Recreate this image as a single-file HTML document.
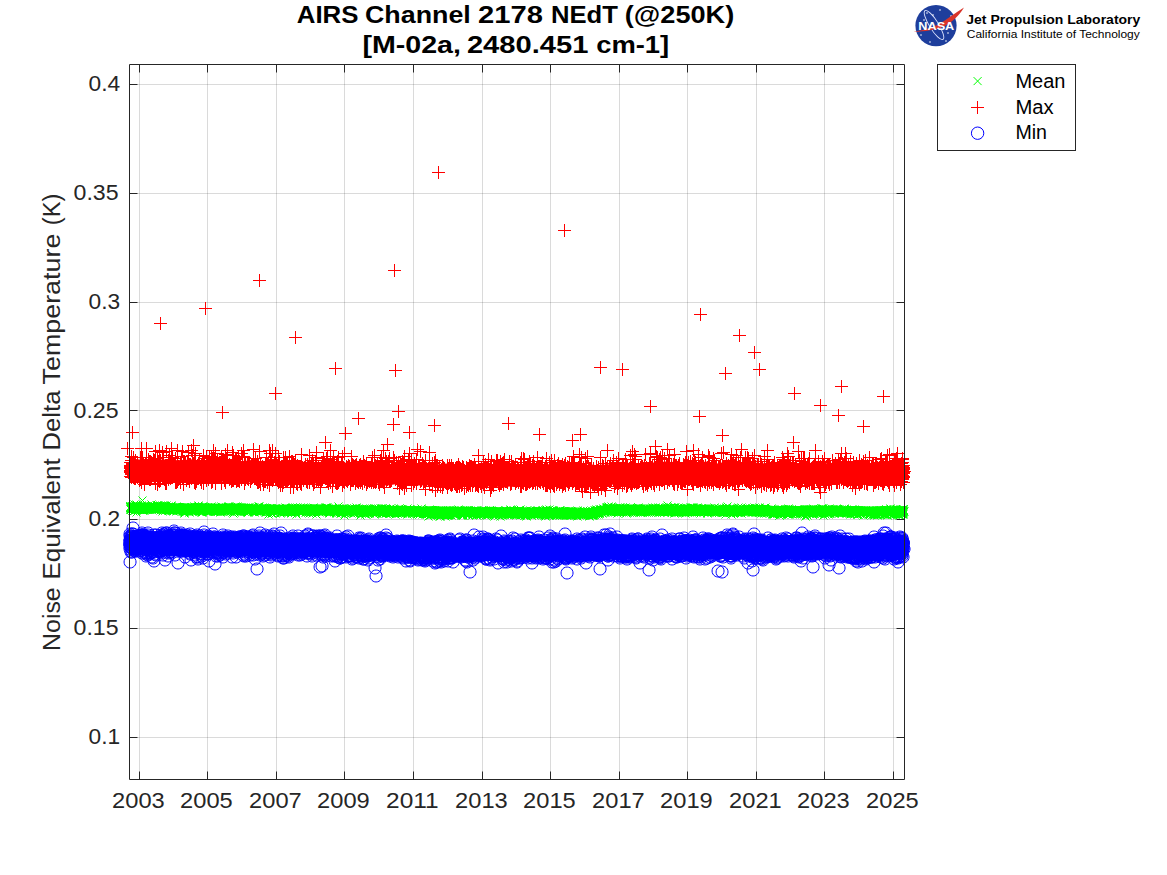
<!DOCTYPE html><html><head><meta charset="utf-8"><style>html,body{margin:0;padding:0;background:#fff;width:1167px;height:875px;overflow:hidden}svg{display:block}text{font-family:"Liberation Sans",sans-serif}</style></head><body><svg width="1167" height="875" viewBox="0 0 1167 875"><rect width="1167" height="875" fill="#fff"/><path d="M139.5 64.5V779.5M207.5 64.5V779.5M276.5 64.5V779.5M344.5 64.5V779.5M413.5 64.5V779.5M482.5 64.5V779.5M550.5 64.5V779.5M619.5 64.5V779.5M687.5 64.5V779.5M756.5 64.5V779.5M824.5 64.5V779.5M893.5 64.5V779.5" stroke="#262626" stroke-opacity=".17" stroke-width="1" fill="none"/><path d="M129.5 737.5H904.5M129.5 628.5H904.5M129.5 519.5H904.5M129.5 410.5H904.5M129.5 302.5H904.5M129.5 193.5H904.5M129.5 84.5H904.5" stroke="#262626" stroke-opacity=".17" stroke-width="1" fill="none"/><path d="M129.5 459.8 134.4 458.8 139.2 459.4 144.1 460 149 459.9 153.8 459.1 158.7 460 163.6 459.3 168.4 460.4 173.3 460.4 178.2 460 183 460.4 187.9 459.4 192.8 459.3 197.7 460.4 202.5 460.2 207.4 461.2 212.3 460.5 217.1 459.8 222 461.5 226.9 460.1 231.7 460.1 236.6 461.2 241.5 460.9 246.3 460.7 251.2 459.9 256.1 460 260.9 461.7 265.8 460.7 270.7 461.2 275.5 460.4 280.4 461.1 285.3 461.3 290.1 462.4 295 460.8 299.9 461.6 304.7 462.1 309.6 461.8 314.5 462.7 319.3 462.1 324.2 461.8 329.1 461.8 334 461.3 338.8 463.2 343.7 462.4 348.6 463.1 353.4 462.3 358.3 462 363.2 461.8 368 462.2 372.9 463.4 377.8 463.8 382.6 464 387.5 463.4 392.4 464.2 397.2 464.1 402.1 464 407 464.1 411.8 462.8 416.7 464 421.6 463.2 426.4 464.9 431.3 464.7 436.2 464.5 441 464.1 445.9 463.6 450.8 464 455.7 465.3 460.5 465.4 465.4 465.5 470.3 465.2 475.1 464.4 480 464.6 484.9 464.1 489.7 464.7 494.6 465.1 499.5 466 504.3 465.9 509.2 465.1 514.1 464.4 518.9 465 523.8 465.8 528.7 465.4 533.5 464.3 538.4 464.1 543.3 466 548.1 464.3 553 464.1 557.9 464.5 562.7 465.3 567.6 464 572.5 465.2 577.3 464.8 582.2 464.7 587.1 464.7 592 464.6 596.8 465.3 601.7 464.5 606.6 465 611.4 463.6 616.3 463.9 621.2 464.6 626 463.3 630.9 462.5 635.8 463.1 640.6 463.6 645.5 462.1 650.4 463.5 655.2 462 660.1 462.2 665 461.5 669.8 462.1 674.7 461.7 679.6 463.3 684.4 463.1 689.3 462.5 694.2 461.7 699 463 703.9 461.8 708.8 461.6 713.7 463 718.5 463.4 723.4 461.9 728.3 461.9 733.1 462.7 738 463 742.9 462.1 747.7 463.4 752.6 462.5 757.5 463 762.3 463.2 767.2 463.4 772.1 462.7 776.9 463.1 781.8 461.7 786.7 461.6 791.5 463.4 796.4 463.4 801.3 463 806.1 461.9 811 463 815.9 461.7 820.7 462 825.6 463.3 830.5 463 835.3 462.4 840.2 462.4 845.1 463.1 850 462.1 854.8 461.9 859.7 462.9 864.6 462.2 869.4 462.9 874.3 463 879.2 461.8 884 462.4 888.9 462.3 893.8 462.6 898.6 461.6 903.5 462.9 903.5 484.4 898.6 484.3 893.8 483.6 888.9 484.1 884 483.5 879.2 484.8 874.3 484.7 869.4 483.6 864.6 485 859.7 484.6 854.8 483 850 484.4 845.1 484.8 840.2 483.7 835.3 483.9 830.5 484.6 825.6 484.2 820.7 483.5 815.9 484.1 811 483.9 806.1 483.2 801.3 484.2 796.4 484.2 791.5 484.3 786.7 484.8 781.8 484.8 776.9 483.7 772.1 484.9 767.2 484.2 762.3 484.3 757.5 483.9 752.6 483.3 747.7 483.1 742.9 484.3 738 484.1 733.1 484 728.3 484.3 723.4 483.5 718.5 485 713.7 483.9 708.8 484.9 703.9 483.6 699 484.2 694.2 483.5 689.3 483.4 684.4 483.1 679.6 484.9 674.7 484.3 669.8 484.7 665 483.5 660.1 484.9 655.2 484.6 650.4 483.3 645.5 484.1 640.6 483.5 635.8 483.9 630.9 485.3 626 485 621.2 486.1 616.3 485.3 611.4 484.6 606.6 485 601.7 486 596.8 486.8 592 487.1 587.1 487.5 582.2 486.5 577.3 485.5 572.5 486.5 567.6 486.9 562.7 487.4 557.9 485.9 553 486.7 548.1 486.4 543.3 486.3 538.4 485.9 533.5 486.4 528.7 486.6 523.8 486.7 518.9 487 514.1 487.1 509.2 486.6 504.3 487.4 499.5 486.2 494.6 487.5 489.7 486.3 484.9 486.8 480 487.2 475.1 486.5 470.3 486.2 465.4 487 460.5 486.2 455.7 485.8 450.8 485.3 445.9 485 441 485.7 436.2 485.5 431.3 486.5 426.4 485 421.6 485.5 416.7 485.6 411.8 485.2 407 484.4 402.1 485.3 397.2 484 392.4 484.7 387.5 485.4 382.6 485.5 377.8 483.7 372.9 483.5 368 484 363.2 483.6 358.3 484.4 353.4 484.5 348.6 484.4 343.7 484.4 338.8 483.6 334 483.5 329.1 483.7 324.2 483.5 319.3 482.9 314.5 483.7 309.6 482.9 304.7 482.3 299.9 483.9 295 482.1 290.1 482 285.3 482.6 280.4 482 275.5 483.1 270.7 481.7 265.8 482.7 260.9 481.8 256.1 481.8 251.2 482.3 246.3 482.7 241.5 483.2 236.6 483.1 231.7 482 226.9 481.4 222 481.8 217.1 482.8 212.3 482.6 207.4 481.1 202.5 482.2 197.7 481 192.8 482 187.9 482.2 183 482.5 178.2 482.1 173.3 481 168.4 481.9 163.6 480.6 158.7 481.5 153.8 482.3 149 481.7 144.1 481.7 139.2 481.9 134.4 481.2 129.5 480.7 Z" fill="#f00"/><path d="M124 471.5h13m-6.5-6.5v13M124 468.5h13m-6.5-6.5v13M124 465.5h13m-6.5-6.5v13M124 467.5h13m-6.5-6.5v13M124 476.5h13m-6.5-6.5v13M124 466.5h13m-6.5-6.5v13M124 471.5h13m-6.5-6.5v13M124 472.5h13m-6.5-6.5v13M124 462.5h13m-6.5-6.5v13M124 470.5h13m-6.5-6.5v13M124 476.5h13m-6.5-6.5v13M125 460.5h13m-6.5-6.5v13M125 468.5h13m-6.5-6.5v13M125 469.5h13m-6.5-6.5v13M125 466.5h13m-6.5-6.5v13M125 472.5h13m-6.5-6.5v13M125 469.5h13m-6.5-6.5v13M125 462.5h13m-6.5-6.5v13M125 474.5h13m-6.5-6.5v13M125 473.5h13m-6.5-6.5v13M125 474.5h13m-6.5-6.5v13M125 477.5h13m-6.5-6.5v13M126 472.5h13m-6.5-6.5v13M126 470.5h13m-6.5-6.5v13M126 463.5h13m-6.5-6.5v13M126 473.5h13m-6.5-6.5v13M126 467.5h13m-6.5-6.5v13M126 468.5h13m-6.5-6.5v13M126 464.5h13m-6.5-6.5v13M126 465.5h13m-6.5-6.5v13M126 467.5h13m-6.5-6.5v13M126 476.5h13m-6.5-6.5v13M127 460.5h13m-6.5-6.5v13M127 463.5h13m-6.5-6.5v13M127 471.5h13m-6.5-6.5v13M127 477.5h13m-6.5-6.5v13M127 473.5h13m-6.5-6.5v13M127 460.5h13m-6.5-6.5v13M127 457.5h13m-6.5-6.5v13M127 472.5h13m-6.5-6.5v13M127 466.5h13m-6.5-6.5v13M127 464.5h13m-6.5-6.5v13M127 475.5h13m-6.5-6.5v13M128 475.5h13m-6.5-6.5v13M128 471.5h13m-6.5-6.5v13M128 471.5h13m-6.5-6.5v13M128 472.5h13m-6.5-6.5v13M128 478.5h13m-6.5-6.5v13M128 473.5h13m-6.5-6.5v13M128 472.5h13m-6.5-6.5v13M128 473.5h13m-6.5-6.5v13M128 462.5h13m-6.5-6.5v13M128 476.5h13m-6.5-6.5v13M129 475.5h13m-6.5-6.5v13M129 473.5h13m-6.5-6.5v13M129 460.5h13m-6.5-6.5v13M129 467.5h13m-6.5-6.5v13M129 474.5h13m-6.5-6.5v13M129 461.5h13m-6.5-6.5v13M129 469.5h13m-6.5-6.5v13M129 475.5h13m-6.5-6.5v13M129 463.5h13m-6.5-6.5v13M129 478.5h13m-6.5-6.5v13M129 473.5h13m-6.5-6.5v13M130 469.5h13m-6.5-6.5v13M130 472.5h13m-6.5-6.5v13M130 473.5h13m-6.5-6.5v13M130 471.5h13m-6.5-6.5v13M130 476.5h13m-6.5-6.5v13M130 467.5h13m-6.5-6.5v13M130 468.5h13m-6.5-6.5v13M130 475.5h13m-6.5-6.5v13M130 470.5h13m-6.5-6.5v13M130 466.5h13m-6.5-6.5v13M130 475.5h13m-6.5-6.5v13M131 477.5h13m-6.5-6.5v13M131 463.5h13m-6.5-6.5v13M131 477.5h13m-6.5-6.5v13M131 465.5h13m-6.5-6.5v13M131 476.5h13m-6.5-6.5v13M131 464.5h13m-6.5-6.5v13M132 476.5h13m-6.5-6.5v13M133 480.5h13m-6.5-6.5v13M133 475.5h13m-6.5-6.5v13M134 479.5h13m-6.5-6.5v13M134 457.5h13m-6.5-6.5v13M134 465.5h13m-6.5-6.5v13M135 482.5h13m-6.5-6.5v13M135 457.5h13m-6.5-6.5v13M135 475.5h13m-6.5-6.5v13M135 464.5h13m-6.5-6.5v13M136 475.5h13m-6.5-6.5v13M136 478.5h13m-6.5-6.5v13M136 462.5h13m-6.5-6.5v13M136 476.5h13m-6.5-6.5v13M136 457.5h13m-6.5-6.5v13M136 476.5h13m-6.5-6.5v13M137 463.5h13m-6.5-6.5v13M137 463.5h13m-6.5-6.5v13M137 476.5h13m-6.5-6.5v13M137 478.5h13m-6.5-6.5v13M138 476.5h13m-6.5-6.5v13M138 484.5h13m-6.5-6.5v13M138 465.5h13m-6.5-6.5v13M139 463.5h13m-6.5-6.5v13M139 463.5h13m-6.5-6.5v13M139 466.5h13m-6.5-6.5v13M139 465.5h13m-6.5-6.5v13M139 463.5h13m-6.5-6.5v13M139 477.5h13m-6.5-6.5v13M139 478.5h13m-6.5-6.5v13M139 466.5h13m-6.5-6.5v13M140 465.5h13m-6.5-6.5v13M140 478.5h13m-6.5-6.5v13M140 466.5h13m-6.5-6.5v13M140 478.5h13m-6.5-6.5v13M140 475.5h13m-6.5-6.5v13M140 461.5h13m-6.5-6.5v13M140 477.5h13m-6.5-6.5v13M141 478.5h13m-6.5-6.5v13M141 465.5h13m-6.5-6.5v13M141 476.5h13m-6.5-6.5v13M141 478.5h13m-6.5-6.5v13M141 478.5h13m-6.5-6.5v13M141 476.5h13m-6.5-6.5v13M142 478.5h13m-6.5-6.5v13M142 459.5h13m-6.5-6.5v13M142 461.5h13m-6.5-6.5v13M143 477.5h13m-6.5-6.5v13M143 476.5h13m-6.5-6.5v13M143 478.5h13m-6.5-6.5v13M143 479.5h13m-6.5-6.5v13M143 461.5h13m-6.5-6.5v13M144 465.5h13m-6.5-6.5v13M144 461.5h13m-6.5-6.5v13M144 476.5h13m-6.5-6.5v13M144 465.5h13m-6.5-6.5v13M144 479.5h13m-6.5-6.5v13M145 476.5h13m-6.5-6.5v13M145 464.5h13m-6.5-6.5v13M145 476.5h13m-6.5-6.5v13M145 462.5h13m-6.5-6.5v13M145 476.5h13m-6.5-6.5v13M146 465.5h13m-6.5-6.5v13M146 463.5h13m-6.5-6.5v13M146 475.5h13m-6.5-6.5v13M146 466.5h13m-6.5-6.5v13M146 463.5h13m-6.5-6.5v13M147 465.5h13m-6.5-6.5v13M147 459.5h13m-6.5-6.5v13M147 461.5h13m-6.5-6.5v13M147 460.5h13m-6.5-6.5v13M147 466.5h13m-6.5-6.5v13M148 477.5h13m-6.5-6.5v13M148 460.5h13m-6.5-6.5v13M149 477.5h13m-6.5-6.5v13M149 480.5h13m-6.5-6.5v13M149 462.5h13m-6.5-6.5v13M149 483.5h13m-6.5-6.5v13M149 466.5h13m-6.5-6.5v13M149 480.5h13m-6.5-6.5v13M150 466.5h13m-6.5-6.5v13M150 466.5h13m-6.5-6.5v13M151 466.5h13m-6.5-6.5v13M151 467.5h13m-6.5-6.5v13M151 484.5h13m-6.5-6.5v13M151 476.5h13m-6.5-6.5v13M151 458.5h13m-6.5-6.5v13M152 479.5h13m-6.5-6.5v13M152 461.5h13m-6.5-6.5v13M152 476.5h13m-6.5-6.5v13M152 477.5h13m-6.5-6.5v13M152 480.5h13m-6.5-6.5v13M152 464.5h13m-6.5-6.5v13M153 466.5h13m-6.5-6.5v13M153 481.5h13m-6.5-6.5v13M153 476.5h13m-6.5-6.5v13M153 465.5h13m-6.5-6.5v13M153 464.5h13m-6.5-6.5v13M153 479.5h13m-6.5-6.5v13M154 476.5h13m-6.5-6.5v13M154 480.5h13m-6.5-6.5v13M154 466.5h13m-6.5-6.5v13M154 460.5h13m-6.5-6.5v13M155 467.5h13m-6.5-6.5v13M156 464.5h13m-6.5-6.5v13M156 476.5h13m-6.5-6.5v13M157 466.5h13m-6.5-6.5v13M157 461.5h13m-6.5-6.5v13M157 466.5h13m-6.5-6.5v13M157 465.5h13m-6.5-6.5v13M157 457.5h13m-6.5-6.5v13M157 465.5h13m-6.5-6.5v13M157 478.5h13m-6.5-6.5v13M157 464.5h13m-6.5-6.5v13M158 478.5h13m-6.5-6.5v13M158 479.5h13m-6.5-6.5v13M158 475.5h13m-6.5-6.5v13M159 476.5h13m-6.5-6.5v13M159 465.5h13m-6.5-6.5v13M159 476.5h13m-6.5-6.5v13M159 483.5h13m-6.5-6.5v13M159 477.5h13m-6.5-6.5v13M160 483.5h13m-6.5-6.5v13M160 475.5h13m-6.5-6.5v13M160 465.5h13m-6.5-6.5v13M161 476.5h13m-6.5-6.5v13M161 465.5h13m-6.5-6.5v13M162 463.5h13m-6.5-6.5v13M162 460.5h13m-6.5-6.5v13M162 463.5h13m-6.5-6.5v13M162 479.5h13m-6.5-6.5v13M163 476.5h13m-6.5-6.5v13M163 466.5h13m-6.5-6.5v13M163 461.5h13m-6.5-6.5v13M163 475.5h13m-6.5-6.5v13M163 461.5h13m-6.5-6.5v13M164 462.5h13m-6.5-6.5v13M164 461.5h13m-6.5-6.5v13M164 465.5h13m-6.5-6.5v13M164 463.5h13m-6.5-6.5v13M164 478.5h13m-6.5-6.5v13M164 476.5h13m-6.5-6.5v13M165 464.5h13m-6.5-6.5v13M165 465.5h13m-6.5-6.5v13M165 465.5h13m-6.5-6.5v13M165 462.5h13m-6.5-6.5v13M165 464.5h13m-6.5-6.5v13M166 457.5h13m-6.5-6.5v13M166 465.5h13m-6.5-6.5v13M167 463.5h13m-6.5-6.5v13M167 463.5h13m-6.5-6.5v13M167 466.5h13m-6.5-6.5v13M168 464.5h13m-6.5-6.5v13M168 465.5h13m-6.5-6.5v13M169 482.5h13m-6.5-6.5v13M169 476.5h13m-6.5-6.5v13M169 476.5h13m-6.5-6.5v13M169 458.5h13m-6.5-6.5v13M170 482.5h13m-6.5-6.5v13M170 477.5h13m-6.5-6.5v13M170 475.5h13m-6.5-6.5v13M171 465.5h13m-6.5-6.5v13M171 476.5h13m-6.5-6.5v13M171 465.5h13m-6.5-6.5v13M171 481.5h13m-6.5-6.5v13M171 476.5h13m-6.5-6.5v13M171 466.5h13m-6.5-6.5v13M172 479.5h13m-6.5-6.5v13M172 479.5h13m-6.5-6.5v13M172 477.5h13m-6.5-6.5v13M173 477.5h13m-6.5-6.5v13M173 478.5h13m-6.5-6.5v13M174 476.5h13m-6.5-6.5v13M174 482.5h13m-6.5-6.5v13M174 462.5h13m-6.5-6.5v13M174 479.5h13m-6.5-6.5v13M174 477.5h13m-6.5-6.5v13M174 464.5h13m-6.5-6.5v13M175 463.5h13m-6.5-6.5v13M175 462.5h13m-6.5-6.5v13M175 476.5h13m-6.5-6.5v13M175 465.5h13m-6.5-6.5v13M175 463.5h13m-6.5-6.5v13M176 466.5h13m-6.5-6.5v13M176 478.5h13m-6.5-6.5v13M177 466.5h13m-6.5-6.5v13M177 481.5h13m-6.5-6.5v13M177 484.5h13m-6.5-6.5v13M177 461.5h13m-6.5-6.5v13M178 461.5h13m-6.5-6.5v13M178 466.5h13m-6.5-6.5v13M179 465.5h13m-6.5-6.5v13M179 465.5h13m-6.5-6.5v13M179 463.5h13m-6.5-6.5v13M180 466.5h13m-6.5-6.5v13M180 480.5h13m-6.5-6.5v13M181 478.5h13m-6.5-6.5v13M181 462.5h13m-6.5-6.5v13M181 478.5h13m-6.5-6.5v13M181 462.5h13m-6.5-6.5v13M182 463.5h13m-6.5-6.5v13M182 478.5h13m-6.5-6.5v13M182 465.5h13m-6.5-6.5v13M182 464.5h13m-6.5-6.5v13M183 464.5h13m-6.5-6.5v13M183 479.5h13m-6.5-6.5v13M183 481.5h13m-6.5-6.5v13M183 465.5h13m-6.5-6.5v13M184 465.5h13m-6.5-6.5v13M184 464.5h13m-6.5-6.5v13M184 476.5h13m-6.5-6.5v13M185 477.5h13m-6.5-6.5v13M185 478.5h13m-6.5-6.5v13M186 463.5h13m-6.5-6.5v13M186 465.5h13m-6.5-6.5v13M186 461.5h13m-6.5-6.5v13M187 463.5h13m-6.5-6.5v13M188 479.5h13m-6.5-6.5v13M188 482.5h13m-6.5-6.5v13M188 476.5h13m-6.5-6.5v13M188 464.5h13m-6.5-6.5v13M188 460.5h13m-6.5-6.5v13M189 483.5h13m-6.5-6.5v13M189 475.5h13m-6.5-6.5v13M189 479.5h13m-6.5-6.5v13M189 464.5h13m-6.5-6.5v13M189 453.5h13m-6.5-6.5v13M190 475.5h13m-6.5-6.5v13M190 481.5h13m-6.5-6.5v13M190 466.5h13m-6.5-6.5v13M191 465.5h13m-6.5-6.5v13M191 478.5h13m-6.5-6.5v13M191 466.5h13m-6.5-6.5v13M192 476.5h13m-6.5-6.5v13M192 463.5h13m-6.5-6.5v13M192 478.5h13m-6.5-6.5v13M192 463.5h13m-6.5-6.5v13M192 475.5h13m-6.5-6.5v13M193 460.5h13m-6.5-6.5v13M193 477.5h13m-6.5-6.5v13M194 478.5h13m-6.5-6.5v13M194 479.5h13m-6.5-6.5v13M194 477.5h13m-6.5-6.5v13M195 476.5h13m-6.5-6.5v13M195 482.5h13m-6.5-6.5v13M195 465.5h13m-6.5-6.5v13M196 463.5h13m-6.5-6.5v13M196 463.5h13m-6.5-6.5v13M197 478.5h13m-6.5-6.5v13M197 477.5h13m-6.5-6.5v13M197 464.5h13m-6.5-6.5v13M197 483.5h13m-6.5-6.5v13M197 481.5h13m-6.5-6.5v13M197 461.5h13m-6.5-6.5v13M198 475.5h13m-6.5-6.5v13M198 465.5h13m-6.5-6.5v13M198 476.5h13m-6.5-6.5v13M198 465.5h13m-6.5-6.5v13M198 465.5h13m-6.5-6.5v13M198 461.5h13m-6.5-6.5v13M199 466.5h13m-6.5-6.5v13M199 476.5h13m-6.5-6.5v13M200 479.5h13m-6.5-6.5v13M200 458.5h13m-6.5-6.5v13M200 480.5h13m-6.5-6.5v13M200 464.5h13m-6.5-6.5v13M201 461.5h13m-6.5-6.5v13M201 476.5h13m-6.5-6.5v13M201 461.5h13m-6.5-6.5v13M201 477.5h13m-6.5-6.5v13M202 466.5h13m-6.5-6.5v13M202 479.5h13m-6.5-6.5v13M202 465.5h13m-6.5-6.5v13M203 475.5h13m-6.5-6.5v13M203 477.5h13m-6.5-6.5v13M204 464.5h13m-6.5-6.5v13M204 465.5h13m-6.5-6.5v13M205 477.5h13m-6.5-6.5v13M205 466.5h13m-6.5-6.5v13M205 482.5h13m-6.5-6.5v13M205 476.5h13m-6.5-6.5v13M206 481.5h13m-6.5-6.5v13M206 458.5h13m-6.5-6.5v13M206 481.5h13m-6.5-6.5v13M206 462.5h13m-6.5-6.5v13M206 462.5h13m-6.5-6.5v13M207 476.5h13m-6.5-6.5v13M207 477.5h13m-6.5-6.5v13M207 463.5h13m-6.5-6.5v13M207 462.5h13m-6.5-6.5v13M207 476.5h13m-6.5-6.5v13M207 466.5h13m-6.5-6.5v13M208 459.5h13m-6.5-6.5v13M208 458.5h13m-6.5-6.5v13M209 483.5h13m-6.5-6.5v13M209 466.5h13m-6.5-6.5v13M209 476.5h13m-6.5-6.5v13M210 462.5h13m-6.5-6.5v13M210 476.5h13m-6.5-6.5v13M210 475.5h13m-6.5-6.5v13M210 465.5h13m-6.5-6.5v13M211 460.5h13m-6.5-6.5v13M211 476.5h13m-6.5-6.5v13M211 465.5h13m-6.5-6.5v13M212 464.5h13m-6.5-6.5v13M212 464.5h13m-6.5-6.5v13M212 465.5h13m-6.5-6.5v13M212 477.5h13m-6.5-6.5v13M213 462.5h13m-6.5-6.5v13M214 462.5h13m-6.5-6.5v13M214 465.5h13m-6.5-6.5v13M215 480.5h13m-6.5-6.5v13M215 457.5h13m-6.5-6.5v13M215 461.5h13m-6.5-6.5v13M215 475.5h13m-6.5-6.5v13M215 483.5h13m-6.5-6.5v13M215 458.5h13m-6.5-6.5v13M216 459.5h13m-6.5-6.5v13M217 459.5h13m-6.5-6.5v13M217 466.5h13m-6.5-6.5v13M217 476.5h13m-6.5-6.5v13M218 480.5h13m-6.5-6.5v13M218 466.5h13m-6.5-6.5v13M218 461.5h13m-6.5-6.5v13M218 478.5h13m-6.5-6.5v13M218 475.5h13m-6.5-6.5v13M218 466.5h13m-6.5-6.5v13M219 461.5h13m-6.5-6.5v13M219 465.5h13m-6.5-6.5v13M219 482.5h13m-6.5-6.5v13M219 480.5h13m-6.5-6.5v13M219 477.5h13m-6.5-6.5v13M220 465.5h13m-6.5-6.5v13M220 477.5h13m-6.5-6.5v13M220 461.5h13m-6.5-6.5v13M220 459.5h13m-6.5-6.5v13M220 464.5h13m-6.5-6.5v13M221 460.5h13m-6.5-6.5v13M222 475.5h13m-6.5-6.5v13M222 477.5h13m-6.5-6.5v13M223 466.5h13m-6.5-6.5v13M223 478.5h13m-6.5-6.5v13M223 479.5h13m-6.5-6.5v13M223 476.5h13m-6.5-6.5v13M223 476.5h13m-6.5-6.5v13M223 464.5h13m-6.5-6.5v13M224 477.5h13m-6.5-6.5v13M224 466.5h13m-6.5-6.5v13M224 466.5h13m-6.5-6.5v13M224 478.5h13m-6.5-6.5v13M225 481.5h13m-6.5-6.5v13M225 476.5h13m-6.5-6.5v13M225 478.5h13m-6.5-6.5v13M225 477.5h13m-6.5-6.5v13M226 477.5h13m-6.5-6.5v13M226 463.5h13m-6.5-6.5v13M226 480.5h13m-6.5-6.5v13M227 463.5h13m-6.5-6.5v13M227 480.5h13m-6.5-6.5v13M227 465.5h13m-6.5-6.5v13M227 465.5h13m-6.5-6.5v13M228 466.5h13m-6.5-6.5v13M228 478.5h13m-6.5-6.5v13M228 462.5h13m-6.5-6.5v13M228 466.5h13m-6.5-6.5v13M228 465.5h13m-6.5-6.5v13M229 478.5h13m-6.5-6.5v13M229 459.5h13m-6.5-6.5v13M230 466.5h13m-6.5-6.5v13M230 481.5h13m-6.5-6.5v13M230 466.5h13m-6.5-6.5v13M230 465.5h13m-6.5-6.5v13M230 464.5h13m-6.5-6.5v13M230 459.5h13m-6.5-6.5v13M230 461.5h13m-6.5-6.5v13M231 461.5h13m-6.5-6.5v13M231 463.5h13m-6.5-6.5v13M231 477.5h13m-6.5-6.5v13M231 480.5h13m-6.5-6.5v13M231 476.5h13m-6.5-6.5v13M232 480.5h13m-6.5-6.5v13M232 478.5h13m-6.5-6.5v13M232 464.5h13m-6.5-6.5v13M233 463.5h13m-6.5-6.5v13M233 477.5h13m-6.5-6.5v13M233 465.5h13m-6.5-6.5v13M233 478.5h13m-6.5-6.5v13M233 461.5h13m-6.5-6.5v13M233 480.5h13m-6.5-6.5v13M233 481.5h13m-6.5-6.5v13M234 465.5h13m-6.5-6.5v13M234 476.5h13m-6.5-6.5v13M234 463.5h13m-6.5-6.5v13M234 465.5h13m-6.5-6.5v13M234 464.5h13m-6.5-6.5v13M235 476.5h13m-6.5-6.5v13M235 479.5h13m-6.5-6.5v13M236 477.5h13m-6.5-6.5v13M236 465.5h13m-6.5-6.5v13M236 476.5h13m-6.5-6.5v13M236 463.5h13m-6.5-6.5v13M236 467.5h13m-6.5-6.5v13M237 477.5h13m-6.5-6.5v13M238 457.5h13m-6.5-6.5v13M238 477.5h13m-6.5-6.5v13M238 462.5h13m-6.5-6.5v13M238 476.5h13m-6.5-6.5v13M238 466.5h13m-6.5-6.5v13M238 479.5h13m-6.5-6.5v13M238 483.5h13m-6.5-6.5v13M239 466.5h13m-6.5-6.5v13M239 477.5h13m-6.5-6.5v13M239 479.5h13m-6.5-6.5v13M239 463.5h13m-6.5-6.5v13M240 467.5h13m-6.5-6.5v13M240 476.5h13m-6.5-6.5v13M241 464.5h13m-6.5-6.5v13M241 478.5h13m-6.5-6.5v13M241 477.5h13m-6.5-6.5v13M241 463.5h13m-6.5-6.5v13M241 464.5h13m-6.5-6.5v13M242 476.5h13m-6.5-6.5v13M242 479.5h13m-6.5-6.5v13M242 467.5h13m-6.5-6.5v13M242 464.5h13m-6.5-6.5v13M242 476.5h13m-6.5-6.5v13M242 465.5h13m-6.5-6.5v13M243 462.5h13m-6.5-6.5v13M244 479.5h13m-6.5-6.5v13M244 481.5h13m-6.5-6.5v13M244 479.5h13m-6.5-6.5v13M244 480.5h13m-6.5-6.5v13M245 466.5h13m-6.5-6.5v13M245 478.5h13m-6.5-6.5v13M245 464.5h13m-6.5-6.5v13M245 476.5h13m-6.5-6.5v13M246 466.5h13m-6.5-6.5v13M246 467.5h13m-6.5-6.5v13M246 477.5h13m-6.5-6.5v13M246 465.5h13m-6.5-6.5v13M246 476.5h13m-6.5-6.5v13M247 464.5h13m-6.5-6.5v13M247 461.5h13m-6.5-6.5v13M247 464.5h13m-6.5-6.5v13M247 465.5h13m-6.5-6.5v13M248 467.5h13m-6.5-6.5v13M248 478.5h13m-6.5-6.5v13M248 464.5h13m-6.5-6.5v13M248 467.5h13m-6.5-6.5v13M249 466.5h13m-6.5-6.5v13M249 461.5h13m-6.5-6.5v13M249 478.5h13m-6.5-6.5v13M249 467.5h13m-6.5-6.5v13M249 458.5h13m-6.5-6.5v13M250 478.5h13m-6.5-6.5v13M250 476.5h13m-6.5-6.5v13M250 479.5h13m-6.5-6.5v13M250 477.5h13m-6.5-6.5v13M250 477.5h13m-6.5-6.5v13M250 464.5h13m-6.5-6.5v13M250 465.5h13m-6.5-6.5v13M251 466.5h13m-6.5-6.5v13M251 461.5h13m-6.5-6.5v13M251 478.5h13m-6.5-6.5v13M251 479.5h13m-6.5-6.5v13M251 465.5h13m-6.5-6.5v13M251 477.5h13m-6.5-6.5v13M251 482.5h13m-6.5-6.5v13M252 482.5h13m-6.5-6.5v13M252 477.5h13m-6.5-6.5v13M252 477.5h13m-6.5-6.5v13M252 465.5h13m-6.5-6.5v13M253 480.5h13m-6.5-6.5v13M253 477.5h13m-6.5-6.5v13M253 481.5h13m-6.5-6.5v13M253 478.5h13m-6.5-6.5v13M253 478.5h13m-6.5-6.5v13M254 465.5h13m-6.5-6.5v13M254 466.5h13m-6.5-6.5v13M254 484.5h13m-6.5-6.5v13M254 468.5h13m-6.5-6.5v13M254 478.5h13m-6.5-6.5v13M254 464.5h13m-6.5-6.5v13M254 468.5h13m-6.5-6.5v13M255 468.5h13m-6.5-6.5v13M256 480.5h13m-6.5-6.5v13M256 477.5h13m-6.5-6.5v13M256 466.5h13m-6.5-6.5v13M257 481.5h13m-6.5-6.5v13M257 468.5h13m-6.5-6.5v13M257 481.5h13m-6.5-6.5v13M257 479.5h13m-6.5-6.5v13M257 467.5h13m-6.5-6.5v13M257 478.5h13m-6.5-6.5v13M257 479.5h13m-6.5-6.5v13M257 484.5h13m-6.5-6.5v13M258 481.5h13m-6.5-6.5v13M258 480.5h13m-6.5-6.5v13M258 467.5h13m-6.5-6.5v13M259 477.5h13m-6.5-6.5v13M259 481.5h13m-6.5-6.5v13M259 466.5h13m-6.5-6.5v13M259 467.5h13m-6.5-6.5v13M259 467.5h13m-6.5-6.5v13M259 463.5h13m-6.5-6.5v13M259 463.5h13m-6.5-6.5v13M259 480.5h13m-6.5-6.5v13M260 464.5h13m-6.5-6.5v13M260 463.5h13m-6.5-6.5v13M261 467.5h13m-6.5-6.5v13M261 463.5h13m-6.5-6.5v13M261 482.5h13m-6.5-6.5v13M261 466.5h13m-6.5-6.5v13M261 468.5h13m-6.5-6.5v13M262 464.5h13m-6.5-6.5v13M262 468.5h13m-6.5-6.5v13M262 467.5h13m-6.5-6.5v13M262 479.5h13m-6.5-6.5v13M262 468.5h13m-6.5-6.5v13M262 462.5h13m-6.5-6.5v13M263 466.5h13m-6.5-6.5v13M263 485.5h13m-6.5-6.5v13M263 467.5h13m-6.5-6.5v13M263 466.5h13m-6.5-6.5v13M263 467.5h13m-6.5-6.5v13M263 481.5h13m-6.5-6.5v13M264 464.5h13m-6.5-6.5v13M264 478.5h13m-6.5-6.5v13M264 467.5h13m-6.5-6.5v13M265 468.5h13m-6.5-6.5v13M265 459.5h13m-6.5-6.5v13M265 468.5h13m-6.5-6.5v13M265 465.5h13m-6.5-6.5v13M265 479.5h13m-6.5-6.5v13M266 467.5h13m-6.5-6.5v13M266 466.5h13m-6.5-6.5v13M266 480.5h13m-6.5-6.5v13M266 477.5h13m-6.5-6.5v13M266 469.5h13m-6.5-6.5v13M267 479.5h13m-6.5-6.5v13M267 468.5h13m-6.5-6.5v13M267 465.5h13m-6.5-6.5v13M267 478.5h13m-6.5-6.5v13M267 467.5h13m-6.5-6.5v13M267 468.5h13m-6.5-6.5v13M267 466.5h13m-6.5-6.5v13M268 468.5h13m-6.5-6.5v13M268 462.5h13m-6.5-6.5v13M269 465.5h13m-6.5-6.5v13M269 478.5h13m-6.5-6.5v13M269 477.5h13m-6.5-6.5v13M269 465.5h13m-6.5-6.5v13M269 464.5h13m-6.5-6.5v13M270 479.5h13m-6.5-6.5v13M270 467.5h13m-6.5-6.5v13M270 477.5h13m-6.5-6.5v13M270 477.5h13m-6.5-6.5v13M270 463.5h13m-6.5-6.5v13M271 466.5h13m-6.5-6.5v13M271 478.5h13m-6.5-6.5v13M271 480.5h13m-6.5-6.5v13M272 482.5h13m-6.5-6.5v13M272 481.5h13m-6.5-6.5v13M272 481.5h13m-6.5-6.5v13M272 478.5h13m-6.5-6.5v13M273 481.5h13m-6.5-6.5v13M273 463.5h13m-6.5-6.5v13M273 467.5h13m-6.5-6.5v13M273 467.5h13m-6.5-6.5v13M273 461.5h13m-6.5-6.5v13M274 485.5h13m-6.5-6.5v13M274 480.5h13m-6.5-6.5v13M274 480.5h13m-6.5-6.5v13M274 477.5h13m-6.5-6.5v13M275 481.5h13m-6.5-6.5v13M275 468.5h13m-6.5-6.5v13M275 477.5h13m-6.5-6.5v13M275 466.5h13m-6.5-6.5v13M275 478.5h13m-6.5-6.5v13M275 479.5h13m-6.5-6.5v13M275 468.5h13m-6.5-6.5v13M275 478.5h13m-6.5-6.5v13M276 466.5h13m-6.5-6.5v13M276 478.5h13m-6.5-6.5v13M276 481.5h13m-6.5-6.5v13M276 485.5h13m-6.5-6.5v13M276 477.5h13m-6.5-6.5v13M277 464.5h13m-6.5-6.5v13M277 478.5h13m-6.5-6.5v13M277 482.5h13m-6.5-6.5v13M277 463.5h13m-6.5-6.5v13M277 467.5h13m-6.5-6.5v13M278 478.5h13m-6.5-6.5v13M278 464.5h13m-6.5-6.5v13M278 466.5h13m-6.5-6.5v13M278 467.5h13m-6.5-6.5v13M279 463.5h13m-6.5-6.5v13M279 481.5h13m-6.5-6.5v13M279 463.5h13m-6.5-6.5v13M279 478.5h13m-6.5-6.5v13M279 465.5h13m-6.5-6.5v13M279 468.5h13m-6.5-6.5v13M279 462.5h13m-6.5-6.5v13M280 464.5h13m-6.5-6.5v13M280 480.5h13m-6.5-6.5v13M280 467.5h13m-6.5-6.5v13M280 468.5h13m-6.5-6.5v13M281 481.5h13m-6.5-6.5v13M281 467.5h13m-6.5-6.5v13M281 480.5h13m-6.5-6.5v13M281 477.5h13m-6.5-6.5v13M281 463.5h13m-6.5-6.5v13M282 467.5h13m-6.5-6.5v13M282 468.5h13m-6.5-6.5v13M282 466.5h13m-6.5-6.5v13M282 479.5h13m-6.5-6.5v13M282 468.5h13m-6.5-6.5v13M282 477.5h13m-6.5-6.5v13M283 467.5h13m-6.5-6.5v13M283 477.5h13m-6.5-6.5v13M283 478.5h13m-6.5-6.5v13M284 487.5h13m-6.5-6.5v13M284 468.5h13m-6.5-6.5v13M285 467.5h13m-6.5-6.5v13M285 480.5h13m-6.5-6.5v13M285 478.5h13m-6.5-6.5v13M285 461.5h13m-6.5-6.5v13M286 463.5h13m-6.5-6.5v13M286 461.5h13m-6.5-6.5v13M286 468.5h13m-6.5-6.5v13M286 481.5h13m-6.5-6.5v13M286 481.5h13m-6.5-6.5v13M287 479.5h13m-6.5-6.5v13M287 464.5h13m-6.5-6.5v13M287 463.5h13m-6.5-6.5v13M287 468.5h13m-6.5-6.5v13M287 487.5h13m-6.5-6.5v13M288 477.5h13m-6.5-6.5v13M288 481.5h13m-6.5-6.5v13M288 466.5h13m-6.5-6.5v13M288 465.5h13m-6.5-6.5v13M288 464.5h13m-6.5-6.5v13M289 461.5h13m-6.5-6.5v13M289 460.5h13m-6.5-6.5v13M289 465.5h13m-6.5-6.5v13M289 468.5h13m-6.5-6.5v13M290 483.5h13m-6.5-6.5v13M291 484.5h13m-6.5-6.5v13M291 479.5h13m-6.5-6.5v13M291 465.5h13m-6.5-6.5v13M291 482.5h13m-6.5-6.5v13M291 479.5h13m-6.5-6.5v13M292 466.5h13m-6.5-6.5v13M292 468.5h13m-6.5-6.5v13M292 467.5h13m-6.5-6.5v13M292 466.5h13m-6.5-6.5v13M293 478.5h13m-6.5-6.5v13M293 480.5h13m-6.5-6.5v13M293 477.5h13m-6.5-6.5v13M293 477.5h13m-6.5-6.5v13M294 468.5h13m-6.5-6.5v13M294 482.5h13m-6.5-6.5v13M294 483.5h13m-6.5-6.5v13M294 481.5h13m-6.5-6.5v13M294 482.5h13m-6.5-6.5v13M294 468.5h13m-6.5-6.5v13M295 462.5h13m-6.5-6.5v13M295 484.5h13m-6.5-6.5v13M295 484.5h13m-6.5-6.5v13M296 468.5h13m-6.5-6.5v13M296 468.5h13m-6.5-6.5v13M296 467.5h13m-6.5-6.5v13M296 477.5h13m-6.5-6.5v13M297 480.5h13m-6.5-6.5v13M297 468.5h13m-6.5-6.5v13M298 467.5h13m-6.5-6.5v13M298 468.5h13m-6.5-6.5v13M298 467.5h13m-6.5-6.5v13M299 468.5h13m-6.5-6.5v13M299 469.5h13m-6.5-6.5v13M299 478.5h13m-6.5-6.5v13M299 464.5h13m-6.5-6.5v13M299 477.5h13m-6.5-6.5v13M300 481.5h13m-6.5-6.5v13M300 468.5h13m-6.5-6.5v13M300 478.5h13m-6.5-6.5v13M300 479.5h13m-6.5-6.5v13M301 467.5h13m-6.5-6.5v13M301 478.5h13m-6.5-6.5v13M301 478.5h13m-6.5-6.5v13M301 464.5h13m-6.5-6.5v13M301 480.5h13m-6.5-6.5v13M301 467.5h13m-6.5-6.5v13M301 478.5h13m-6.5-6.5v13M301 482.5h13m-6.5-6.5v13M302 478.5h13m-6.5-6.5v13M302 467.5h13m-6.5-6.5v13M303 482.5h13m-6.5-6.5v13M303 480.5h13m-6.5-6.5v13M303 468.5h13m-6.5-6.5v13M304 478.5h13m-6.5-6.5v13M304 467.5h13m-6.5-6.5v13M304 467.5h13m-6.5-6.5v13M305 465.5h13m-6.5-6.5v13M305 468.5h13m-6.5-6.5v13M305 478.5h13m-6.5-6.5v13M305 478.5h13m-6.5-6.5v13M305 463.5h13m-6.5-6.5v13M306 468.5h13m-6.5-6.5v13M306 464.5h13m-6.5-6.5v13M306 480.5h13m-6.5-6.5v13M306 469.5h13m-6.5-6.5v13M306 460.5h13m-6.5-6.5v13M306 479.5h13m-6.5-6.5v13M307 463.5h13m-6.5-6.5v13M307 464.5h13m-6.5-6.5v13M307 479.5h13m-6.5-6.5v13M307 484.5h13m-6.5-6.5v13M307 478.5h13m-6.5-6.5v13M308 468.5h13m-6.5-6.5v13M308 482.5h13m-6.5-6.5v13M308 480.5h13m-6.5-6.5v13M309 464.5h13m-6.5-6.5v13M309 462.5h13m-6.5-6.5v13M310 468.5h13m-6.5-6.5v13M310 480.5h13m-6.5-6.5v13M310 478.5h13m-6.5-6.5v13M310 478.5h13m-6.5-6.5v13M311 479.5h13m-6.5-6.5v13M311 479.5h13m-6.5-6.5v13M311 478.5h13m-6.5-6.5v13M312 479.5h13m-6.5-6.5v13M312 467.5h13m-6.5-6.5v13M312 467.5h13m-6.5-6.5v13M312 481.5h13m-6.5-6.5v13M312 467.5h13m-6.5-6.5v13M313 469.5h13m-6.5-6.5v13M313 479.5h13m-6.5-6.5v13M313 468.5h13m-6.5-6.5v13M313 478.5h13m-6.5-6.5v13M314 468.5h13m-6.5-6.5v13M314 487.5h13m-6.5-6.5v13M314 481.5h13m-6.5-6.5v13M315 466.5h13m-6.5-6.5v13M315 481.5h13m-6.5-6.5v13M316 469.5h13m-6.5-6.5v13M316 479.5h13m-6.5-6.5v13M316 466.5h13m-6.5-6.5v13M316 467.5h13m-6.5-6.5v13M316 468.5h13m-6.5-6.5v13M316 465.5h13m-6.5-6.5v13M316 468.5h13m-6.5-6.5v13M317 466.5h13m-6.5-6.5v13M317 467.5h13m-6.5-6.5v13M317 460.5h13m-6.5-6.5v13M317 469.5h13m-6.5-6.5v13M318 463.5h13m-6.5-6.5v13M318 468.5h13m-6.5-6.5v13M318 469.5h13m-6.5-6.5v13M318 468.5h13m-6.5-6.5v13M319 464.5h13m-6.5-6.5v13M319 468.5h13m-6.5-6.5v13M319 478.5h13m-6.5-6.5v13M320 478.5h13m-6.5-6.5v13M320 465.5h13m-6.5-6.5v13M320 463.5h13m-6.5-6.5v13M320 478.5h13m-6.5-6.5v13M321 468.5h13m-6.5-6.5v13M321 481.5h13m-6.5-6.5v13M321 469.5h13m-6.5-6.5v13M321 456.5h13m-6.5-6.5v13M321 469.5h13m-6.5-6.5v13M321 467.5h13m-6.5-6.5v13M322 469.5h13m-6.5-6.5v13M322 469.5h13m-6.5-6.5v13M322 478.5h13m-6.5-6.5v13M322 466.5h13m-6.5-6.5v13M322 483.5h13m-6.5-6.5v13M322 468.5h13m-6.5-6.5v13M322 468.5h13m-6.5-6.5v13M323 464.5h13m-6.5-6.5v13M323 469.5h13m-6.5-6.5v13M323 479.5h13m-6.5-6.5v13M323 467.5h13m-6.5-6.5v13M323 464.5h13m-6.5-6.5v13M324 482.5h13m-6.5-6.5v13M324 479.5h13m-6.5-6.5v13M324 468.5h13m-6.5-6.5v13M324 480.5h13m-6.5-6.5v13M324 459.5h13m-6.5-6.5v13M325 467.5h13m-6.5-6.5v13M325 468.5h13m-6.5-6.5v13M325 468.5h13m-6.5-6.5v13M325 464.5h13m-6.5-6.5v13M326 486.5h13m-6.5-6.5v13M326 466.5h13m-6.5-6.5v13M326 478.5h13m-6.5-6.5v13M326 480.5h13m-6.5-6.5v13M326 468.5h13m-6.5-6.5v13M327 467.5h13m-6.5-6.5v13M327 480.5h13m-6.5-6.5v13M327 456.5h13m-6.5-6.5v13M327 468.5h13m-6.5-6.5v13M328 464.5h13m-6.5-6.5v13M328 466.5h13m-6.5-6.5v13M328 467.5h13m-6.5-6.5v13M329 469.5h13m-6.5-6.5v13M329 468.5h13m-6.5-6.5v13M329 482.5h13m-6.5-6.5v13M329 479.5h13m-6.5-6.5v13M329 469.5h13m-6.5-6.5v13M330 468.5h13m-6.5-6.5v13M330 483.5h13m-6.5-6.5v13M330 462.5h13m-6.5-6.5v13M330 467.5h13m-6.5-6.5v13M330 467.5h13m-6.5-6.5v13M331 482.5h13m-6.5-6.5v13M331 469.5h13m-6.5-6.5v13M331 469.5h13m-6.5-6.5v13M331 483.5h13m-6.5-6.5v13M331 463.5h13m-6.5-6.5v13M331 465.5h13m-6.5-6.5v13M331 461.5h13m-6.5-6.5v13M332 478.5h13m-6.5-6.5v13M332 482.5h13m-6.5-6.5v13M332 464.5h13m-6.5-6.5v13M333 468.5h13m-6.5-6.5v13M333 480.5h13m-6.5-6.5v13M333 479.5h13m-6.5-6.5v13M334 479.5h13m-6.5-6.5v13M335 464.5h13m-6.5-6.5v13M335 468.5h13m-6.5-6.5v13M335 479.5h13m-6.5-6.5v13M335 464.5h13m-6.5-6.5v13M336 482.5h13m-6.5-6.5v13M336 485.5h13m-6.5-6.5v13M336 478.5h13m-6.5-6.5v13M337 467.5h13m-6.5-6.5v13M337 481.5h13m-6.5-6.5v13M338 468.5h13m-6.5-6.5v13M338 478.5h13m-6.5-6.5v13M338 482.5h13m-6.5-6.5v13M338 480.5h13m-6.5-6.5v13M338 478.5h13m-6.5-6.5v13M339 479.5h13m-6.5-6.5v13M339 479.5h13m-6.5-6.5v13M339 478.5h13m-6.5-6.5v13M340 480.5h13m-6.5-6.5v13M340 468.5h13m-6.5-6.5v13M340 480.5h13m-6.5-6.5v13M340 466.5h13m-6.5-6.5v13M340 480.5h13m-6.5-6.5v13M341 467.5h13m-6.5-6.5v13M341 481.5h13m-6.5-6.5v13M341 480.5h13m-6.5-6.5v13M342 465.5h13m-6.5-6.5v13M342 478.5h13m-6.5-6.5v13M343 468.5h13m-6.5-6.5v13M343 466.5h13m-6.5-6.5v13M343 466.5h13m-6.5-6.5v13M344 468.5h13m-6.5-6.5v13M344 480.5h13m-6.5-6.5v13M344 479.5h13m-6.5-6.5v13M344 484.5h13m-6.5-6.5v13M345 469.5h13m-6.5-6.5v13M345 464.5h13m-6.5-6.5v13M345 478.5h13m-6.5-6.5v13M345 480.5h13m-6.5-6.5v13M346 464.5h13m-6.5-6.5v13M346 480.5h13m-6.5-6.5v13M346 468.5h13m-6.5-6.5v13M347 465.5h13m-6.5-6.5v13M347 479.5h13m-6.5-6.5v13M347 480.5h13m-6.5-6.5v13M348 466.5h13m-6.5-6.5v13M348 468.5h13m-6.5-6.5v13M349 483.5h13m-6.5-6.5v13M349 478.5h13m-6.5-6.5v13M349 469.5h13m-6.5-6.5v13M349 481.5h13m-6.5-6.5v13M349 465.5h13m-6.5-6.5v13M350 480.5h13m-6.5-6.5v13M350 469.5h13m-6.5-6.5v13M350 464.5h13m-6.5-6.5v13M351 481.5h13m-6.5-6.5v13M351 478.5h13m-6.5-6.5v13M352 482.5h13m-6.5-6.5v13M352 480.5h13m-6.5-6.5v13M352 480.5h13m-6.5-6.5v13M353 480.5h13m-6.5-6.5v13M353 465.5h13m-6.5-6.5v13M353 465.5h13m-6.5-6.5v13M354 482.5h13m-6.5-6.5v13M354 480.5h13m-6.5-6.5v13M354 480.5h13m-6.5-6.5v13M354 464.5h13m-6.5-6.5v13M354 481.5h13m-6.5-6.5v13M355 466.5h13m-6.5-6.5v13M355 469.5h13m-6.5-6.5v13M355 478.5h13m-6.5-6.5v13M355 467.5h13m-6.5-6.5v13M355 480.5h13m-6.5-6.5v13M356 467.5h13m-6.5-6.5v13M356 466.5h13m-6.5-6.5v13M356 483.5h13m-6.5-6.5v13M356 467.5h13m-6.5-6.5v13M356 468.5h13m-6.5-6.5v13M357 461.5h13m-6.5-6.5v13M357 478.5h13m-6.5-6.5v13M358 479.5h13m-6.5-6.5v13M358 465.5h13m-6.5-6.5v13M358 468.5h13m-6.5-6.5v13M358 481.5h13m-6.5-6.5v13M358 468.5h13m-6.5-6.5v13M359 469.5h13m-6.5-6.5v13M359 466.5h13m-6.5-6.5v13M359 479.5h13m-6.5-6.5v13M359 469.5h13m-6.5-6.5v13M360 479.5h13m-6.5-6.5v13M360 484.5h13m-6.5-6.5v13M360 482.5h13m-6.5-6.5v13M360 464.5h13m-6.5-6.5v13M360 480.5h13m-6.5-6.5v13M361 468.5h13m-6.5-6.5v13M361 480.5h13m-6.5-6.5v13M361 479.5h13m-6.5-6.5v13M361 468.5h13m-6.5-6.5v13M361 482.5h13m-6.5-6.5v13M362 469.5h13m-6.5-6.5v13M362 480.5h13m-6.5-6.5v13M362 469.5h13m-6.5-6.5v13M362 478.5h13m-6.5-6.5v13M362 468.5h13m-6.5-6.5v13M362 469.5h13m-6.5-6.5v13M363 478.5h13m-6.5-6.5v13M363 470.5h13m-6.5-6.5v13M363 481.5h13m-6.5-6.5v13M363 480.5h13m-6.5-6.5v13M364 467.5h13m-6.5-6.5v13M364 480.5h13m-6.5-6.5v13M365 464.5h13m-6.5-6.5v13M365 466.5h13m-6.5-6.5v13M365 482.5h13m-6.5-6.5v13M365 481.5h13m-6.5-6.5v13M365 479.5h13m-6.5-6.5v13M366 480.5h13m-6.5-6.5v13M366 478.5h13m-6.5-6.5v13M366 480.5h13m-6.5-6.5v13M367 469.5h13m-6.5-6.5v13M367 479.5h13m-6.5-6.5v13M367 469.5h13m-6.5-6.5v13M367 469.5h13m-6.5-6.5v13M367 482.5h13m-6.5-6.5v13M367 469.5h13m-6.5-6.5v13M368 481.5h13m-6.5-6.5v13M368 469.5h13m-6.5-6.5v13M368 481.5h13m-6.5-6.5v13M368 465.5h13m-6.5-6.5v13M368 462.5h13m-6.5-6.5v13M369 465.5h13m-6.5-6.5v13M369 482.5h13m-6.5-6.5v13M369 481.5h13m-6.5-6.5v13M370 479.5h13m-6.5-6.5v13M370 468.5h13m-6.5-6.5v13M370 481.5h13m-6.5-6.5v13M370 479.5h13m-6.5-6.5v13M370 479.5h13m-6.5-6.5v13M370 481.5h13m-6.5-6.5v13M371 469.5h13m-6.5-6.5v13M371 465.5h13m-6.5-6.5v13M371 464.5h13m-6.5-6.5v13M372 482.5h13m-6.5-6.5v13M372 469.5h13m-6.5-6.5v13M373 470.5h13m-6.5-6.5v13M373 478.5h13m-6.5-6.5v13M373 469.5h13m-6.5-6.5v13M373 484.5h13m-6.5-6.5v13M374 467.5h13m-6.5-6.5v13M374 480.5h13m-6.5-6.5v13M374 460.5h13m-6.5-6.5v13M375 479.5h13m-6.5-6.5v13M375 480.5h13m-6.5-6.5v13M375 461.5h13m-6.5-6.5v13M376 466.5h13m-6.5-6.5v13M376 480.5h13m-6.5-6.5v13M376 468.5h13m-6.5-6.5v13M376 469.5h13m-6.5-6.5v13M376 469.5h13m-6.5-6.5v13M376 464.5h13m-6.5-6.5v13M377 481.5h13m-6.5-6.5v13M377 482.5h13m-6.5-6.5v13M377 468.5h13m-6.5-6.5v13M377 469.5h13m-6.5-6.5v13M378 467.5h13m-6.5-6.5v13M378 487.5h13m-6.5-6.5v13M378 469.5h13m-6.5-6.5v13M378 484.5h13m-6.5-6.5v13M379 469.5h13m-6.5-6.5v13M380 468.5h13m-6.5-6.5v13M380 480.5h13m-6.5-6.5v13M380 461.5h13m-6.5-6.5v13M380 467.5h13m-6.5-6.5v13M380 468.5h13m-6.5-6.5v13M380 480.5h13m-6.5-6.5v13M381 465.5h13m-6.5-6.5v13M381 479.5h13m-6.5-6.5v13M382 466.5h13m-6.5-6.5v13M382 468.5h13m-6.5-6.5v13M382 461.5h13m-6.5-6.5v13M383 464.5h13m-6.5-6.5v13M383 480.5h13m-6.5-6.5v13M383 479.5h13m-6.5-6.5v13M383 469.5h13m-6.5-6.5v13M384 481.5h13m-6.5-6.5v13M384 470.5h13m-6.5-6.5v13M384 470.5h13m-6.5-6.5v13M384 479.5h13m-6.5-6.5v13M384 481.5h13m-6.5-6.5v13M385 479.5h13m-6.5-6.5v13M385 480.5h13m-6.5-6.5v13M385 468.5h13m-6.5-6.5v13M386 469.5h13m-6.5-6.5v13M386 469.5h13m-6.5-6.5v13M386 467.5h13m-6.5-6.5v13M387 467.5h13m-6.5-6.5v13M387 466.5h13m-6.5-6.5v13M387 470.5h13m-6.5-6.5v13M388 460.5h13m-6.5-6.5v13M388 462.5h13m-6.5-6.5v13M388 467.5h13m-6.5-6.5v13M389 469.5h13m-6.5-6.5v13M389 479.5h13m-6.5-6.5v13M390 462.5h13m-6.5-6.5v13M391 479.5h13m-6.5-6.5v13M391 468.5h13m-6.5-6.5v13M391 469.5h13m-6.5-6.5v13M391 483.5h13m-6.5-6.5v13M391 480.5h13m-6.5-6.5v13M391 479.5h13m-6.5-6.5v13M392 480.5h13m-6.5-6.5v13M392 465.5h13m-6.5-6.5v13M392 479.5h13m-6.5-6.5v13M392 479.5h13m-6.5-6.5v13M392 464.5h13m-6.5-6.5v13M392 479.5h13m-6.5-6.5v13M392 480.5h13m-6.5-6.5v13M393 479.5h13m-6.5-6.5v13M393 466.5h13m-6.5-6.5v13M393 469.5h13m-6.5-6.5v13M393 488.5h13m-6.5-6.5v13M393 480.5h13m-6.5-6.5v13M394 479.5h13m-6.5-6.5v13M394 482.5h13m-6.5-6.5v13M394 464.5h13m-6.5-6.5v13M394 463.5h13m-6.5-6.5v13M395 480.5h13m-6.5-6.5v13M395 469.5h13m-6.5-6.5v13M395 464.5h13m-6.5-6.5v13M395 468.5h13m-6.5-6.5v13M395 483.5h13m-6.5-6.5v13M395 468.5h13m-6.5-6.5v13M395 480.5h13m-6.5-6.5v13M396 484.5h13m-6.5-6.5v13M396 461.5h13m-6.5-6.5v13M396 483.5h13m-6.5-6.5v13M396 482.5h13m-6.5-6.5v13M396 484.5h13m-6.5-6.5v13M396 478.5h13m-6.5-6.5v13M397 480.5h13m-6.5-6.5v13M397 467.5h13m-6.5-6.5v13M397 482.5h13m-6.5-6.5v13M397 463.5h13m-6.5-6.5v13M398 482.5h13m-6.5-6.5v13M398 488.5h13m-6.5-6.5v13M398 469.5h13m-6.5-6.5v13M399 482.5h13m-6.5-6.5v13M399 480.5h13m-6.5-6.5v13M399 478.5h13m-6.5-6.5v13M399 479.5h13m-6.5-6.5v13M400 477.5h13m-6.5-6.5v13M400 485.5h13m-6.5-6.5v13M400 479.5h13m-6.5-6.5v13M400 467.5h13m-6.5-6.5v13M401 478.5h13m-6.5-6.5v13M401 467.5h13m-6.5-6.5v13M401 466.5h13m-6.5-6.5v13M402 467.5h13m-6.5-6.5v13M402 468.5h13m-6.5-6.5v13M402 460.5h13m-6.5-6.5v13M402 478.5h13m-6.5-6.5v13M402 467.5h13m-6.5-6.5v13M402 461.5h13m-6.5-6.5v13M402 479.5h13m-6.5-6.5v13M403 464.5h13m-6.5-6.5v13M403 466.5h13m-6.5-6.5v13M403 479.5h13m-6.5-6.5v13M404 477.5h13m-6.5-6.5v13M404 465.5h13m-6.5-6.5v13M404 469.5h13m-6.5-6.5v13M404 468.5h13m-6.5-6.5v13M405 467.5h13m-6.5-6.5v13M405 485.5h13m-6.5-6.5v13M405 481.5h13m-6.5-6.5v13M405 468.5h13m-6.5-6.5v13M405 459.5h13m-6.5-6.5v13M405 464.5h13m-6.5-6.5v13M405 480.5h13m-6.5-6.5v13M406 468.5h13m-6.5-6.5v13M406 468.5h13m-6.5-6.5v13M406 466.5h13m-6.5-6.5v13M406 468.5h13m-6.5-6.5v13M406 468.5h13m-6.5-6.5v13M407 479.5h13m-6.5-6.5v13M407 483.5h13m-6.5-6.5v13M407 465.5h13m-6.5-6.5v13M407 467.5h13m-6.5-6.5v13M407 478.5h13m-6.5-6.5v13M408 467.5h13m-6.5-6.5v13M408 481.5h13m-6.5-6.5v13M408 466.5h13m-6.5-6.5v13M408 478.5h13m-6.5-6.5v13M408 463.5h13m-6.5-6.5v13M409 466.5h13m-6.5-6.5v13M409 479.5h13m-6.5-6.5v13M410 467.5h13m-6.5-6.5v13M410 459.5h13m-6.5-6.5v13M410 483.5h13m-6.5-6.5v13M410 468.5h13m-6.5-6.5v13M410 464.5h13m-6.5-6.5v13M411 469.5h13m-6.5-6.5v13M411 479.5h13m-6.5-6.5v13M412 467.5h13m-6.5-6.5v13M412 466.5h13m-6.5-6.5v13M413 478.5h13m-6.5-6.5v13M413 466.5h13m-6.5-6.5v13M413 469.5h13m-6.5-6.5v13M413 469.5h13m-6.5-6.5v13M413 467.5h13m-6.5-6.5v13M414 469.5h13m-6.5-6.5v13M414 468.5h13m-6.5-6.5v13M414 481.5h13m-6.5-6.5v13M414 468.5h13m-6.5-6.5v13M414 479.5h13m-6.5-6.5v13M415 469.5h13m-6.5-6.5v13M415 468.5h13m-6.5-6.5v13M415 480.5h13m-6.5-6.5v13M415 469.5h13m-6.5-6.5v13M415 480.5h13m-6.5-6.5v13M415 468.5h13m-6.5-6.5v13M416 469.5h13m-6.5-6.5v13M416 463.5h13m-6.5-6.5v13M416 468.5h13m-6.5-6.5v13M416 464.5h13m-6.5-6.5v13M417 467.5h13m-6.5-6.5v13M417 468.5h13m-6.5-6.5v13M417 465.5h13m-6.5-6.5v13M417 482.5h13m-6.5-6.5v13M418 467.5h13m-6.5-6.5v13M418 481.5h13m-6.5-6.5v13M418 468.5h13m-6.5-6.5v13M418 481.5h13m-6.5-6.5v13M419 468.5h13m-6.5-6.5v13M419 483.5h13m-6.5-6.5v13M419 479.5h13m-6.5-6.5v13M419 489.5h13m-6.5-6.5v13M420 469.5h13m-6.5-6.5v13M420 469.5h13m-6.5-6.5v13M420 480.5h13m-6.5-6.5v13M420 468.5h13m-6.5-6.5v13M421 470.5h13m-6.5-6.5v13M421 469.5h13m-6.5-6.5v13M421 470.5h13m-6.5-6.5v13M422 480.5h13m-6.5-6.5v13M422 470.5h13m-6.5-6.5v13M422 471.5h13m-6.5-6.5v13M423 483.5h13m-6.5-6.5v13M423 482.5h13m-6.5-6.5v13M423 468.5h13m-6.5-6.5v13M423 464.5h13m-6.5-6.5v13M423 465.5h13m-6.5-6.5v13M423 480.5h13m-6.5-6.5v13M424 480.5h13m-6.5-6.5v13M424 469.5h13m-6.5-6.5v13M425 468.5h13m-6.5-6.5v13M426 463.5h13m-6.5-6.5v13M426 469.5h13m-6.5-6.5v13M426 486.5h13m-6.5-6.5v13M426 482.5h13m-6.5-6.5v13M426 484.5h13m-6.5-6.5v13M428 462.5h13m-6.5-6.5v13M428 470.5h13m-6.5-6.5v13M428 480.5h13m-6.5-6.5v13M428 481.5h13m-6.5-6.5v13M428 480.5h13m-6.5-6.5v13M429 470.5h13m-6.5-6.5v13M429 490.5h13m-6.5-6.5v13M429 468.5h13m-6.5-6.5v13M429 481.5h13m-6.5-6.5v13M430 470.5h13m-6.5-6.5v13M430 465.5h13m-6.5-6.5v13M430 470.5h13m-6.5-6.5v13M431 486.5h13m-6.5-6.5v13M431 465.5h13m-6.5-6.5v13M431 468.5h13m-6.5-6.5v13M431 469.5h13m-6.5-6.5v13M431 485.5h13m-6.5-6.5v13M432 480.5h13m-6.5-6.5v13M432 484.5h13m-6.5-6.5v13M432 483.5h13m-6.5-6.5v13M433 467.5h13m-6.5-6.5v13M433 471.5h13m-6.5-6.5v13M433 481.5h13m-6.5-6.5v13M433 481.5h13m-6.5-6.5v13M434 480.5h13m-6.5-6.5v13M434 481.5h13m-6.5-6.5v13M434 486.5h13m-6.5-6.5v13M434 471.5h13m-6.5-6.5v13M434 484.5h13m-6.5-6.5v13M434 471.5h13m-6.5-6.5v13M435 469.5h13m-6.5-6.5v13M435 481.5h13m-6.5-6.5v13M435 471.5h13m-6.5-6.5v13M436 480.5h13m-6.5-6.5v13M436 485.5h13m-6.5-6.5v13M436 465.5h13m-6.5-6.5v13M436 487.5h13m-6.5-6.5v13M437 467.5h13m-6.5-6.5v13M437 469.5h13m-6.5-6.5v13M437 484.5h13m-6.5-6.5v13M437 480.5h13m-6.5-6.5v13M438 471.5h13m-6.5-6.5v13M438 468.5h13m-6.5-6.5v13M438 471.5h13m-6.5-6.5v13M439 482.5h13m-6.5-6.5v13M439 470.5h13m-6.5-6.5v13M439 470.5h13m-6.5-6.5v13M439 471.5h13m-6.5-6.5v13M439 470.5h13m-6.5-6.5v13M440 480.5h13m-6.5-6.5v13M440 483.5h13m-6.5-6.5v13M441 469.5h13m-6.5-6.5v13M441 487.5h13m-6.5-6.5v13M441 484.5h13m-6.5-6.5v13M441 470.5h13m-6.5-6.5v13M441 465.5h13m-6.5-6.5v13M442 468.5h13m-6.5-6.5v13M442 482.5h13m-6.5-6.5v13M442 480.5h13m-6.5-6.5v13M442 468.5h13m-6.5-6.5v13M442 482.5h13m-6.5-6.5v13M442 483.5h13m-6.5-6.5v13M443 481.5h13m-6.5-6.5v13M443 465.5h13m-6.5-6.5v13M443 482.5h13m-6.5-6.5v13M443 471.5h13m-6.5-6.5v13M443 468.5h13m-6.5-6.5v13M443 471.5h13m-6.5-6.5v13M444 468.5h13m-6.5-6.5v13M444 481.5h13m-6.5-6.5v13M444 484.5h13m-6.5-6.5v13M445 485.5h13m-6.5-6.5v13M445 465.5h13m-6.5-6.5v13M445 468.5h13m-6.5-6.5v13M446 469.5h13m-6.5-6.5v13M446 481.5h13m-6.5-6.5v13M446 468.5h13m-6.5-6.5v13M446 484.5h13m-6.5-6.5v13M446 470.5h13m-6.5-6.5v13M446 468.5h13m-6.5-6.5v13M447 481.5h13m-6.5-6.5v13M447 468.5h13m-6.5-6.5v13M447 481.5h13m-6.5-6.5v13M447 471.5h13m-6.5-6.5v13M447 471.5h13m-6.5-6.5v13M448 470.5h13m-6.5-6.5v13M448 483.5h13m-6.5-6.5v13M448 470.5h13m-6.5-6.5v13M449 471.5h13m-6.5-6.5v13M449 468.5h13m-6.5-6.5v13M449 481.5h13m-6.5-6.5v13M449 481.5h13m-6.5-6.5v13M449 484.5h13m-6.5-6.5v13M450 486.5h13m-6.5-6.5v13M450 467.5h13m-6.5-6.5v13M450 469.5h13m-6.5-6.5v13M450 471.5h13m-6.5-6.5v13M450 481.5h13m-6.5-6.5v13M451 481.5h13m-6.5-6.5v13M451 486.5h13m-6.5-6.5v13M451 467.5h13m-6.5-6.5v13M451 480.5h13m-6.5-6.5v13M451 481.5h13m-6.5-6.5v13M452 471.5h13m-6.5-6.5v13M452 467.5h13m-6.5-6.5v13M452 483.5h13m-6.5-6.5v13M452 481.5h13m-6.5-6.5v13M452 471.5h13m-6.5-6.5v13M452 482.5h13m-6.5-6.5v13M452 464.5h13m-6.5-6.5v13M452 471.5h13m-6.5-6.5v13M453 481.5h13m-6.5-6.5v13M453 468.5h13m-6.5-6.5v13M453 480.5h13m-6.5-6.5v13M453 467.5h13m-6.5-6.5v13M453 486.5h13m-6.5-6.5v13M453 484.5h13m-6.5-6.5v13M454 470.5h13m-6.5-6.5v13M454 468.5h13m-6.5-6.5v13M454 482.5h13m-6.5-6.5v13M454 470.5h13m-6.5-6.5v13M455 485.5h13m-6.5-6.5v13M455 481.5h13m-6.5-6.5v13M455 469.5h13m-6.5-6.5v13M455 481.5h13m-6.5-6.5v13M456 471.5h13m-6.5-6.5v13M456 471.5h13m-6.5-6.5v13M456 483.5h13m-6.5-6.5v13M456 469.5h13m-6.5-6.5v13M456 466.5h13m-6.5-6.5v13M456 484.5h13m-6.5-6.5v13M457 468.5h13m-6.5-6.5v13M457 467.5h13m-6.5-6.5v13M457 471.5h13m-6.5-6.5v13M457 471.5h13m-6.5-6.5v13M457 480.5h13m-6.5-6.5v13M458 480.5h13m-6.5-6.5v13M458 488.5h13m-6.5-6.5v13M459 480.5h13m-6.5-6.5v13M460 486.5h13m-6.5-6.5v13M460 467.5h13m-6.5-6.5v13M460 470.5h13m-6.5-6.5v13M460 469.5h13m-6.5-6.5v13M460 470.5h13m-6.5-6.5v13M460 469.5h13m-6.5-6.5v13M461 472.5h13m-6.5-6.5v13M461 468.5h13m-6.5-6.5v13M461 484.5h13m-6.5-6.5v13M461 472.5h13m-6.5-6.5v13M462 470.5h13m-6.5-6.5v13M462 469.5h13m-6.5-6.5v13M462 485.5h13m-6.5-6.5v13M462 481.5h13m-6.5-6.5v13M462 468.5h13m-6.5-6.5v13M462 468.5h13m-6.5-6.5v13M463 480.5h13m-6.5-6.5v13M463 468.5h13m-6.5-6.5v13M463 465.5h13m-6.5-6.5v13M463 471.5h13m-6.5-6.5v13M463 470.5h13m-6.5-6.5v13M463 471.5h13m-6.5-6.5v13M463 483.5h13m-6.5-6.5v13M464 471.5h13m-6.5-6.5v13M464 485.5h13m-6.5-6.5v13M464 470.5h13m-6.5-6.5v13M464 471.5h13m-6.5-6.5v13M464 466.5h13m-6.5-6.5v13M465 480.5h13m-6.5-6.5v13M465 466.5h13m-6.5-6.5v13M465 470.5h13m-6.5-6.5v13M465 470.5h13m-6.5-6.5v13M466 485.5h13m-6.5-6.5v13M466 467.5h13m-6.5-6.5v13M466 482.5h13m-6.5-6.5v13M466 470.5h13m-6.5-6.5v13M466 484.5h13m-6.5-6.5v13M466 469.5h13m-6.5-6.5v13M467 467.5h13m-6.5-6.5v13M467 470.5h13m-6.5-6.5v13M467 468.5h13m-6.5-6.5v13M467 481.5h13m-6.5-6.5v13M467 481.5h13m-6.5-6.5v13M467 469.5h13m-6.5-6.5v13M467 468.5h13m-6.5-6.5v13M468 470.5h13m-6.5-6.5v13M468 470.5h13m-6.5-6.5v13M468 464.5h13m-6.5-6.5v13M468 471.5h13m-6.5-6.5v13M469 483.5h13m-6.5-6.5v13M469 481.5h13m-6.5-6.5v13M469 467.5h13m-6.5-6.5v13M469 485.5h13m-6.5-6.5v13M470 481.5h13m-6.5-6.5v13M470 484.5h13m-6.5-6.5v13M471 485.5h13m-6.5-6.5v13M471 470.5h13m-6.5-6.5v13M471 484.5h13m-6.5-6.5v13M471 482.5h13m-6.5-6.5v13M471 470.5h13m-6.5-6.5v13M471 470.5h13m-6.5-6.5v13M472 472.5h13m-6.5-6.5v13M472 469.5h13m-6.5-6.5v13M472 486.5h13m-6.5-6.5v13M472 485.5h13m-6.5-6.5v13M473 469.5h13m-6.5-6.5v13M473 471.5h13m-6.5-6.5v13M474 483.5h13m-6.5-6.5v13M474 471.5h13m-6.5-6.5v13M474 483.5h13m-6.5-6.5v13M474 469.5h13m-6.5-6.5v13M475 484.5h13m-6.5-6.5v13M475 486.5h13m-6.5-6.5v13M475 468.5h13m-6.5-6.5v13M475 486.5h13m-6.5-6.5v13M476 469.5h13m-6.5-6.5v13M476 481.5h13m-6.5-6.5v13M476 482.5h13m-6.5-6.5v13M476 469.5h13m-6.5-6.5v13M477 484.5h13m-6.5-6.5v13M477 471.5h13m-6.5-6.5v13M477 481.5h13m-6.5-6.5v13M477 483.5h13m-6.5-6.5v13M477 461.5h13m-6.5-6.5v13M477 483.5h13m-6.5-6.5v13M478 471.5h13m-6.5-6.5v13M478 467.5h13m-6.5-6.5v13M478 470.5h13m-6.5-6.5v13M478 487.5h13m-6.5-6.5v13M479 464.5h13m-6.5-6.5v13M479 481.5h13m-6.5-6.5v13M479 471.5h13m-6.5-6.5v13M479 467.5h13m-6.5-6.5v13M480 482.5h13m-6.5-6.5v13M480 468.5h13m-6.5-6.5v13M480 481.5h13m-6.5-6.5v13M481 468.5h13m-6.5-6.5v13M481 469.5h13m-6.5-6.5v13M481 469.5h13m-6.5-6.5v13M481 481.5h13m-6.5-6.5v13M482 469.5h13m-6.5-6.5v13M482 471.5h13m-6.5-6.5v13M482 470.5h13m-6.5-6.5v13M483 471.5h13m-6.5-6.5v13M483 469.5h13m-6.5-6.5v13M483 483.5h13m-6.5-6.5v13M483 470.5h13m-6.5-6.5v13M483 482.5h13m-6.5-6.5v13M483 484.5h13m-6.5-6.5v13M484 490.5h13m-6.5-6.5v13M484 480.5h13m-6.5-6.5v13M484 467.5h13m-6.5-6.5v13M484 470.5h13m-6.5-6.5v13M484 469.5h13m-6.5-6.5v13M485 484.5h13m-6.5-6.5v13M485 487.5h13m-6.5-6.5v13M485 483.5h13m-6.5-6.5v13M485 482.5h13m-6.5-6.5v13M486 483.5h13m-6.5-6.5v13M486 484.5h13m-6.5-6.5v13M487 480.5h13m-6.5-6.5v13M487 482.5h13m-6.5-6.5v13M487 481.5h13m-6.5-6.5v13M487 484.5h13m-6.5-6.5v13M487 468.5h13m-6.5-6.5v13M487 485.5h13m-6.5-6.5v13M487 467.5h13m-6.5-6.5v13M487 468.5h13m-6.5-6.5v13M488 468.5h13m-6.5-6.5v13M488 470.5h13m-6.5-6.5v13M489 467.5h13m-6.5-6.5v13M489 481.5h13m-6.5-6.5v13M490 465.5h13m-6.5-6.5v13M490 464.5h13m-6.5-6.5v13M491 466.5h13m-6.5-6.5v13M491 468.5h13m-6.5-6.5v13M491 469.5h13m-6.5-6.5v13M491 469.5h13m-6.5-6.5v13M492 468.5h13m-6.5-6.5v13M492 466.5h13m-6.5-6.5v13M492 466.5h13m-6.5-6.5v13M492 483.5h13m-6.5-6.5v13M492 470.5h13m-6.5-6.5v13M492 470.5h13m-6.5-6.5v13M492 466.5h13m-6.5-6.5v13M493 465.5h13m-6.5-6.5v13M493 480.5h13m-6.5-6.5v13M493 485.5h13m-6.5-6.5v13M493 467.5h13m-6.5-6.5v13M494 482.5h13m-6.5-6.5v13M494 482.5h13m-6.5-6.5v13M494 483.5h13m-6.5-6.5v13M494 461.5h13m-6.5-6.5v13M494 470.5h13m-6.5-6.5v13M494 479.5h13m-6.5-6.5v13M495 483.5h13m-6.5-6.5v13M495 467.5h13m-6.5-6.5v13M495 470.5h13m-6.5-6.5v13M495 482.5h13m-6.5-6.5v13M495 464.5h13m-6.5-6.5v13M495 468.5h13m-6.5-6.5v13M496 481.5h13m-6.5-6.5v13M496 480.5h13m-6.5-6.5v13M496 481.5h13m-6.5-6.5v13M496 470.5h13m-6.5-6.5v13M496 479.5h13m-6.5-6.5v13M496 467.5h13m-6.5-6.5v13M496 463.5h13m-6.5-6.5v13M497 465.5h13m-6.5-6.5v13M497 480.5h13m-6.5-6.5v13M497 469.5h13m-6.5-6.5v13M497 462.5h13m-6.5-6.5v13M497 484.5h13m-6.5-6.5v13M498 459.5h13m-6.5-6.5v13M498 479.5h13m-6.5-6.5v13M498 467.5h13m-6.5-6.5v13M498 466.5h13m-6.5-6.5v13M499 481.5h13m-6.5-6.5v13M499 481.5h13m-6.5-6.5v13M499 468.5h13m-6.5-6.5v13M499 468.5h13m-6.5-6.5v13M499 470.5h13m-6.5-6.5v13M500 481.5h13m-6.5-6.5v13M501 482.5h13m-6.5-6.5v13M501 479.5h13m-6.5-6.5v13M501 469.5h13m-6.5-6.5v13M502 479.5h13m-6.5-6.5v13M502 467.5h13m-6.5-6.5v13M503 468.5h13m-6.5-6.5v13M503 479.5h13m-6.5-6.5v13M504 469.5h13m-6.5-6.5v13M504 484.5h13m-6.5-6.5v13M504 483.5h13m-6.5-6.5v13M504 483.5h13m-6.5-6.5v13M504 469.5h13m-6.5-6.5v13M504 480.5h13m-6.5-6.5v13M504 480.5h13m-6.5-6.5v13M505 481.5h13m-6.5-6.5v13M505 479.5h13m-6.5-6.5v13M505 483.5h13m-6.5-6.5v13M505 479.5h13m-6.5-6.5v13M506 470.5h13m-6.5-6.5v13M506 469.5h13m-6.5-6.5v13M506 466.5h13m-6.5-6.5v13M507 466.5h13m-6.5-6.5v13M508 479.5h13m-6.5-6.5v13M508 480.5h13m-6.5-6.5v13M508 468.5h13m-6.5-6.5v13M509 483.5h13m-6.5-6.5v13M509 465.5h13m-6.5-6.5v13M509 480.5h13m-6.5-6.5v13M510 479.5h13m-6.5-6.5v13M510 470.5h13m-6.5-6.5v13M510 481.5h13m-6.5-6.5v13M511 480.5h13m-6.5-6.5v13M511 469.5h13m-6.5-6.5v13M511 479.5h13m-6.5-6.5v13M511 468.5h13m-6.5-6.5v13M512 480.5h13m-6.5-6.5v13M512 468.5h13m-6.5-6.5v13M512 470.5h13m-6.5-6.5v13M512 479.5h13m-6.5-6.5v13M512 481.5h13m-6.5-6.5v13M512 482.5h13m-6.5-6.5v13M513 480.5h13m-6.5-6.5v13M514 482.5h13m-6.5-6.5v13M514 464.5h13m-6.5-6.5v13M514 468.5h13m-6.5-6.5v13M514 468.5h13m-6.5-6.5v13M514 486.5h13m-6.5-6.5v13M514 479.5h13m-6.5-6.5v13M514 462.5h13m-6.5-6.5v13M515 458.5h13m-6.5-6.5v13M515 479.5h13m-6.5-6.5v13M515 486.5h13m-6.5-6.5v13M516 478.5h13m-6.5-6.5v13M516 470.5h13m-6.5-6.5v13M516 480.5h13m-6.5-6.5v13M516 479.5h13m-6.5-6.5v13M516 479.5h13m-6.5-6.5v13M516 482.5h13m-6.5-6.5v13M516 481.5h13m-6.5-6.5v13M517 479.5h13m-6.5-6.5v13M517 467.5h13m-6.5-6.5v13M517 483.5h13m-6.5-6.5v13M517 482.5h13m-6.5-6.5v13M517 467.5h13m-6.5-6.5v13M518 469.5h13m-6.5-6.5v13M518 465.5h13m-6.5-6.5v13M518 479.5h13m-6.5-6.5v13M518 469.5h13m-6.5-6.5v13M518 466.5h13m-6.5-6.5v13M519 479.5h13m-6.5-6.5v13M519 484.5h13m-6.5-6.5v13M520 484.5h13m-6.5-6.5v13M520 469.5h13m-6.5-6.5v13M520 479.5h13m-6.5-6.5v13M520 467.5h13m-6.5-6.5v13M520 469.5h13m-6.5-6.5v13M521 468.5h13m-6.5-6.5v13M521 464.5h13m-6.5-6.5v13M521 483.5h13m-6.5-6.5v13M521 479.5h13m-6.5-6.5v13M522 479.5h13m-6.5-6.5v13M522 466.5h13m-6.5-6.5v13M522 481.5h13m-6.5-6.5v13M522 470.5h13m-6.5-6.5v13M522 470.5h13m-6.5-6.5v13M522 466.5h13m-6.5-6.5v13M523 479.5h13m-6.5-6.5v13M523 467.5h13m-6.5-6.5v13M523 482.5h13m-6.5-6.5v13M523 479.5h13m-6.5-6.5v13M524 463.5h13m-6.5-6.5v13M524 481.5h13m-6.5-6.5v13M524 469.5h13m-6.5-6.5v13M524 470.5h13m-6.5-6.5v13M524 467.5h13m-6.5-6.5v13M525 470.5h13m-6.5-6.5v13M525 480.5h13m-6.5-6.5v13M525 480.5h13m-6.5-6.5v13M526 469.5h13m-6.5-6.5v13M526 480.5h13m-6.5-6.5v13M526 465.5h13m-6.5-6.5v13M526 483.5h13m-6.5-6.5v13M527 464.5h13m-6.5-6.5v13M527 469.5h13m-6.5-6.5v13M527 468.5h13m-6.5-6.5v13M527 461.5h13m-6.5-6.5v13M527 482.5h13m-6.5-6.5v13M528 468.5h13m-6.5-6.5v13M528 480.5h13m-6.5-6.5v13M528 466.5h13m-6.5-6.5v13M528 480.5h13m-6.5-6.5v13M529 481.5h13m-6.5-6.5v13M529 482.5h13m-6.5-6.5v13M529 483.5h13m-6.5-6.5v13M529 482.5h13m-6.5-6.5v13M530 479.5h13m-6.5-6.5v13M530 479.5h13m-6.5-6.5v13M531 469.5h13m-6.5-6.5v13M531 469.5h13m-6.5-6.5v13M531 483.5h13m-6.5-6.5v13M531 470.5h13m-6.5-6.5v13M531 480.5h13m-6.5-6.5v13M532 469.5h13m-6.5-6.5v13M532 466.5h13m-6.5-6.5v13M532 480.5h13m-6.5-6.5v13M533 481.5h13m-6.5-6.5v13M533 466.5h13m-6.5-6.5v13M533 469.5h13m-6.5-6.5v13M534 479.5h13m-6.5-6.5v13M534 466.5h13m-6.5-6.5v13M534 482.5h13m-6.5-6.5v13M535 469.5h13m-6.5-6.5v13M535 468.5h13m-6.5-6.5v13M535 466.5h13m-6.5-6.5v13M535 467.5h13m-6.5-6.5v13M536 465.5h13m-6.5-6.5v13M536 462.5h13m-6.5-6.5v13M536 470.5h13m-6.5-6.5v13M536 481.5h13m-6.5-6.5v13M536 481.5h13m-6.5-6.5v13M537 483.5h13m-6.5-6.5v13M537 470.5h13m-6.5-6.5v13M537 470.5h13m-6.5-6.5v13M538 468.5h13m-6.5-6.5v13M539 479.5h13m-6.5-6.5v13M539 466.5h13m-6.5-6.5v13M539 485.5h13m-6.5-6.5v13M539 469.5h13m-6.5-6.5v13M540 468.5h13m-6.5-6.5v13M540 485.5h13m-6.5-6.5v13M540 482.5h13m-6.5-6.5v13M541 469.5h13m-6.5-6.5v13M541 485.5h13m-6.5-6.5v13M541 482.5h13m-6.5-6.5v13M542 480.5h13m-6.5-6.5v13M542 482.5h13m-6.5-6.5v13M542 471.5h13m-6.5-6.5v13M543 483.5h13m-6.5-6.5v13M543 483.5h13m-6.5-6.5v13M543 468.5h13m-6.5-6.5v13M543 462.5h13m-6.5-6.5v13M544 467.5h13m-6.5-6.5v13M544 486.5h13m-6.5-6.5v13M544 482.5h13m-6.5-6.5v13M544 480.5h13m-6.5-6.5v13M545 480.5h13m-6.5-6.5v13M545 482.5h13m-6.5-6.5v13M546 467.5h13m-6.5-6.5v13M546 470.5h13m-6.5-6.5v13M546 483.5h13m-6.5-6.5v13M546 466.5h13m-6.5-6.5v13M546 468.5h13m-6.5-6.5v13M547 480.5h13m-6.5-6.5v13M547 467.5h13m-6.5-6.5v13M547 479.5h13m-6.5-6.5v13M547 485.5h13m-6.5-6.5v13M547 469.5h13m-6.5-6.5v13M548 481.5h13m-6.5-6.5v13M548 469.5h13m-6.5-6.5v13M548 486.5h13m-6.5-6.5v13M548 480.5h13m-6.5-6.5v13M548 460.5h13m-6.5-6.5v13M548 466.5h13m-6.5-6.5v13M549 471.5h13m-6.5-6.5v13M549 470.5h13m-6.5-6.5v13M549 471.5h13m-6.5-6.5v13M549 480.5h13m-6.5-6.5v13M549 467.5h13m-6.5-6.5v13M550 482.5h13m-6.5-6.5v13M550 468.5h13m-6.5-6.5v13M550 484.5h13m-6.5-6.5v13M550 469.5h13m-6.5-6.5v13M550 470.5h13m-6.5-6.5v13M551 482.5h13m-6.5-6.5v13M551 465.5h13m-6.5-6.5v13M552 470.5h13m-6.5-6.5v13M552 463.5h13m-6.5-6.5v13M552 481.5h13m-6.5-6.5v13M553 481.5h13m-6.5-6.5v13M553 470.5h13m-6.5-6.5v13M553 484.5h13m-6.5-6.5v13M553 467.5h13m-6.5-6.5v13M553 470.5h13m-6.5-6.5v13M554 469.5h13m-6.5-6.5v13M554 466.5h13m-6.5-6.5v13M554 480.5h13m-6.5-6.5v13M554 482.5h13m-6.5-6.5v13M554 482.5h13m-6.5-6.5v13M555 482.5h13m-6.5-6.5v13M555 481.5h13m-6.5-6.5v13M555 468.5h13m-6.5-6.5v13M555 466.5h13m-6.5-6.5v13M555 470.5h13m-6.5-6.5v13M556 483.5h13m-6.5-6.5v13M556 486.5h13m-6.5-6.5v13M556 464.5h13m-6.5-6.5v13M556 470.5h13m-6.5-6.5v13M556 464.5h13m-6.5-6.5v13M557 482.5h13m-6.5-6.5v13M557 480.5h13m-6.5-6.5v13M557 467.5h13m-6.5-6.5v13M557 482.5h13m-6.5-6.5v13M557 484.5h13m-6.5-6.5v13M557 481.5h13m-6.5-6.5v13M558 480.5h13m-6.5-6.5v13M558 465.5h13m-6.5-6.5v13M558 468.5h13m-6.5-6.5v13M558 483.5h13m-6.5-6.5v13M559 464.5h13m-6.5-6.5v13M559 485.5h13m-6.5-6.5v13M559 468.5h13m-6.5-6.5v13M559 463.5h13m-6.5-6.5v13M559 469.5h13m-6.5-6.5v13M559 468.5h13m-6.5-6.5v13M560 469.5h13m-6.5-6.5v13M560 470.5h13m-6.5-6.5v13M561 467.5h13m-6.5-6.5v13M561 466.5h13m-6.5-6.5v13M561 468.5h13m-6.5-6.5v13M561 481.5h13m-6.5-6.5v13M562 467.5h13m-6.5-6.5v13M562 467.5h13m-6.5-6.5v13M562 484.5h13m-6.5-6.5v13M562 480.5h13m-6.5-6.5v13M563 468.5h13m-6.5-6.5v13M563 464.5h13m-6.5-6.5v13M563 462.5h13m-6.5-6.5v13M563 471.5h13m-6.5-6.5v13M563 482.5h13m-6.5-6.5v13M564 480.5h13m-6.5-6.5v13M565 480.5h13m-6.5-6.5v13M565 463.5h13m-6.5-6.5v13M565 480.5h13m-6.5-6.5v13M565 463.5h13m-6.5-6.5v13M566 463.5h13m-6.5-6.5v13M566 471.5h13m-6.5-6.5v13M566 470.5h13m-6.5-6.5v13M566 481.5h13m-6.5-6.5v13M566 483.5h13m-6.5-6.5v13M567 480.5h13m-6.5-6.5v13M567 468.5h13m-6.5-6.5v13M567 471.5h13m-6.5-6.5v13M567 481.5h13m-6.5-6.5v13M567 468.5h13m-6.5-6.5v13M568 463.5h13m-6.5-6.5v13M568 480.5h13m-6.5-6.5v13M568 468.5h13m-6.5-6.5v13M568 469.5h13m-6.5-6.5v13M568 471.5h13m-6.5-6.5v13M568 469.5h13m-6.5-6.5v13M569 485.5h13m-6.5-6.5v13M569 470.5h13m-6.5-6.5v13M569 482.5h13m-6.5-6.5v13M569 470.5h13m-6.5-6.5v13M569 469.5h13m-6.5-6.5v13M570 468.5h13m-6.5-6.5v13M570 483.5h13m-6.5-6.5v13M570 480.5h13m-6.5-6.5v13M570 481.5h13m-6.5-6.5v13M570 471.5h13m-6.5-6.5v13M570 470.5h13m-6.5-6.5v13M571 468.5h13m-6.5-6.5v13M571 483.5h13m-6.5-6.5v13M571 470.5h13m-6.5-6.5v13M571 483.5h13m-6.5-6.5v13M572 481.5h13m-6.5-6.5v13M572 483.5h13m-6.5-6.5v13M572 467.5h13m-6.5-6.5v13M573 485.5h13m-6.5-6.5v13M573 469.5h13m-6.5-6.5v13M573 464.5h13m-6.5-6.5v13M573 485.5h13m-6.5-6.5v13M573 481.5h13m-6.5-6.5v13M573 465.5h13m-6.5-6.5v13M574 481.5h13m-6.5-6.5v13M574 469.5h13m-6.5-6.5v13M574 464.5h13m-6.5-6.5v13M574 467.5h13m-6.5-6.5v13M575 468.5h13m-6.5-6.5v13M575 481.5h13m-6.5-6.5v13M575 469.5h13m-6.5-6.5v13M575 463.5h13m-6.5-6.5v13M575 466.5h13m-6.5-6.5v13M575 486.5h13m-6.5-6.5v13M575 471.5h13m-6.5-6.5v13M576 491.5h13m-6.5-6.5v13M576 470.5h13m-6.5-6.5v13M576 482.5h13m-6.5-6.5v13M577 481.5h13m-6.5-6.5v13M577 467.5h13m-6.5-6.5v13M577 470.5h13m-6.5-6.5v13M577 480.5h13m-6.5-6.5v13M577 471.5h13m-6.5-6.5v13M578 484.5h13m-6.5-6.5v13M578 481.5h13m-6.5-6.5v13M578 470.5h13m-6.5-6.5v13M578 480.5h13m-6.5-6.5v13M578 484.5h13m-6.5-6.5v13M579 469.5h13m-6.5-6.5v13M579 484.5h13m-6.5-6.5v13M579 469.5h13m-6.5-6.5v13M579 468.5h13m-6.5-6.5v13M579 465.5h13m-6.5-6.5v13M579 482.5h13m-6.5-6.5v13M580 486.5h13m-6.5-6.5v13M580 482.5h13m-6.5-6.5v13M580 470.5h13m-6.5-6.5v13M580 466.5h13m-6.5-6.5v13M580 483.5h13m-6.5-6.5v13M581 483.5h13m-6.5-6.5v13M581 482.5h13m-6.5-6.5v13M581 481.5h13m-6.5-6.5v13M581 483.5h13m-6.5-6.5v13M581 471.5h13m-6.5-6.5v13M582 483.5h13m-6.5-6.5v13M582 480.5h13m-6.5-6.5v13M582 482.5h13m-6.5-6.5v13M582 466.5h13m-6.5-6.5v13M582 471.5h13m-6.5-6.5v13M582 471.5h13m-6.5-6.5v13M583 468.5h13m-6.5-6.5v13M584 480.5h13m-6.5-6.5v13M584 468.5h13m-6.5-6.5v13M584 483.5h13m-6.5-6.5v13M584 492.5h13m-6.5-6.5v13M584 469.5h13m-6.5-6.5v13M584 470.5h13m-6.5-6.5v13M585 468.5h13m-6.5-6.5v13M585 466.5h13m-6.5-6.5v13M585 465.5h13m-6.5-6.5v13M585 482.5h13m-6.5-6.5v13M586 482.5h13m-6.5-6.5v13M586 484.5h13m-6.5-6.5v13M587 481.5h13m-6.5-6.5v13M587 484.5h13m-6.5-6.5v13M587 480.5h13m-6.5-6.5v13M587 470.5h13m-6.5-6.5v13M587 468.5h13m-6.5-6.5v13M587 469.5h13m-6.5-6.5v13M588 485.5h13m-6.5-6.5v13M588 481.5h13m-6.5-6.5v13M588 480.5h13m-6.5-6.5v13M589 481.5h13m-6.5-6.5v13M589 484.5h13m-6.5-6.5v13M589 471.5h13m-6.5-6.5v13M589 471.5h13m-6.5-6.5v13M590 471.5h13m-6.5-6.5v13M590 484.5h13m-6.5-6.5v13M590 482.5h13m-6.5-6.5v13M590 468.5h13m-6.5-6.5v13M590 466.5h13m-6.5-6.5v13M591 486.5h13m-6.5-6.5v13M591 482.5h13m-6.5-6.5v13M591 471.5h13m-6.5-6.5v13M591 470.5h13m-6.5-6.5v13M592 480.5h13m-6.5-6.5v13M592 467.5h13m-6.5-6.5v13M592 489.5h13m-6.5-6.5v13M592 480.5h13m-6.5-6.5v13M593 480.5h13m-6.5-6.5v13M593 471.5h13m-6.5-6.5v13M593 471.5h13m-6.5-6.5v13M593 471.5h13m-6.5-6.5v13M594 482.5h13m-6.5-6.5v13M594 467.5h13m-6.5-6.5v13M594 484.5h13m-6.5-6.5v13M594 471.5h13m-6.5-6.5v13M594 471.5h13m-6.5-6.5v13M594 480.5h13m-6.5-6.5v13M594 470.5h13m-6.5-6.5v13M594 471.5h13m-6.5-6.5v13M594 480.5h13m-6.5-6.5v13M594 471.5h13m-6.5-6.5v13M595 488.5h13m-6.5-6.5v13M595 488.5h13m-6.5-6.5v13M596 469.5h13m-6.5-6.5v13M596 471.5h13m-6.5-6.5v13M596 465.5h13m-6.5-6.5v13M596 483.5h13m-6.5-6.5v13M596 480.5h13m-6.5-6.5v13M597 466.5h13m-6.5-6.5v13M597 481.5h13m-6.5-6.5v13M597 467.5h13m-6.5-6.5v13M597 470.5h13m-6.5-6.5v13M597 484.5h13m-6.5-6.5v13M597 484.5h13m-6.5-6.5v13M598 482.5h13m-6.5-6.5v13M598 485.5h13m-6.5-6.5v13M598 471.5h13m-6.5-6.5v13M598 480.5h13m-6.5-6.5v13M598 482.5h13m-6.5-6.5v13M599 463.5h13m-6.5-6.5v13M599 481.5h13m-6.5-6.5v13M599 480.5h13m-6.5-6.5v13M599 470.5h13m-6.5-6.5v13M599 481.5h13m-6.5-6.5v13M599 490.5h13m-6.5-6.5v13M599 471.5h13m-6.5-6.5v13M599 482.5h13m-6.5-6.5v13M600 469.5h13m-6.5-6.5v13M600 468.5h13m-6.5-6.5v13M600 483.5h13m-6.5-6.5v13M601 467.5h13m-6.5-6.5v13M601 470.5h13m-6.5-6.5v13M601 480.5h13m-6.5-6.5v13M601 469.5h13m-6.5-6.5v13M601 470.5h13m-6.5-6.5v13M602 480.5h13m-6.5-6.5v13M603 470.5h13m-6.5-6.5v13M603 467.5h13m-6.5-6.5v13M603 469.5h13m-6.5-6.5v13M603 481.5h13m-6.5-6.5v13M604 481.5h13m-6.5-6.5v13M604 463.5h13m-6.5-6.5v13M604 481.5h13m-6.5-6.5v13M605 471.5h13m-6.5-6.5v13M605 469.5h13m-6.5-6.5v13M605 480.5h13m-6.5-6.5v13M605 480.5h13m-6.5-6.5v13M606 467.5h13m-6.5-6.5v13M606 470.5h13m-6.5-6.5v13M607 480.5h13m-6.5-6.5v13M607 469.5h13m-6.5-6.5v13M607 460.5h13m-6.5-6.5v13M608 468.5h13m-6.5-6.5v13M608 480.5h13m-6.5-6.5v13M608 486.5h13m-6.5-6.5v13M608 479.5h13m-6.5-6.5v13M609 469.5h13m-6.5-6.5v13M609 483.5h13m-6.5-6.5v13M610 467.5h13m-6.5-6.5v13M610 462.5h13m-6.5-6.5v13M610 468.5h13m-6.5-6.5v13M610 482.5h13m-6.5-6.5v13M611 467.5h13m-6.5-6.5v13M611 470.5h13m-6.5-6.5v13M611 481.5h13m-6.5-6.5v13M611 469.5h13m-6.5-6.5v13M611 480.5h13m-6.5-6.5v13M611 488.5h13m-6.5-6.5v13M612 481.5h13m-6.5-6.5v13M612 479.5h13m-6.5-6.5v13M612 469.5h13m-6.5-6.5v13M612 480.5h13m-6.5-6.5v13M612 483.5h13m-6.5-6.5v13M612 469.5h13m-6.5-6.5v13M613 479.5h13m-6.5-6.5v13M613 468.5h13m-6.5-6.5v13M613 482.5h13m-6.5-6.5v13M613 482.5h13m-6.5-6.5v13M613 470.5h13m-6.5-6.5v13M613 469.5h13m-6.5-6.5v13M614 481.5h13m-6.5-6.5v13M614 480.5h13m-6.5-6.5v13M614 480.5h13m-6.5-6.5v13M614 470.5h13m-6.5-6.5v13M614 470.5h13m-6.5-6.5v13M615 480.5h13m-6.5-6.5v13M615 469.5h13m-6.5-6.5v13M616 466.5h13m-6.5-6.5v13M616 468.5h13m-6.5-6.5v13M616 485.5h13m-6.5-6.5v13M616 469.5h13m-6.5-6.5v13M616 479.5h13m-6.5-6.5v13M616 465.5h13m-6.5-6.5v13M617 466.5h13m-6.5-6.5v13M617 479.5h13m-6.5-6.5v13M617 469.5h13m-6.5-6.5v13M617 480.5h13m-6.5-6.5v13M618 483.5h13m-6.5-6.5v13M618 470.5h13m-6.5-6.5v13M618 468.5h13m-6.5-6.5v13M618 469.5h13m-6.5-6.5v13M618 468.5h13m-6.5-6.5v13M618 480.5h13m-6.5-6.5v13M619 468.5h13m-6.5-6.5v13M619 463.5h13m-6.5-6.5v13M619 466.5h13m-6.5-6.5v13M619 469.5h13m-6.5-6.5v13M620 480.5h13m-6.5-6.5v13M620 464.5h13m-6.5-6.5v13M620 480.5h13m-6.5-6.5v13M620 466.5h13m-6.5-6.5v13M620 469.5h13m-6.5-6.5v13M620 469.5h13m-6.5-6.5v13M620 486.5h13m-6.5-6.5v13M621 485.5h13m-6.5-6.5v13M621 480.5h13m-6.5-6.5v13M621 465.5h13m-6.5-6.5v13M622 469.5h13m-6.5-6.5v13M622 482.5h13m-6.5-6.5v13M622 481.5h13m-6.5-6.5v13M622 469.5h13m-6.5-6.5v13M622 479.5h13m-6.5-6.5v13M623 468.5h13m-6.5-6.5v13M623 480.5h13m-6.5-6.5v13M623 480.5h13m-6.5-6.5v13M623 481.5h13m-6.5-6.5v13M624 483.5h13m-6.5-6.5v13M624 468.5h13m-6.5-6.5v13M624 480.5h13m-6.5-6.5v13M624 469.5h13m-6.5-6.5v13M625 479.5h13m-6.5-6.5v13M625 467.5h13m-6.5-6.5v13M625 482.5h13m-6.5-6.5v13M625 485.5h13m-6.5-6.5v13M625 483.5h13m-6.5-6.5v13M626 483.5h13m-6.5-6.5v13M626 480.5h13m-6.5-6.5v13M626 465.5h13m-6.5-6.5v13M626 482.5h13m-6.5-6.5v13M626 459.5h13m-6.5-6.5v13M627 478.5h13m-6.5-6.5v13M627 481.5h13m-6.5-6.5v13M627 464.5h13m-6.5-6.5v13M627 469.5h13m-6.5-6.5v13M628 482.5h13m-6.5-6.5v13M628 459.5h13m-6.5-6.5v13M628 479.5h13m-6.5-6.5v13M628 478.5h13m-6.5-6.5v13M629 470.5h13m-6.5-6.5v13M629 468.5h13m-6.5-6.5v13M629 468.5h13m-6.5-6.5v13M629 467.5h13m-6.5-6.5v13M629 481.5h13m-6.5-6.5v13M630 483.5h13m-6.5-6.5v13M630 469.5h13m-6.5-6.5v13M630 470.5h13m-6.5-6.5v13M630 478.5h13m-6.5-6.5v13M631 479.5h13m-6.5-6.5v13M631 478.5h13m-6.5-6.5v13M631 469.5h13m-6.5-6.5v13M631 469.5h13m-6.5-6.5v13M631 482.5h13m-6.5-6.5v13M632 467.5h13m-6.5-6.5v13M632 469.5h13m-6.5-6.5v13M632 482.5h13m-6.5-6.5v13M632 465.5h13m-6.5-6.5v13M632 468.5h13m-6.5-6.5v13M633 479.5h13m-6.5-6.5v13M633 481.5h13m-6.5-6.5v13M633 469.5h13m-6.5-6.5v13M633 480.5h13m-6.5-6.5v13M634 469.5h13m-6.5-6.5v13M634 467.5h13m-6.5-6.5v13M635 468.5h13m-6.5-6.5v13M635 467.5h13m-6.5-6.5v13M635 468.5h13m-6.5-6.5v13M635 465.5h13m-6.5-6.5v13M636 466.5h13m-6.5-6.5v13M636 483.5h13m-6.5-6.5v13M637 486.5h13m-6.5-6.5v13M637 468.5h13m-6.5-6.5v13M637 468.5h13m-6.5-6.5v13M637 484.5h13m-6.5-6.5v13M638 465.5h13m-6.5-6.5v13M638 468.5h13m-6.5-6.5v13M639 484.5h13m-6.5-6.5v13M639 482.5h13m-6.5-6.5v13M639 468.5h13m-6.5-6.5v13M639 479.5h13m-6.5-6.5v13M640 482.5h13m-6.5-6.5v13M640 470.5h13m-6.5-6.5v13M640 483.5h13m-6.5-6.5v13M640 480.5h13m-6.5-6.5v13M640 467.5h13m-6.5-6.5v13M641 468.5h13m-6.5-6.5v13M641 468.5h13m-6.5-6.5v13M641 485.5h13m-6.5-6.5v13M641 482.5h13m-6.5-6.5v13M642 469.5h13m-6.5-6.5v13M642 478.5h13m-6.5-6.5v13M642 468.5h13m-6.5-6.5v13M642 482.5h13m-6.5-6.5v13M643 463.5h13m-6.5-6.5v13M643 469.5h13m-6.5-6.5v13M643 480.5h13m-6.5-6.5v13M643 469.5h13m-6.5-6.5v13M644 478.5h13m-6.5-6.5v13M644 465.5h13m-6.5-6.5v13M644 481.5h13m-6.5-6.5v13M644 468.5h13m-6.5-6.5v13M644 481.5h13m-6.5-6.5v13M645 469.5h13m-6.5-6.5v13M645 469.5h13m-6.5-6.5v13M645 478.5h13m-6.5-6.5v13M645 479.5h13m-6.5-6.5v13M645 482.5h13m-6.5-6.5v13M645 483.5h13m-6.5-6.5v13M645 467.5h13m-6.5-6.5v13M646 469.5h13m-6.5-6.5v13M646 479.5h13m-6.5-6.5v13M646 467.5h13m-6.5-6.5v13M646 469.5h13m-6.5-6.5v13M646 465.5h13m-6.5-6.5v13M646 467.5h13m-6.5-6.5v13M647 483.5h13m-6.5-6.5v13M648 479.5h13m-6.5-6.5v13M648 479.5h13m-6.5-6.5v13M648 468.5h13m-6.5-6.5v13M648 464.5h13m-6.5-6.5v13M648 485.5h13m-6.5-6.5v13M649 467.5h13m-6.5-6.5v13M649 469.5h13m-6.5-6.5v13M649 467.5h13m-6.5-6.5v13M650 480.5h13m-6.5-6.5v13M650 466.5h13m-6.5-6.5v13M650 481.5h13m-6.5-6.5v13M650 479.5h13m-6.5-6.5v13M651 478.5h13m-6.5-6.5v13M651 467.5h13m-6.5-6.5v13M652 479.5h13m-6.5-6.5v13M652 465.5h13m-6.5-6.5v13M653 481.5h13m-6.5-6.5v13M653 463.5h13m-6.5-6.5v13M653 479.5h13m-6.5-6.5v13M653 484.5h13m-6.5-6.5v13M653 478.5h13m-6.5-6.5v13M653 468.5h13m-6.5-6.5v13M654 465.5h13m-6.5-6.5v13M654 468.5h13m-6.5-6.5v13M654 477.5h13m-6.5-6.5v13M654 468.5h13m-6.5-6.5v13M655 467.5h13m-6.5-6.5v13M655 479.5h13m-6.5-6.5v13M655 466.5h13m-6.5-6.5v13M655 480.5h13m-6.5-6.5v13M655 468.5h13m-6.5-6.5v13M656 468.5h13m-6.5-6.5v13M656 468.5h13m-6.5-6.5v13M656 465.5h13m-6.5-6.5v13M656 480.5h13m-6.5-6.5v13M656 469.5h13m-6.5-6.5v13M656 467.5h13m-6.5-6.5v13M657 478.5h13m-6.5-6.5v13M657 479.5h13m-6.5-6.5v13M657 469.5h13m-6.5-6.5v13M658 464.5h13m-6.5-6.5v13M658 479.5h13m-6.5-6.5v13M658 478.5h13m-6.5-6.5v13M658 483.5h13m-6.5-6.5v13M658 477.5h13m-6.5-6.5v13M658 480.5h13m-6.5-6.5v13M658 468.5h13m-6.5-6.5v13M659 468.5h13m-6.5-6.5v13M659 477.5h13m-6.5-6.5v13M660 467.5h13m-6.5-6.5v13M660 465.5h13m-6.5-6.5v13M660 466.5h13m-6.5-6.5v13M660 478.5h13m-6.5-6.5v13M660 478.5h13m-6.5-6.5v13M661 465.5h13m-6.5-6.5v13M661 467.5h13m-6.5-6.5v13M661 482.5h13m-6.5-6.5v13M661 469.5h13m-6.5-6.5v13M661 479.5h13m-6.5-6.5v13M662 462.5h13m-6.5-6.5v13M662 479.5h13m-6.5-6.5v13M663 480.5h13m-6.5-6.5v13M663 477.5h13m-6.5-6.5v13M664 468.5h13m-6.5-6.5v13M665 477.5h13m-6.5-6.5v13M665 464.5h13m-6.5-6.5v13M665 467.5h13m-6.5-6.5v13M665 466.5h13m-6.5-6.5v13M666 479.5h13m-6.5-6.5v13M666 480.5h13m-6.5-6.5v13M666 477.5h13m-6.5-6.5v13M667 464.5h13m-6.5-6.5v13M667 483.5h13m-6.5-6.5v13M668 484.5h13m-6.5-6.5v13M668 481.5h13m-6.5-6.5v13M668 480.5h13m-6.5-6.5v13M668 466.5h13m-6.5-6.5v13M668 481.5h13m-6.5-6.5v13M669 477.5h13m-6.5-6.5v13M669 465.5h13m-6.5-6.5v13M669 478.5h13m-6.5-6.5v13M670 468.5h13m-6.5-6.5v13M670 466.5h13m-6.5-6.5v13M670 477.5h13m-6.5-6.5v13M670 468.5h13m-6.5-6.5v13M670 465.5h13m-6.5-6.5v13M671 468.5h13m-6.5-6.5v13M671 467.5h13m-6.5-6.5v13M671 477.5h13m-6.5-6.5v13M671 484.5h13m-6.5-6.5v13M671 481.5h13m-6.5-6.5v13M671 478.5h13m-6.5-6.5v13M672 465.5h13m-6.5-6.5v13M672 481.5h13m-6.5-6.5v13M672 467.5h13m-6.5-6.5v13M673 463.5h13m-6.5-6.5v13M673 466.5h13m-6.5-6.5v13M674 479.5h13m-6.5-6.5v13M674 482.5h13m-6.5-6.5v13M674 468.5h13m-6.5-6.5v13M674 481.5h13m-6.5-6.5v13M675 468.5h13m-6.5-6.5v13M675 482.5h13m-6.5-6.5v13M675 479.5h13m-6.5-6.5v13M676 477.5h13m-6.5-6.5v13M676 468.5h13m-6.5-6.5v13M676 477.5h13m-6.5-6.5v13M676 483.5h13m-6.5-6.5v13M676 479.5h13m-6.5-6.5v13M677 479.5h13m-6.5-6.5v13M677 480.5h13m-6.5-6.5v13M677 466.5h13m-6.5-6.5v13M677 464.5h13m-6.5-6.5v13M677 478.5h13m-6.5-6.5v13M677 478.5h13m-6.5-6.5v13M678 480.5h13m-6.5-6.5v13M678 465.5h13m-6.5-6.5v13M678 468.5h13m-6.5-6.5v13M678 468.5h13m-6.5-6.5v13M678 481.5h13m-6.5-6.5v13M678 469.5h13m-6.5-6.5v13M678 469.5h13m-6.5-6.5v13M679 462.5h13m-6.5-6.5v13M679 468.5h13m-6.5-6.5v13M679 467.5h13m-6.5-6.5v13M679 481.5h13m-6.5-6.5v13M679 468.5h13m-6.5-6.5v13M680 469.5h13m-6.5-6.5v13M680 478.5h13m-6.5-6.5v13M680 469.5h13m-6.5-6.5v13M680 463.5h13m-6.5-6.5v13M681 468.5h13m-6.5-6.5v13M681 489.5h13m-6.5-6.5v13M681 468.5h13m-6.5-6.5v13M681 465.5h13m-6.5-6.5v13M682 478.5h13m-6.5-6.5v13M682 479.5h13m-6.5-6.5v13M682 462.5h13m-6.5-6.5v13M682 479.5h13m-6.5-6.5v13M682 465.5h13m-6.5-6.5v13M682 478.5h13m-6.5-6.5v13M682 467.5h13m-6.5-6.5v13M683 468.5h13m-6.5-6.5v13M683 468.5h13m-6.5-6.5v13M683 479.5h13m-6.5-6.5v13M684 465.5h13m-6.5-6.5v13M684 469.5h13m-6.5-6.5v13M684 461.5h13m-6.5-6.5v13M684 467.5h13m-6.5-6.5v13M685 469.5h13m-6.5-6.5v13M685 468.5h13m-6.5-6.5v13M685 480.5h13m-6.5-6.5v13M685 478.5h13m-6.5-6.5v13M686 467.5h13m-6.5-6.5v13M686 478.5h13m-6.5-6.5v13M686 483.5h13m-6.5-6.5v13M686 463.5h13m-6.5-6.5v13M686 478.5h13m-6.5-6.5v13M686 468.5h13m-6.5-6.5v13M687 484.5h13m-6.5-6.5v13M687 478.5h13m-6.5-6.5v13M687 464.5h13m-6.5-6.5v13M687 480.5h13m-6.5-6.5v13M687 466.5h13m-6.5-6.5v13M687 479.5h13m-6.5-6.5v13M688 479.5h13m-6.5-6.5v13M688 479.5h13m-6.5-6.5v13M688 467.5h13m-6.5-6.5v13M688 460.5h13m-6.5-6.5v13M688 469.5h13m-6.5-6.5v13M689 469.5h13m-6.5-6.5v13M689 469.5h13m-6.5-6.5v13M689 462.5h13m-6.5-6.5v13M690 468.5h13m-6.5-6.5v13M690 466.5h13m-6.5-6.5v13M690 478.5h13m-6.5-6.5v13M690 481.5h13m-6.5-6.5v13M690 467.5h13m-6.5-6.5v13M690 479.5h13m-6.5-6.5v13M691 481.5h13m-6.5-6.5v13M691 468.5h13m-6.5-6.5v13M691 468.5h13m-6.5-6.5v13M691 481.5h13m-6.5-6.5v13M691 479.5h13m-6.5-6.5v13M692 462.5h13m-6.5-6.5v13M692 462.5h13m-6.5-6.5v13M692 478.5h13m-6.5-6.5v13M692 481.5h13m-6.5-6.5v13M692 468.5h13m-6.5-6.5v13M693 467.5h13m-6.5-6.5v13M693 480.5h13m-6.5-6.5v13M693 479.5h13m-6.5-6.5v13M694 465.5h13m-6.5-6.5v13M694 485.5h13m-6.5-6.5v13M694 483.5h13m-6.5-6.5v13M695 465.5h13m-6.5-6.5v13M695 467.5h13m-6.5-6.5v13M695 466.5h13m-6.5-6.5v13M695 479.5h13m-6.5-6.5v13M695 464.5h13m-6.5-6.5v13M695 480.5h13m-6.5-6.5v13M696 464.5h13m-6.5-6.5v13M696 479.5h13m-6.5-6.5v13M696 480.5h13m-6.5-6.5v13M696 481.5h13m-6.5-6.5v13M697 466.5h13m-6.5-6.5v13M697 479.5h13m-6.5-6.5v13M697 479.5h13m-6.5-6.5v13M697 469.5h13m-6.5-6.5v13M697 468.5h13m-6.5-6.5v13M698 481.5h13m-6.5-6.5v13M698 479.5h13m-6.5-6.5v13M699 468.5h13m-6.5-6.5v13M699 465.5h13m-6.5-6.5v13M699 469.5h13m-6.5-6.5v13M699 482.5h13m-6.5-6.5v13M699 465.5h13m-6.5-6.5v13M699 466.5h13m-6.5-6.5v13M700 478.5h13m-6.5-6.5v13M700 468.5h13m-6.5-6.5v13M701 468.5h13m-6.5-6.5v13M701 484.5h13m-6.5-6.5v13M701 468.5h13m-6.5-6.5v13M701 467.5h13m-6.5-6.5v13M702 465.5h13m-6.5-6.5v13M702 479.5h13m-6.5-6.5v13M702 466.5h13m-6.5-6.5v13M702 480.5h13m-6.5-6.5v13M702 478.5h13m-6.5-6.5v13M703 478.5h13m-6.5-6.5v13M703 462.5h13m-6.5-6.5v13M703 469.5h13m-6.5-6.5v13M703 468.5h13m-6.5-6.5v13M703 482.5h13m-6.5-6.5v13M704 468.5h13m-6.5-6.5v13M704 478.5h13m-6.5-6.5v13M704 479.5h13m-6.5-6.5v13M705 479.5h13m-6.5-6.5v13M705 466.5h13m-6.5-6.5v13M705 467.5h13m-6.5-6.5v13M705 480.5h13m-6.5-6.5v13M705 481.5h13m-6.5-6.5v13M705 468.5h13m-6.5-6.5v13M705 482.5h13m-6.5-6.5v13M706 464.5h13m-6.5-6.5v13M706 468.5h13m-6.5-6.5v13M706 480.5h13m-6.5-6.5v13M707 479.5h13m-6.5-6.5v13M707 469.5h13m-6.5-6.5v13M707 478.5h13m-6.5-6.5v13M707 479.5h13m-6.5-6.5v13M707 484.5h13m-6.5-6.5v13M708 468.5h13m-6.5-6.5v13M708 479.5h13m-6.5-6.5v13M708 460.5h13m-6.5-6.5v13M708 478.5h13m-6.5-6.5v13M709 468.5h13m-6.5-6.5v13M709 480.5h13m-6.5-6.5v13M709 468.5h13m-6.5-6.5v13M709 467.5h13m-6.5-6.5v13M710 467.5h13m-6.5-6.5v13M710 465.5h13m-6.5-6.5v13M710 481.5h13m-6.5-6.5v13M710 479.5h13m-6.5-6.5v13M711 479.5h13m-6.5-6.5v13M711 481.5h13m-6.5-6.5v13M712 468.5h13m-6.5-6.5v13M712 469.5h13m-6.5-6.5v13M712 467.5h13m-6.5-6.5v13M712 469.5h13m-6.5-6.5v13M712 481.5h13m-6.5-6.5v13M713 466.5h13m-6.5-6.5v13M713 483.5h13m-6.5-6.5v13M713 479.5h13m-6.5-6.5v13M713 479.5h13m-6.5-6.5v13M714 467.5h13m-6.5-6.5v13M714 469.5h13m-6.5-6.5v13M714 481.5h13m-6.5-6.5v13M714 481.5h13m-6.5-6.5v13M714 468.5h13m-6.5-6.5v13M714 480.5h13m-6.5-6.5v13M714 465.5h13m-6.5-6.5v13M714 469.5h13m-6.5-6.5v13M715 478.5h13m-6.5-6.5v13M715 469.5h13m-6.5-6.5v13M715 469.5h13m-6.5-6.5v13M716 482.5h13m-6.5-6.5v13M716 465.5h13m-6.5-6.5v13M717 481.5h13m-6.5-6.5v13M717 466.5h13m-6.5-6.5v13M717 466.5h13m-6.5-6.5v13M717 467.5h13m-6.5-6.5v13M718 467.5h13m-6.5-6.5v13M718 480.5h13m-6.5-6.5v13M718 479.5h13m-6.5-6.5v13M718 479.5h13m-6.5-6.5v13M719 479.5h13m-6.5-6.5v13M719 483.5h13m-6.5-6.5v13M719 466.5h13m-6.5-6.5v13M720 485.5h13m-6.5-6.5v13M720 463.5h13m-6.5-6.5v13M720 482.5h13m-6.5-6.5v13M722 468.5h13m-6.5-6.5v13M722 479.5h13m-6.5-6.5v13M722 465.5h13m-6.5-6.5v13M722 467.5h13m-6.5-6.5v13M722 482.5h13m-6.5-6.5v13M722 467.5h13m-6.5-6.5v13M722 469.5h13m-6.5-6.5v13M723 480.5h13m-6.5-6.5v13M723 481.5h13m-6.5-6.5v13M723 482.5h13m-6.5-6.5v13M723 468.5h13m-6.5-6.5v13M723 480.5h13m-6.5-6.5v13M724 479.5h13m-6.5-6.5v13M724 469.5h13m-6.5-6.5v13M724 466.5h13m-6.5-6.5v13M724 479.5h13m-6.5-6.5v13M724 460.5h13m-6.5-6.5v13M724 479.5h13m-6.5-6.5v13M724 480.5h13m-6.5-6.5v13M725 466.5h13m-6.5-6.5v13M725 466.5h13m-6.5-6.5v13M726 467.5h13m-6.5-6.5v13M726 463.5h13m-6.5-6.5v13M726 480.5h13m-6.5-6.5v13M726 466.5h13m-6.5-6.5v13M726 483.5h13m-6.5-6.5v13M727 461.5h13m-6.5-6.5v13M727 480.5h13m-6.5-6.5v13M727 479.5h13m-6.5-6.5v13M727 465.5h13m-6.5-6.5v13M728 465.5h13m-6.5-6.5v13M728 480.5h13m-6.5-6.5v13M728 466.5h13m-6.5-6.5v13M728 484.5h13m-6.5-6.5v13M728 466.5h13m-6.5-6.5v13M728 479.5h13m-6.5-6.5v13M729 464.5h13m-6.5-6.5v13M729 479.5h13m-6.5-6.5v13M729 478.5h13m-6.5-6.5v13M729 481.5h13m-6.5-6.5v13M729 477.5h13m-6.5-6.5v13M729 468.5h13m-6.5-6.5v13M729 484.5h13m-6.5-6.5v13M730 465.5h13m-6.5-6.5v13M730 477.5h13m-6.5-6.5v13M730 465.5h13m-6.5-6.5v13M731 467.5h13m-6.5-6.5v13M731 481.5h13m-6.5-6.5v13M732 478.5h13m-6.5-6.5v13M732 468.5h13m-6.5-6.5v13M732 462.5h13m-6.5-6.5v13M732 479.5h13m-6.5-6.5v13M732 478.5h13m-6.5-6.5v13M732 489.5h13m-6.5-6.5v13M732 478.5h13m-6.5-6.5v13M732 482.5h13m-6.5-6.5v13M733 480.5h13m-6.5-6.5v13M733 466.5h13m-6.5-6.5v13M733 480.5h13m-6.5-6.5v13M733 467.5h13m-6.5-6.5v13M733 477.5h13m-6.5-6.5v13M734 465.5h13m-6.5-6.5v13M734 463.5h13m-6.5-6.5v13M734 468.5h13m-6.5-6.5v13M734 466.5h13m-6.5-6.5v13M735 477.5h13m-6.5-6.5v13M736 478.5h13m-6.5-6.5v13M736 467.5h13m-6.5-6.5v13M736 464.5h13m-6.5-6.5v13M736 480.5h13m-6.5-6.5v13M736 478.5h13m-6.5-6.5v13M736 465.5h13m-6.5-6.5v13M736 468.5h13m-6.5-6.5v13M737 464.5h13m-6.5-6.5v13M737 464.5h13m-6.5-6.5v13M737 467.5h13m-6.5-6.5v13M737 465.5h13m-6.5-6.5v13M738 466.5h13m-6.5-6.5v13M738 479.5h13m-6.5-6.5v13M738 467.5h13m-6.5-6.5v13M738 464.5h13m-6.5-6.5v13M739 468.5h13m-6.5-6.5v13M739 467.5h13m-6.5-6.5v13M739 468.5h13m-6.5-6.5v13M739 480.5h13m-6.5-6.5v13M740 468.5h13m-6.5-6.5v13M740 468.5h13m-6.5-6.5v13M740 481.5h13m-6.5-6.5v13M740 464.5h13m-6.5-6.5v13M741 478.5h13m-6.5-6.5v13M741 480.5h13m-6.5-6.5v13M741 467.5h13m-6.5-6.5v13M741 464.5h13m-6.5-6.5v13M741 468.5h13m-6.5-6.5v13M742 481.5h13m-6.5-6.5v13M742 479.5h13m-6.5-6.5v13M742 465.5h13m-6.5-6.5v13M742 478.5h13m-6.5-6.5v13M742 480.5h13m-6.5-6.5v13M742 480.5h13m-6.5-6.5v13M743 481.5h13m-6.5-6.5v13M743 468.5h13m-6.5-6.5v13M743 482.5h13m-6.5-6.5v13M743 465.5h13m-6.5-6.5v13M743 468.5h13m-6.5-6.5v13M744 484.5h13m-6.5-6.5v13M744 464.5h13m-6.5-6.5v13M745 480.5h13m-6.5-6.5v13M745 467.5h13m-6.5-6.5v13M745 483.5h13m-6.5-6.5v13M745 467.5h13m-6.5-6.5v13M746 479.5h13m-6.5-6.5v13M746 478.5h13m-6.5-6.5v13M747 480.5h13m-6.5-6.5v13M747 482.5h13m-6.5-6.5v13M747 463.5h13m-6.5-6.5v13M748 468.5h13m-6.5-6.5v13M748 468.5h13m-6.5-6.5v13M748 463.5h13m-6.5-6.5v13M748 463.5h13m-6.5-6.5v13M748 478.5h13m-6.5-6.5v13M749 487.5h13m-6.5-6.5v13M749 466.5h13m-6.5-6.5v13M749 480.5h13m-6.5-6.5v13M749 481.5h13m-6.5-6.5v13M749 469.5h13m-6.5-6.5v13M749 479.5h13m-6.5-6.5v13M749 468.5h13m-6.5-6.5v13M750 480.5h13m-6.5-6.5v13M750 469.5h13m-6.5-6.5v13M751 483.5h13m-6.5-6.5v13M751 470.5h13m-6.5-6.5v13M751 465.5h13m-6.5-6.5v13M752 464.5h13m-6.5-6.5v13M752 480.5h13m-6.5-6.5v13M752 468.5h13m-6.5-6.5v13M753 482.5h13m-6.5-6.5v13M754 479.5h13m-6.5-6.5v13M754 461.5h13m-6.5-6.5v13M754 469.5h13m-6.5-6.5v13M754 468.5h13m-6.5-6.5v13M755 486.5h13m-6.5-6.5v13M755 482.5h13m-6.5-6.5v13M755 481.5h13m-6.5-6.5v13M755 464.5h13m-6.5-6.5v13M756 469.5h13m-6.5-6.5v13M756 469.5h13m-6.5-6.5v13M756 469.5h13m-6.5-6.5v13M756 467.5h13m-6.5-6.5v13M757 483.5h13m-6.5-6.5v13M757 480.5h13m-6.5-6.5v13M758 484.5h13m-6.5-6.5v13M758 466.5h13m-6.5-6.5v13M759 470.5h13m-6.5-6.5v13M759 470.5h13m-6.5-6.5v13M759 469.5h13m-6.5-6.5v13M760 485.5h13m-6.5-6.5v13M760 482.5h13m-6.5-6.5v13M760 466.5h13m-6.5-6.5v13M760 468.5h13m-6.5-6.5v13M760 468.5h13m-6.5-6.5v13M760 483.5h13m-6.5-6.5v13M761 480.5h13m-6.5-6.5v13M761 479.5h13m-6.5-6.5v13M761 466.5h13m-6.5-6.5v13M761 465.5h13m-6.5-6.5v13M762 467.5h13m-6.5-6.5v13M762 480.5h13m-6.5-6.5v13M762 482.5h13m-6.5-6.5v13M762 466.5h13m-6.5-6.5v13M763 466.5h13m-6.5-6.5v13M763 470.5h13m-6.5-6.5v13M763 480.5h13m-6.5-6.5v13M763 468.5h13m-6.5-6.5v13M763 470.5h13m-6.5-6.5v13M764 485.5h13m-6.5-6.5v13M764 470.5h13m-6.5-6.5v13M764 469.5h13m-6.5-6.5v13M764 469.5h13m-6.5-6.5v13M765 469.5h13m-6.5-6.5v13M765 484.5h13m-6.5-6.5v13M765 480.5h13m-6.5-6.5v13M765 468.5h13m-6.5-6.5v13M765 467.5h13m-6.5-6.5v13M766 466.5h13m-6.5-6.5v13M766 479.5h13m-6.5-6.5v13M766 481.5h13m-6.5-6.5v13M767 470.5h13m-6.5-6.5v13M767 470.5h13m-6.5-6.5v13M767 487.5h13m-6.5-6.5v13M767 467.5h13m-6.5-6.5v13M767 482.5h13m-6.5-6.5v13M767 465.5h13m-6.5-6.5v13M768 468.5h13m-6.5-6.5v13M768 482.5h13m-6.5-6.5v13M768 469.5h13m-6.5-6.5v13M768 466.5h13m-6.5-6.5v13M768 462.5h13m-6.5-6.5v13M768 485.5h13m-6.5-6.5v13M769 469.5h13m-6.5-6.5v13M769 470.5h13m-6.5-6.5v13M769 481.5h13m-6.5-6.5v13M769 470.5h13m-6.5-6.5v13M769 481.5h13m-6.5-6.5v13M770 480.5h13m-6.5-6.5v13M770 482.5h13m-6.5-6.5v13M770 469.5h13m-6.5-6.5v13M770 469.5h13m-6.5-6.5v13M771 480.5h13m-6.5-6.5v13M771 466.5h13m-6.5-6.5v13M771 485.5h13m-6.5-6.5v13M771 482.5h13m-6.5-6.5v13M772 483.5h13m-6.5-6.5v13M773 470.5h13m-6.5-6.5v13M773 468.5h13m-6.5-6.5v13M773 466.5h13m-6.5-6.5v13M773 468.5h13m-6.5-6.5v13M774 479.5h13m-6.5-6.5v13M774 480.5h13m-6.5-6.5v13M774 466.5h13m-6.5-6.5v13M774 479.5h13m-6.5-6.5v13M774 467.5h13m-6.5-6.5v13M775 482.5h13m-6.5-6.5v13M775 478.5h13m-6.5-6.5v13M775 479.5h13m-6.5-6.5v13M775 481.5h13m-6.5-6.5v13M775 480.5h13m-6.5-6.5v13M776 468.5h13m-6.5-6.5v13M776 483.5h13m-6.5-6.5v13M776 480.5h13m-6.5-6.5v13M776 485.5h13m-6.5-6.5v13M776 466.5h13m-6.5-6.5v13M776 469.5h13m-6.5-6.5v13M776 479.5h13m-6.5-6.5v13M777 459.5h13m-6.5-6.5v13M777 461.5h13m-6.5-6.5v13M777 487.5h13m-6.5-6.5v13M777 461.5h13m-6.5-6.5v13M778 469.5h13m-6.5-6.5v13M778 463.5h13m-6.5-6.5v13M778 468.5h13m-6.5-6.5v13M778 483.5h13m-6.5-6.5v13M778 483.5h13m-6.5-6.5v13M778 479.5h13m-6.5-6.5v13M779 469.5h13m-6.5-6.5v13M779 478.5h13m-6.5-6.5v13M779 481.5h13m-6.5-6.5v13M780 469.5h13m-6.5-6.5v13M780 482.5h13m-6.5-6.5v13M780 465.5h13m-6.5-6.5v13M780 485.5h13m-6.5-6.5v13M781 460.5h13m-6.5-6.5v13M781 466.5h13m-6.5-6.5v13M781 469.5h13m-6.5-6.5v13M781 464.5h13m-6.5-6.5v13M781 483.5h13m-6.5-6.5v13M782 480.5h13m-6.5-6.5v13M782 478.5h13m-6.5-6.5v13M782 478.5h13m-6.5-6.5v13M782 469.5h13m-6.5-6.5v13M783 482.5h13m-6.5-6.5v13M783 480.5h13m-6.5-6.5v13M783 466.5h13m-6.5-6.5v13M784 467.5h13m-6.5-6.5v13M784 462.5h13m-6.5-6.5v13M784 466.5h13m-6.5-6.5v13M785 479.5h13m-6.5-6.5v13M785 479.5h13m-6.5-6.5v13M785 469.5h13m-6.5-6.5v13M786 479.5h13m-6.5-6.5v13M786 463.5h13m-6.5-6.5v13M786 480.5h13m-6.5-6.5v13M786 478.5h13m-6.5-6.5v13M786 469.5h13m-6.5-6.5v13M786 478.5h13m-6.5-6.5v13M787 478.5h13m-6.5-6.5v13M787 468.5h13m-6.5-6.5v13M787 466.5h13m-6.5-6.5v13M787 469.5h13m-6.5-6.5v13M787 479.5h13m-6.5-6.5v13M787 463.5h13m-6.5-6.5v13M788 480.5h13m-6.5-6.5v13M788 468.5h13m-6.5-6.5v13M788 468.5h13m-6.5-6.5v13M788 481.5h13m-6.5-6.5v13M788 478.5h13m-6.5-6.5v13M789 478.5h13m-6.5-6.5v13M789 468.5h13m-6.5-6.5v13M789 465.5h13m-6.5-6.5v13M789 479.5h13m-6.5-6.5v13M790 467.5h13m-6.5-6.5v13M790 480.5h13m-6.5-6.5v13M790 479.5h13m-6.5-6.5v13M790 479.5h13m-6.5-6.5v13M791 470.5h13m-6.5-6.5v13M791 469.5h13m-6.5-6.5v13M791 469.5h13m-6.5-6.5v13M791 482.5h13m-6.5-6.5v13M792 469.5h13m-6.5-6.5v13M792 483.5h13m-6.5-6.5v13M792 480.5h13m-6.5-6.5v13M792 469.5h13m-6.5-6.5v13M793 468.5h13m-6.5-6.5v13M793 460.5h13m-6.5-6.5v13M793 479.5h13m-6.5-6.5v13M793 483.5h13m-6.5-6.5v13M793 468.5h13m-6.5-6.5v13M793 466.5h13m-6.5-6.5v13M794 467.5h13m-6.5-6.5v13M794 485.5h13m-6.5-6.5v13M794 486.5h13m-6.5-6.5v13M795 479.5h13m-6.5-6.5v13M795 481.5h13m-6.5-6.5v13M795 468.5h13m-6.5-6.5v13M795 479.5h13m-6.5-6.5v13M795 480.5h13m-6.5-6.5v13M795 479.5h13m-6.5-6.5v13M795 466.5h13m-6.5-6.5v13M796 479.5h13m-6.5-6.5v13M796 466.5h13m-6.5-6.5v13M796 479.5h13m-6.5-6.5v13M797 465.5h13m-6.5-6.5v13M797 461.5h13m-6.5-6.5v13M797 467.5h13m-6.5-6.5v13M797 463.5h13m-6.5-6.5v13M798 480.5h13m-6.5-6.5v13M798 468.5h13m-6.5-6.5v13M799 469.5h13m-6.5-6.5v13M799 467.5h13m-6.5-6.5v13M799 464.5h13m-6.5-6.5v13M799 483.5h13m-6.5-6.5v13M799 467.5h13m-6.5-6.5v13M800 468.5h13m-6.5-6.5v13M800 481.5h13m-6.5-6.5v13M800 467.5h13m-6.5-6.5v13M801 481.5h13m-6.5-6.5v13M801 468.5h13m-6.5-6.5v13M801 480.5h13m-6.5-6.5v13M801 480.5h13m-6.5-6.5v13M801 482.5h13m-6.5-6.5v13M801 466.5h13m-6.5-6.5v13M801 465.5h13m-6.5-6.5v13M802 480.5h13m-6.5-6.5v13M802 463.5h13m-6.5-6.5v13M802 468.5h13m-6.5-6.5v13M803 466.5h13m-6.5-6.5v13M803 470.5h13m-6.5-6.5v13M803 483.5h13m-6.5-6.5v13M803 481.5h13m-6.5-6.5v13M804 479.5h13m-6.5-6.5v13M805 479.5h13m-6.5-6.5v13M805 483.5h13m-6.5-6.5v13M805 468.5h13m-6.5-6.5v13M806 483.5h13m-6.5-6.5v13M806 468.5h13m-6.5-6.5v13M806 469.5h13m-6.5-6.5v13M806 469.5h13m-6.5-6.5v13M806 469.5h13m-6.5-6.5v13M807 469.5h13m-6.5-6.5v13M807 483.5h13m-6.5-6.5v13M807 481.5h13m-6.5-6.5v13M807 466.5h13m-6.5-6.5v13M807 482.5h13m-6.5-6.5v13M808 483.5h13m-6.5-6.5v13M808 465.5h13m-6.5-6.5v13M808 465.5h13m-6.5-6.5v13M808 482.5h13m-6.5-6.5v13M808 480.5h13m-6.5-6.5v13M809 470.5h13m-6.5-6.5v13M809 469.5h13m-6.5-6.5v13M809 464.5h13m-6.5-6.5v13M810 479.5h13m-6.5-6.5v13M810 469.5h13m-6.5-6.5v13M811 469.5h13m-6.5-6.5v13M811 468.5h13m-6.5-6.5v13M811 481.5h13m-6.5-6.5v13M812 481.5h13m-6.5-6.5v13M812 470.5h13m-6.5-6.5v13M812 479.5h13m-6.5-6.5v13M812 468.5h13m-6.5-6.5v13M812 482.5h13m-6.5-6.5v13M812 461.5h13m-6.5-6.5v13M812 468.5h13m-6.5-6.5v13M813 467.5h13m-6.5-6.5v13M813 487.5h13m-6.5-6.5v13M813 469.5h13m-6.5-6.5v13M813 482.5h13m-6.5-6.5v13M814 481.5h13m-6.5-6.5v13M814 469.5h13m-6.5-6.5v13M814 466.5h13m-6.5-6.5v13M814 492.5h13m-6.5-6.5v13M815 469.5h13m-6.5-6.5v13M815 479.5h13m-6.5-6.5v13M815 468.5h13m-6.5-6.5v13M816 478.5h13m-6.5-6.5v13M816 478.5h13m-6.5-6.5v13M816 469.5h13m-6.5-6.5v13M816 461.5h13m-6.5-6.5v13M816 469.5h13m-6.5-6.5v13M817 481.5h13m-6.5-6.5v13M817 465.5h13m-6.5-6.5v13M817 478.5h13m-6.5-6.5v13M818 479.5h13m-6.5-6.5v13M818 462.5h13m-6.5-6.5v13M818 468.5h13m-6.5-6.5v13M818 469.5h13m-6.5-6.5v13M818 468.5h13m-6.5-6.5v13M818 485.5h13m-6.5-6.5v13M819 467.5h13m-6.5-6.5v13M819 481.5h13m-6.5-6.5v13M819 468.5h13m-6.5-6.5v13M819 478.5h13m-6.5-6.5v13M819 484.5h13m-6.5-6.5v13M820 479.5h13m-6.5-6.5v13M820 482.5h13m-6.5-6.5v13M820 478.5h13m-6.5-6.5v13M821 465.5h13m-6.5-6.5v13M821 468.5h13m-6.5-6.5v13M822 478.5h13m-6.5-6.5v13M822 482.5h13m-6.5-6.5v13M822 464.5h13m-6.5-6.5v13M822 469.5h13m-6.5-6.5v13M822 478.5h13m-6.5-6.5v13M823 484.5h13m-6.5-6.5v13M823 467.5h13m-6.5-6.5v13M823 465.5h13m-6.5-6.5v13M823 467.5h13m-6.5-6.5v13M823 479.5h13m-6.5-6.5v13M823 482.5h13m-6.5-6.5v13M824 468.5h13m-6.5-6.5v13M824 467.5h13m-6.5-6.5v13M825 481.5h13m-6.5-6.5v13M825 483.5h13m-6.5-6.5v13M825 469.5h13m-6.5-6.5v13M825 469.5h13m-6.5-6.5v13M825 481.5h13m-6.5-6.5v13M826 460.5h13m-6.5-6.5v13M826 464.5h13m-6.5-6.5v13M827 467.5h13m-6.5-6.5v13M828 477.5h13m-6.5-6.5v13M828 466.5h13m-6.5-6.5v13M828 478.5h13m-6.5-6.5v13M829 468.5h13m-6.5-6.5v13M829 466.5h13m-6.5-6.5v13M829 464.5h13m-6.5-6.5v13M829 463.5h13m-6.5-6.5v13M830 482.5h13m-6.5-6.5v13M830 479.5h13m-6.5-6.5v13M830 479.5h13m-6.5-6.5v13M830 467.5h13m-6.5-6.5v13M830 479.5h13m-6.5-6.5v13M830 477.5h13m-6.5-6.5v13M831 477.5h13m-6.5-6.5v13M831 465.5h13m-6.5-6.5v13M831 466.5h13m-6.5-6.5v13M831 482.5h13m-6.5-6.5v13M831 479.5h13m-6.5-6.5v13M832 478.5h13m-6.5-6.5v13M832 477.5h13m-6.5-6.5v13M832 467.5h13m-6.5-6.5v13M832 468.5h13m-6.5-6.5v13M832 466.5h13m-6.5-6.5v13M833 466.5h13m-6.5-6.5v13M833 464.5h13m-6.5-6.5v13M833 482.5h13m-6.5-6.5v13M833 463.5h13m-6.5-6.5v13M834 459.5h13m-6.5-6.5v13M834 466.5h13m-6.5-6.5v13M834 465.5h13m-6.5-6.5v13M835 478.5h13m-6.5-6.5v13M835 479.5h13m-6.5-6.5v13M835 467.5h13m-6.5-6.5v13M835 478.5h13m-6.5-6.5v13M836 467.5h13m-6.5-6.5v13M836 478.5h13m-6.5-6.5v13M836 463.5h13m-6.5-6.5v13M837 479.5h13m-6.5-6.5v13M837 482.5h13m-6.5-6.5v13M837 468.5h13m-6.5-6.5v13M837 465.5h13m-6.5-6.5v13M838 465.5h13m-6.5-6.5v13M838 479.5h13m-6.5-6.5v13M838 462.5h13m-6.5-6.5v13M838 467.5h13m-6.5-6.5v13M838 462.5h13m-6.5-6.5v13M839 466.5h13m-6.5-6.5v13M839 478.5h13m-6.5-6.5v13M839 478.5h13m-6.5-6.5v13M839 477.5h13m-6.5-6.5v13M839 479.5h13m-6.5-6.5v13M840 467.5h13m-6.5-6.5v13M840 480.5h13m-6.5-6.5v13M840 466.5h13m-6.5-6.5v13M840 468.5h13m-6.5-6.5v13M840 478.5h13m-6.5-6.5v13M841 467.5h13m-6.5-6.5v13M841 477.5h13m-6.5-6.5v13M841 479.5h13m-6.5-6.5v13M841 481.5h13m-6.5-6.5v13M842 468.5h13m-6.5-6.5v13M842 467.5h13m-6.5-6.5v13M842 465.5h13m-6.5-6.5v13M842 477.5h13m-6.5-6.5v13M842 468.5h13m-6.5-6.5v13M842 478.5h13m-6.5-6.5v13M842 480.5h13m-6.5-6.5v13M843 478.5h13m-6.5-6.5v13M843 479.5h13m-6.5-6.5v13M844 466.5h13m-6.5-6.5v13M844 479.5h13m-6.5-6.5v13M844 468.5h13m-6.5-6.5v13M844 481.5h13m-6.5-6.5v13M844 477.5h13m-6.5-6.5v13M844 461.5h13m-6.5-6.5v13M845 478.5h13m-6.5-6.5v13M845 477.5h13m-6.5-6.5v13M845 479.5h13m-6.5-6.5v13M845 467.5h13m-6.5-6.5v13M846 477.5h13m-6.5-6.5v13M846 477.5h13m-6.5-6.5v13M846 485.5h13m-6.5-6.5v13M847 481.5h13m-6.5-6.5v13M847 462.5h13m-6.5-6.5v13M847 466.5h13m-6.5-6.5v13M847 465.5h13m-6.5-6.5v13M848 481.5h13m-6.5-6.5v13M848 467.5h13m-6.5-6.5v13M849 467.5h13m-6.5-6.5v13M849 468.5h13m-6.5-6.5v13M849 477.5h13m-6.5-6.5v13M849 488.5h13m-6.5-6.5v13M849 478.5h13m-6.5-6.5v13M849 478.5h13m-6.5-6.5v13M849 480.5h13m-6.5-6.5v13M850 481.5h13m-6.5-6.5v13M850 467.5h13m-6.5-6.5v13M850 467.5h13m-6.5-6.5v13M850 463.5h13m-6.5-6.5v13M851 477.5h13m-6.5-6.5v13M851 478.5h13m-6.5-6.5v13M851 467.5h13m-6.5-6.5v13M851 466.5h13m-6.5-6.5v13M851 468.5h13m-6.5-6.5v13M852 478.5h13m-6.5-6.5v13M852 467.5h13m-6.5-6.5v13M852 468.5h13m-6.5-6.5v13M852 482.5h13m-6.5-6.5v13M852 468.5h13m-6.5-6.5v13M853 460.5h13m-6.5-6.5v13M853 468.5h13m-6.5-6.5v13M853 484.5h13m-6.5-6.5v13M854 481.5h13m-6.5-6.5v13M854 479.5h13m-6.5-6.5v13M854 468.5h13m-6.5-6.5v13M854 468.5h13m-6.5-6.5v13M854 479.5h13m-6.5-6.5v13M855 464.5h13m-6.5-6.5v13M855 465.5h13m-6.5-6.5v13M855 482.5h13m-6.5-6.5v13M855 477.5h13m-6.5-6.5v13M856 465.5h13m-6.5-6.5v13M856 477.5h13m-6.5-6.5v13M856 479.5h13m-6.5-6.5v13M856 481.5h13m-6.5-6.5v13M857 461.5h13m-6.5-6.5v13M857 466.5h13m-6.5-6.5v13M857 464.5h13m-6.5-6.5v13M857 467.5h13m-6.5-6.5v13M857 467.5h13m-6.5-6.5v13M857 468.5h13m-6.5-6.5v13M858 481.5h13m-6.5-6.5v13M858 468.5h13m-6.5-6.5v13M858 483.5h13m-6.5-6.5v13M858 478.5h13m-6.5-6.5v13M859 467.5h13m-6.5-6.5v13M859 460.5h13m-6.5-6.5v13M859 478.5h13m-6.5-6.5v13M860 477.5h13m-6.5-6.5v13M860 467.5h13m-6.5-6.5v13M860 483.5h13m-6.5-6.5v13M860 479.5h13m-6.5-6.5v13M860 480.5h13m-6.5-6.5v13M860 479.5h13m-6.5-6.5v13M861 465.5h13m-6.5-6.5v13M861 468.5h13m-6.5-6.5v13M861 467.5h13m-6.5-6.5v13M861 484.5h13m-6.5-6.5v13M862 468.5h13m-6.5-6.5v13M862 468.5h13m-6.5-6.5v13M863 468.5h13m-6.5-6.5v13M863 468.5h13m-6.5-6.5v13M863 466.5h13m-6.5-6.5v13M863 465.5h13m-6.5-6.5v13M865 477.5h13m-6.5-6.5v13M865 478.5h13m-6.5-6.5v13M865 466.5h13m-6.5-6.5v13M865 466.5h13m-6.5-6.5v13M865 468.5h13m-6.5-6.5v13M866 463.5h13m-6.5-6.5v13M867 467.5h13m-6.5-6.5v13M867 485.5h13m-6.5-6.5v13M867 481.5h13m-6.5-6.5v13M867 464.5h13m-6.5-6.5v13M868 482.5h13m-6.5-6.5v13M868 482.5h13m-6.5-6.5v13M868 477.5h13m-6.5-6.5v13M868 468.5h13m-6.5-6.5v13M869 480.5h13m-6.5-6.5v13M869 479.5h13m-6.5-6.5v13M869 463.5h13m-6.5-6.5v13M869 468.5h13m-6.5-6.5v13M869 479.5h13m-6.5-6.5v13M869 482.5h13m-6.5-6.5v13M869 479.5h13m-6.5-6.5v13M870 468.5h13m-6.5-6.5v13M870 478.5h13m-6.5-6.5v13M870 463.5h13m-6.5-6.5v13M870 481.5h13m-6.5-6.5v13M871 479.5h13m-6.5-6.5v13M871 467.5h13m-6.5-6.5v13M871 477.5h13m-6.5-6.5v13M871 468.5h13m-6.5-6.5v13M872 477.5h13m-6.5-6.5v13M872 468.5h13m-6.5-6.5v13M872 483.5h13m-6.5-6.5v13M872 469.5h13m-6.5-6.5v13M873 468.5h13m-6.5-6.5v13M874 467.5h13m-6.5-6.5v13M874 480.5h13m-6.5-6.5v13M874 478.5h13m-6.5-6.5v13M875 468.5h13m-6.5-6.5v13M875 478.5h13m-6.5-6.5v13M875 478.5h13m-6.5-6.5v13M875 480.5h13m-6.5-6.5v13M875 479.5h13m-6.5-6.5v13M875 467.5h13m-6.5-6.5v13M876 467.5h13m-6.5-6.5v13M876 468.5h13m-6.5-6.5v13M876 480.5h13m-6.5-6.5v13M876 467.5h13m-6.5-6.5v13M876 466.5h13m-6.5-6.5v13M876 483.5h13m-6.5-6.5v13M877 484.5h13m-6.5-6.5v13M877 468.5h13m-6.5-6.5v13M877 480.5h13m-6.5-6.5v13M877 469.5h13m-6.5-6.5v13M877 464.5h13m-6.5-6.5v13M877 467.5h13m-6.5-6.5v13M877 466.5h13m-6.5-6.5v13M877 478.5h13m-6.5-6.5v13M878 468.5h13m-6.5-6.5v13M878 478.5h13m-6.5-6.5v13M878 480.5h13m-6.5-6.5v13M878 478.5h13m-6.5-6.5v13M878 481.5h13m-6.5-6.5v13M878 478.5h13m-6.5-6.5v13M879 465.5h13m-6.5-6.5v13M879 467.5h13m-6.5-6.5v13M879 461.5h13m-6.5-6.5v13M879 466.5h13m-6.5-6.5v13M879 468.5h13m-6.5-6.5v13M880 469.5h13m-6.5-6.5v13M880 462.5h13m-6.5-6.5v13M880 466.5h13m-6.5-6.5v13M880 478.5h13m-6.5-6.5v13M881 480.5h13m-6.5-6.5v13M881 466.5h13m-6.5-6.5v13M881 480.5h13m-6.5-6.5v13M881 467.5h13m-6.5-6.5v13M881 478.5h13m-6.5-6.5v13M882 467.5h13m-6.5-6.5v13M882 482.5h13m-6.5-6.5v13M882 469.5h13m-6.5-6.5v13M882 478.5h13m-6.5-6.5v13M882 468.5h13m-6.5-6.5v13M882 468.5h13m-6.5-6.5v13M883 485.5h13m-6.5-6.5v13M883 479.5h13m-6.5-6.5v13M883 478.5h13m-6.5-6.5v13M883 481.5h13m-6.5-6.5v13M884 479.5h13m-6.5-6.5v13M884 479.5h13m-6.5-6.5v13M884 477.5h13m-6.5-6.5v13M885 469.5h13m-6.5-6.5v13M885 466.5h13m-6.5-6.5v13M885 478.5h13m-6.5-6.5v13M886 464.5h13m-6.5-6.5v13M886 477.5h13m-6.5-6.5v13M886 478.5h13m-6.5-6.5v13M886 468.5h13m-6.5-6.5v13M886 464.5h13m-6.5-6.5v13M887 479.5h13m-6.5-6.5v13M887 469.5h13m-6.5-6.5v13M887 465.5h13m-6.5-6.5v13M887 477.5h13m-6.5-6.5v13M887 481.5h13m-6.5-6.5v13M887 481.5h13m-6.5-6.5v13M888 461.5h13m-6.5-6.5v13M888 465.5h13m-6.5-6.5v13M888 482.5h13m-6.5-6.5v13M888 485.5h13m-6.5-6.5v13M889 478.5h13m-6.5-6.5v13M889 468.5h13m-6.5-6.5v13M889 479.5h13m-6.5-6.5v13M889 460.5h13m-6.5-6.5v13M890 482.5h13m-6.5-6.5v13M890 468.5h13m-6.5-6.5v13M890 467.5h13m-6.5-6.5v13M891 474.5h13m-6.5-6.5v13M891 466.5h13m-6.5-6.5v13M891 474.5h13m-6.5-6.5v13M891 471.5h13m-6.5-6.5v13M891 476.5h13m-6.5-6.5v13M891 468.5h13m-6.5-6.5v13M891 470.5h13m-6.5-6.5v13M891 470.5h13m-6.5-6.5v13M891 471.5h13m-6.5-6.5v13M891 468.5h13m-6.5-6.5v13M891 472.5h13m-6.5-6.5v13M892 466.5h13m-6.5-6.5v13M892 475.5h13m-6.5-6.5v13M892 476.5h13m-6.5-6.5v13M892 473.5h13m-6.5-6.5v13M892 472.5h13m-6.5-6.5v13M892 469.5h13m-6.5-6.5v13M892 468.5h13m-6.5-6.5v13M892 472.5h13m-6.5-6.5v13M892 468.5h13m-6.5-6.5v13M892 467.5h13m-6.5-6.5v13M892 474.5h13m-6.5-6.5v13M893 473.5h13m-6.5-6.5v13M893 471.5h13m-6.5-6.5v13M893 469.5h13m-6.5-6.5v13M893 473.5h13m-6.5-6.5v13M893 470.5h13m-6.5-6.5v13M893 471.5h13m-6.5-6.5v13M893 474.5h13m-6.5-6.5v13M893 476.5h13m-6.5-6.5v13M893 477.5h13m-6.5-6.5v13M893 470.5h13m-6.5-6.5v13M894 479.5h13m-6.5-6.5v13M894 467.5h13m-6.5-6.5v13M894 472.5h13m-6.5-6.5v13M894 479.5h13m-6.5-6.5v13M894 484.5h13m-6.5-6.5v13M894 473.5h13m-6.5-6.5v13M894 471.5h13m-6.5-6.5v13M894 471.5h13m-6.5-6.5v13M894 467.5h13m-6.5-6.5v13M894 472.5h13m-6.5-6.5v13M894 471.5h13m-6.5-6.5v13M895 469.5h13m-6.5-6.5v13M895 479.5h13m-6.5-6.5v13M895 469.5h13m-6.5-6.5v13M895 481.5h13m-6.5-6.5v13M895 477.5h13m-6.5-6.5v13M895 476.5h13m-6.5-6.5v13M895 470.5h13m-6.5-6.5v13M895 470.5h13m-6.5-6.5v13M895 463.5h13m-6.5-6.5v13M895 474.5h13m-6.5-6.5v13M896 472.5h13m-6.5-6.5v13M896 475.5h13m-6.5-6.5v13M896 470.5h13m-6.5-6.5v13M896 475.5h13m-6.5-6.5v13M896 466.5h13m-6.5-6.5v13M896 462.5h13m-6.5-6.5v13M896 475.5h13m-6.5-6.5v13M896 478.5h13m-6.5-6.5v13M896 458.5h13m-6.5-6.5v13M896 479.5h13m-6.5-6.5v13M896 471.5h13m-6.5-6.5v13M897 472.5h13m-6.5-6.5v13M897 465.5h13m-6.5-6.5v13M897 468.5h13m-6.5-6.5v13M897 476.5h13m-6.5-6.5v13M897 469.5h13m-6.5-6.5v13M897 473.5h13m-6.5-6.5v13M897 472.5h13m-6.5-6.5v13M897 482.5h13m-6.5-6.5v13M897 477.5h13m-6.5-6.5v13M897 467.5h13m-6.5-6.5v13M898 471.5h13m-6.5-6.5v13M126 432.5h13m-6.5-6.5v13M154 323.5h13m-6.5-6.5v13M199 308.5h13m-6.5-6.5v13M216 412.5h13m-6.5-6.5v13M253 280.5h13m-6.5-6.5v13M269 393.5h13m-6.5-6.5v13M289 337.5h13m-6.5-6.5v13M329 368.5h13m-6.5-6.5v13M339 433.5h13m-6.5-6.5v13M352 418.5h13m-6.5-6.5v13M388 270.5h13m-6.5-6.5v13M389 370.5h13m-6.5-6.5v13M392 411.5h13m-6.5-6.5v13M387 424.5h13m-6.5-6.5v13M403 432.5h13m-6.5-6.5v13M428 425.5h13m-6.5-6.5v13M432 172.5h13m-6.5-6.5v13M502 423.5h13m-6.5-6.5v13M533 434.5h13m-6.5-6.5v13M558 230.5h13m-6.5-6.5v13M566 440.5h13m-6.5-6.5v13M574 434.5h13m-6.5-6.5v13M594 367.5h13m-6.5-6.5v13M616 369.5h13m-6.5-6.5v13M644 406.5h13m-6.5-6.5v13M693 416.5h13m-6.5-6.5v13M694 314.5h13m-6.5-6.5v13M716 435.5h13m-6.5-6.5v13M719 373.5h13m-6.5-6.5v13M733 335.5h13m-6.5-6.5v13M748 352.5h13m-6.5-6.5v13M753 369.5h13m-6.5-6.5v13M787 442.5h13m-6.5-6.5v13M788 393.5h13m-6.5-6.5v13M814 405.5h13m-6.5-6.5v13M832 415.5h13m-6.5-6.5v13M835 386.5h13m-6.5-6.5v13M857 426.5h13m-6.5-6.5v13M877 396.5h13m-6.5-6.5v13M319 442.5h13m-6.5-6.5v13M381 444.5h13m-6.5-6.5v13M121 448.5h13m-6.5-6.5v13M135 448.5h13m-6.5-6.5v13M140 448.5h13m-6.5-6.5v13M125 456.5h13m-6.5-6.5v13M160 451.5h13m-6.5-6.5v13M165 448.5h13m-6.5-6.5v13M176 451.5h13m-6.5-6.5v13M185 450.5h13m-6.5-6.5v13M567 456.5h13m-6.5-6.5v13M639 454.5h13m-6.5-6.5v13M874 459.5h13m-6.5-6.5v13M283 456.5h13m-6.5-6.5v13M321 458.5h13m-6.5-6.5v13M761 450.5h13m-6.5-6.5v13M741 457.5h13m-6.5-6.5v13M795 458.5h13m-6.5-6.5v13M411 449.5h13m-6.5-6.5v13M472 455.5h13m-6.5-6.5v13M651 457.5h13m-6.5-6.5v13M209 453.5h13m-6.5-6.5v13M205 457.5h13m-6.5-6.5v13M761 459.5h13m-6.5-6.5v13M649 446.5h13m-6.5-6.5v13M272 457.5h13m-6.5-6.5v13M531 457.5h13m-6.5-6.5v13M182 452.5h13m-6.5-6.5v13M573 454.5h13m-6.5-6.5v13M658 458.5h13m-6.5-6.5v13M375 457.5h13m-6.5-6.5v13M696 457.5h13m-6.5-6.5v13M310 457.5h13m-6.5-6.5v13M491 460.5h13m-6.5-6.5v13M472 461.5h13m-6.5-6.5v13M227 455.5h13m-6.5-6.5v13M703 457.5h13m-6.5-6.5v13M739 457.5h13m-6.5-6.5v13M891 453.5h13m-6.5-6.5v13M601 450.5h13m-6.5-6.5v13M324 450.5h13m-6.5-6.5v13M863 457.5h13m-6.5-6.5v13M368 455.5h13m-6.5-6.5v13M628 454.5h13m-6.5-6.5v13M264 453.5h13m-6.5-6.5v13M890 458.5h13m-6.5-6.5v13M781 453.5h13m-6.5-6.5v13M207 450.5h13m-6.5-6.5v13M725 454.5h13m-6.5-6.5v13M644 454.5h13m-6.5-6.5v13M332 457.5h13m-6.5-6.5v13M594 457.5h13m-6.5-6.5v13M540 458.5h13m-6.5-6.5v13M579 458.5h13m-6.5-6.5v13M336 456.5h13m-6.5-6.5v13M266 450.5h13m-6.5-6.5v13M835 453.5h13m-6.5-6.5v13M221 450.5h13m-6.5-6.5v13M792 451.5h13m-6.5-6.5v13M881 455.5h13m-6.5-6.5v13M175 456.5h13m-6.5-6.5v13M317 458.5h13m-6.5-6.5v13M320 458.5h13m-6.5-6.5v13M490 460.5h13m-6.5-6.5v13M219 454.5h13m-6.5-6.5v13M379 458.5h13m-6.5-6.5v13M203 456.5h13m-6.5-6.5v13M742 458.5h13m-6.5-6.5v13M746 458.5h13m-6.5-6.5v13M776 457.5h13m-6.5-6.5v13M758 456.5h13m-6.5-6.5v13M187 445.5h13m-6.5-6.5v13M295 454.5h13m-6.5-6.5v13M832 459.5h13m-6.5-6.5v13M197 455.5h13m-6.5-6.5v13M624 455.5h13m-6.5-6.5v13M644 453.5h13m-6.5-6.5v13M303 455.5h13m-6.5-6.5v13M798 458.5h13m-6.5-6.5v13M612 458.5h13m-6.5-6.5v13M171 450.5h13m-6.5-6.5v13M809 458.5h13m-6.5-6.5v13M581 456.5h13m-6.5-6.5v13M505 461.5h13m-6.5-6.5v13M338 453.5h13m-6.5-6.5v13M523 461.5h13m-6.5-6.5v13M527 461.5h13m-6.5-6.5v13M797 458.5h13m-6.5-6.5v13M517 458.5h13m-6.5-6.5v13M575 457.5h13m-6.5-6.5v13M518 459.5h13m-6.5-6.5v13M656 455.5h13m-6.5-6.5v13M730 455.5h13m-6.5-6.5v13M650 456.5h13m-6.5-6.5v13M366 457.5h13m-6.5-6.5v13M398 456.5h13m-6.5-6.5v13M896 459.5h13m-6.5-6.5v13M692 454.5h13m-6.5-6.5v13M839 453.5h13m-6.5-6.5v13M247 449.5h13m-6.5-6.5v13M414 451.5h13m-6.5-6.5v13M803 458.5h13m-6.5-6.5v13M235 453.5h13m-6.5-6.5v13M748 455.5h13m-6.5-6.5v13M482 459.5h13m-6.5-6.5v13M687 450.5h13m-6.5-6.5v13M717 452.5h13m-6.5-6.5v13M260 457.5h13m-6.5-6.5v13M279 457.5h13m-6.5-6.5v13M387 457.5h13m-6.5-6.5v13M226 452.5h13m-6.5-6.5v13M629 456.5h13m-6.5-6.5v13M654 457.5h13m-6.5-6.5v13M377 450.5h13m-6.5-6.5v13M707 458.5h13m-6.5-6.5v13M803 458.5h13m-6.5-6.5v13M663 455.5h13m-6.5-6.5v13M237 450.5h13m-6.5-6.5v13M548 460.5h13m-6.5-6.5v13M163 455.5h13m-6.5-6.5v13M883 454.5h13m-6.5-6.5v13M236 456.5h13m-6.5-6.5v13M875 458.5h13m-6.5-6.5v13M702 456.5h13m-6.5-6.5v13M263 450.5h13m-6.5-6.5v13M310 452.5h13m-6.5-6.5v13M186 455.5h13m-6.5-6.5v13M269 453.5h13m-6.5-6.5v13M735 449.5h13m-6.5-6.5v13M345 456.5h13m-6.5-6.5v13M232 457.5h13m-6.5-6.5v13M419 460.5h13m-6.5-6.5v13M734 457.5h13m-6.5-6.5v13M545 460.5h13m-6.5-6.5v13M156 452.5h13m-6.5-6.5v13M200 456.5h13m-6.5-6.5v13M715 453.5h13m-6.5-6.5v13M277 457.5h13m-6.5-6.5v13M782 456.5h13m-6.5-6.5v13M668 454.5h13m-6.5-6.5v13M153 450.5h13m-6.5-6.5v13M485 461.5h13m-6.5-6.5v13M680 451.5h13m-6.5-6.5v13M653 459.5h13m-6.5-6.5v13M619 459.5h13m-6.5-6.5v13M661 449.5h13m-6.5-6.5v13M818 458.5h13m-6.5-6.5v13M403 453.5h13m-6.5-6.5v13M840 458.5h13m-6.5-6.5v13M626 451.5h13m-6.5-6.5v13M503 461.5h13m-6.5-6.5v13M149 451.5h13m-6.5-6.5v13M383 458.5h13m-6.5-6.5v13M429 460.5h13m-6.5-6.5v13M702 455.5h13m-6.5-6.5v13M809 450.5h13m-6.5-6.5v13M221 455.5h13m-6.5-6.5v13M523 461.5h13m-6.5-6.5v13M423 452.5h13m-6.5-6.5v13M253 451.5h13m-6.5-6.5v13" stroke="#f00" stroke-width="1" fill="none"/><path d="M129.5 502.4 136 502.8 142.5 502.9 149 503 155.5 503.2 162 502.5 168.5 502.8 175 503.5 181.5 503 188 503.4 194.5 503 201 503.2 207.6 503.3 214.1 503.4 220.6 503.8 227.1 503.2 233.6 503.6 240.1 503.6 246.6 503.8 253.1 504.3 259.6 504.5 266.1 504.2 272.6 504.4 279.1 504.7 285.6 504.4 292.1 504.5 298.6 504.5 305.1 504.2 311.6 504.5 318.1 504.8 324.6 504.7 331.1 505.1 337.6 504.7 344.1 505.3 350.6 505.4 357.1 504.8 363.7 505.7 370.2 505.6 376.7 505.9 383.2 505.7 389.7 505.9 396.2 505.7 402.7 505.8 409.2 506.1 415.7 506.1 422.2 506.6 428.7 506.3 435.2 505.9 441.7 506.5 448.2 506.4 454.7 506.6 461.2 507.1 467.7 506.6 474.2 507.1 480.7 507.3 487.2 506.9 493.7 506.7 500.2 507.5 506.7 506.9 513.2 507.1 519.8 506.9 526.3 507.4 532.8 507.6 539.3 507.3 545.8 507.4 552.3 507.9 558.8 507.9 565.3 507.3 571.8 507.4 578.3 508.2 584.8 508.3 591.3 508.1 597.8 506.4 604.3 505 610.8 505 617.3 504.5 623.8 504.7 630.3 505.1 636.8 504.9 643.3 505.3 649.8 505.6 656.3 505 662.8 505.3 669.3 504.7 675.9 505.6 682.4 505.3 688.9 504.9 695.4 505.1 701.9 505.1 708.4 505.3 714.9 505.4 721.4 505.6 727.9 505 734.4 505.9 740.9 505.9 747.4 505.1 753.9 505.2 760.4 505.1 766.9 505.1 773.4 506 779.9 506 786.4 505.3 792.9 505.9 799.4 505.9 805.9 505.3 812.4 505.4 818.9 505.6 825.4 506.1 832 505.6 838.5 505.7 845 506.2 851.5 506 858 506.1 864.5 506.2 871 506.4 877.5 506.2 884 506.1 890.5 506.2 897 506.1 903.5 506.5 903.5 516.3 897 516.6 890.5 516.2 884 516.6 877.5 516.6 871 516.8 864.5 516.2 858 516.3 851.5 516.5 845 516.8 838.5 516.6 832 516.3 825.4 516 818.9 516.4 812.4 516.5 805.9 516.8 799.4 516.4 792.9 516 786.4 516.6 779.9 516 773.4 516.4 766.9 515.7 760.4 516.3 753.9 516.5 747.4 515.6 740.9 515.9 734.4 516.2 727.9 515.9 721.4 515.9 714.9 515.5 708.4 516.1 701.9 515.7 695.4 515.9 688.9 516.3 682.4 516.3 675.9 515.6 669.3 515.7 662.8 515.8 656.3 515.6 649.8 515.6 643.3 516 636.8 515.2 630.3 515.4 623.8 515.5 617.3 515.5 610.8 515.6 604.3 515.2 597.8 517.1 591.3 518.6 584.8 518.4 578.3 518 571.8 518.5 565.3 518.8 558.8 517.8 552.3 517.7 545.8 518.4 539.3 517.7 532.8 517.6 526.3 518.3 519.8 518.3 513.2 517.8 506.7 517.7 500.2 518 493.7 517.7 487.2 517.9 480.7 517.1 474.2 517.4 467.7 516.9 461.2 517.1 454.7 517.5 448.2 517.4 441.7 517.4 435.2 516.7 428.7 517 422.2 516.7 415.7 517.1 409.2 516.4 402.7 516.6 396.2 516.9 389.7 516.3 383.2 516 376.7 515.6 370.2 515.9 363.7 515.7 357.1 515.7 350.6 515.6 344.1 516 337.6 515.2 331.1 516 324.6 515.4 318.1 515.5 311.6 515.1 305.1 515 298.6 514.9 292.1 515.3 285.6 515.1 279.1 515 272.6 514.3 266.1 514.8 259.6 515 253.1 514.4 246.6 514 240.1 514.3 233.6 514.5 227.1 513.9 220.6 514.3 214.1 514.5 207.6 513.9 201 514.4 194.5 514.2 188 513.9 181.5 514.2 175 513.4 168.5 513.4 162 513.6 155.5 513 149 513.8 142.5 513.5 136 513.4 129.5 512.8 Z" fill="#0f0"/><path transform="translate(.5 .5)" d="M126 502l8 8m0-8l-8 8M126 504l8 8m0-8l-8 8M126 503l8 8m0-8l-8 8M126 503l8 8m0-8l-8 8M126 503l8 8m0-8l-8 8M126 502l8 8m0-8l-8 8M126 505l8 8m0-8l-8 8M126 502l8 8m0-8l-8 8M126 503l8 8m0-8l-8 8M126 503l8 8m0-8l-8 8M126 505l8 8m0-8l-8 8M127 505l8 8m0-8l-8 8M127 503l8 8m0-8l-8 8M127 505l8 8m0-8l-8 8M127 504l8 8m0-8l-8 8M127 505l8 8m0-8l-8 8M127 503l8 8m0-8l-8 8M127 504l8 8m0-8l-8 8M127 505l8 8m0-8l-8 8M127 503l8 8m0-8l-8 8M127 504l8 8m0-8l-8 8M127 502l8 8m0-8l-8 8M128 503l8 8m0-8l-8 8M128 503l8 8m0-8l-8 8M128 502l8 8m0-8l-8 8M128 502l8 8m0-8l-8 8M128 506l8 8m0-8l-8 8M128 506l8 8m0-8l-8 8M128 504l8 8m0-8l-8 8M128 502l8 8m0-8l-8 8M128 504l8 8m0-8l-8 8M128 503l8 8m0-8l-8 8M129 503l8 8m0-8l-8 8M129 503l8 8m0-8l-8 8M129 505l8 8m0-8l-8 8M129 507l8 8m0-8l-8 8M129 503l8 8m0-8l-8 8M129 504l8 8m0-8l-8 8M129 505l8 8m0-8l-8 8M129 504l8 8m0-8l-8 8M129 503l8 8m0-8l-8 8M129 503l8 8m0-8l-8 8M129 504l8 8m0-8l-8 8M130 503l8 8m0-8l-8 8M130 500l8 8m0-8l-8 8M130 503l8 8m0-8l-8 8M130 503l8 8m0-8l-8 8M130 504l8 8m0-8l-8 8M130 503l8 8m0-8l-8 8M130 503l8 8m0-8l-8 8M130 502l8 8m0-8l-8 8M130 506l8 8m0-8l-8 8M130 504l8 8m0-8l-8 8M131 506l8 8m0-8l-8 8M131 504l8 8m0-8l-8 8M131 503l8 8m0-8l-8 8M131 504l8 8m0-8l-8 8M131 503l8 8m0-8l-8 8M131 504l8 8m0-8l-8 8M131 503l8 8m0-8l-8 8M131 504l8 8m0-8l-8 8M131 501l8 8m0-8l-8 8M131 504l8 8m0-8l-8 8M131 505l8 8m0-8l-8 8M132 500l8 8m0-8l-8 8M132 505l8 8m0-8l-8 8M132 501l8 8m0-8l-8 8M132 504l8 8m0-8l-8 8M132 504l8 8m0-8l-8 8M132 508l8 8m0-8l-8 8M132 504l8 8m0-8l-8 8M132 505l8 8m0-8l-8 8M132 504l8 8m0-8l-8 8M132 503l8 8m0-8l-8 8M132 502l8 8m0-8l-8 8M133 502l8 8m0-8l-8 8M133 502l8 8m0-8l-8 8M133 502l8 8m0-8l-8 8M133 505l8 8m0-8l-8 8M133 502l8 8m0-8l-8 8M133 505l8 8m0-8l-8 8M134 505l8 8m0-8l-8 8M134 503l8 8m0-8l-8 8M134 505l8 8m0-8l-8 8M135 505l8 8m0-8l-8 8M135 505l8 8m0-8l-8 8M135 505l8 8m0-8l-8 8M135 505l8 8m0-8l-8 8M136 502l8 8m0-8l-8 8M136 502l8 8m0-8l-8 8M136 502l8 8m0-8l-8 8M136 505l8 8m0-8l-8 8M137 501l8 8m0-8l-8 8M137 502l8 8m0-8l-8 8M137 505l8 8m0-8l-8 8M137 502l8 8m0-8l-8 8M138 506l8 8m0-8l-8 8M138 506l8 8m0-8l-8 8M138 505l8 8m0-8l-8 8M139 506l8 8m0-8l-8 8M139 502l8 8m0-8l-8 8M140 506l8 8m0-8l-8 8M140 502l8 8m0-8l-8 8M141 505l8 8m0-8l-8 8M141 505l8 8m0-8l-8 8M142 505l8 8m0-8l-8 8M142 502l8 8m0-8l-8 8M143 502l8 8m0-8l-8 8M143 502l8 8m0-8l-8 8M143 505l8 8m0-8l-8 8M144 505l8 8m0-8l-8 8M144 505l8 8m0-8l-8 8M144 504l8 8m0-8l-8 8M145 502l8 8m0-8l-8 8M145 505l8 8m0-8l-8 8M146 502l8 8m0-8l-8 8M146 505l8 8m0-8l-8 8M147 505l8 8m0-8l-8 8M147 504l8 8m0-8l-8 8M147 500l8 8m0-8l-8 8M147 502l8 8m0-8l-8 8M147 502l8 8m0-8l-8 8M147 505l8 8m0-8l-8 8M148 502l8 8m0-8l-8 8M148 502l8 8m0-8l-8 8M149 505l8 8m0-8l-8 8M150 505l8 8m0-8l-8 8M150 502l8 8m0-8l-8 8M151 505l8 8m0-8l-8 8M151 505l8 8m0-8l-8 8M151 502l8 8m0-8l-8 8M152 501l8 8m0-8l-8 8M153 502l8 8m0-8l-8 8M153 501l8 8m0-8l-8 8M153 501l8 8m0-8l-8 8M153 505l8 8m0-8l-8 8M154 502l8 8m0-8l-8 8M154 502l8 8m0-8l-8 8M155 505l8 8m0-8l-8 8M155 502l8 8m0-8l-8 8M155 502l8 8m0-8l-8 8M156 502l8 8m0-8l-8 8M156 506l8 8m0-8l-8 8M156 501l8 8m0-8l-8 8M156 502l8 8m0-8l-8 8M157 502l8 8m0-8l-8 8M157 505l8 8m0-8l-8 8M157 502l8 8m0-8l-8 8M158 505l8 8m0-8l-8 8M158 507l8 8m0-8l-8 8M158 501l8 8m0-8l-8 8M158 502l8 8m0-8l-8 8M160 502l8 8m0-8l-8 8M160 501l8 8m0-8l-8 8M160 505l8 8m0-8l-8 8M160 505l8 8m0-8l-8 8M161 506l8 8m0-8l-8 8M161 506l8 8m0-8l-8 8M162 505l8 8m0-8l-8 8M162 501l8 8m0-8l-8 8M162 505l8 8m0-8l-8 8M162 505l8 8m0-8l-8 8M163 505l8 8m0-8l-8 8M163 503l8 8m0-8l-8 8M164 503l8 8m0-8l-8 8M164 505l8 8m0-8l-8 8M164 506l8 8m0-8l-8 8M165 506l8 8m0-8l-8 8M165 503l8 8m0-8l-8 8M166 503l8 8m0-8l-8 8M166 506l8 8m0-8l-8 8M166 502l8 8m0-8l-8 8M166 505l8 8m0-8l-8 8M167 503l8 8m0-8l-8 8M167 506l8 8m0-8l-8 8M167 502l8 8m0-8l-8 8M167 501l8 8m0-8l-8 8M168 506l8 8m0-8l-8 8M168 506l8 8m0-8l-8 8M168 506l8 8m0-8l-8 8M168 503l8 8m0-8l-8 8M169 506l8 8m0-8l-8 8M169 507l8 8m0-8l-8 8M170 503l8 8m0-8l-8 8M170 505l8 8m0-8l-8 8M170 506l8 8m0-8l-8 8M172 507l8 8m0-8l-8 8M172 503l8 8m0-8l-8 8M172 502l8 8m0-8l-8 8M173 503l8 8m0-8l-8 8M174 503l8 8m0-8l-8 8M174 503l8 8m0-8l-8 8M174 506l8 8m0-8l-8 8M175 506l8 8m0-8l-8 8M176 506l8 8m0-8l-8 8M176 506l8 8m0-8l-8 8M177 504l8 8m0-8l-8 8M178 507l8 8m0-8l-8 8M179 506l8 8m0-8l-8 8M179 504l8 8m0-8l-8 8M179 507l8 8m0-8l-8 8M179 503l8 8m0-8l-8 8M180 507l8 8m0-8l-8 8M180 503l8 8m0-8l-8 8M180 509l8 8m0-8l-8 8M180 503l8 8m0-8l-8 8M180 504l8 8m0-8l-8 8M180 508l8 8m0-8l-8 8M181 504l8 8m0-8l-8 8M181 507l8 8m0-8l-8 8M182 506l8 8m0-8l-8 8M182 507l8 8m0-8l-8 8M183 503l8 8m0-8l-8 8M183 507l8 8m0-8l-8 8M184 504l8 8m0-8l-8 8M184 504l8 8m0-8l-8 8M184 504l8 8m0-8l-8 8M184 506l8 8m0-8l-8 8M185 504l8 8m0-8l-8 8M185 508l8 8m0-8l-8 8M185 507l8 8m0-8l-8 8M186 506l8 8m0-8l-8 8M187 507l8 8m0-8l-8 8M187 504l8 8m0-8l-8 8M187 503l8 8m0-8l-8 8M188 503l8 8m0-8l-8 8M188 504l8 8m0-8l-8 8M188 507l8 8m0-8l-8 8M190 506l8 8m0-8l-8 8M190 506l8 8m0-8l-8 8M190 502l8 8m0-8l-8 8M191 503l8 8m0-8l-8 8M192 506l8 8m0-8l-8 8M192 504l8 8m0-8l-8 8M193 504l8 8m0-8l-8 8M193 506l8 8m0-8l-8 8M194 502l8 8m0-8l-8 8M194 503l8 8m0-8l-8 8M194 501l8 8m0-8l-8 8M194 503l8 8m0-8l-8 8M195 504l8 8m0-8l-8 8M195 507l8 8m0-8l-8 8M195 506l8 8m0-8l-8 8M196 504l8 8m0-8l-8 8M196 507l8 8m0-8l-8 8M197 504l8 8m0-8l-8 8M197 507l8 8m0-8l-8 8M197 508l8 8m0-8l-8 8M198 503l8 8m0-8l-8 8M198 508l8 8m0-8l-8 8M198 502l8 8m0-8l-8 8M200 503l8 8m0-8l-8 8M200 506l8 8m0-8l-8 8M202 507l8 8m0-8l-8 8M203 507l8 8m0-8l-8 8M203 507l8 8m0-8l-8 8M204 507l8 8m0-8l-8 8M205 507l8 8m0-8l-8 8M206 506l8 8m0-8l-8 8M206 503l8 8m0-8l-8 8M206 503l8 8m0-8l-8 8M206 507l8 8m0-8l-8 8M206 507l8 8m0-8l-8 8M206 506l8 8m0-8l-8 8M207 502l8 8m0-8l-8 8M207 504l8 8m0-8l-8 8M208 506l8 8m0-8l-8 8M209 507l8 8m0-8l-8 8M210 506l8 8m0-8l-8 8M210 507l8 8m0-8l-8 8M210 506l8 8m0-8l-8 8M211 507l8 8m0-8l-8 8M211 507l8 8m0-8l-8 8M211 503l8 8m0-8l-8 8M211 503l8 8m0-8l-8 8M211 506l8 8m0-8l-8 8M212 507l8 8m0-8l-8 8M212 507l8 8m0-8l-8 8M213 507l8 8m0-8l-8 8M214 503l8 8m0-8l-8 8M214 507l8 8m0-8l-8 8M215 506l8 8m0-8l-8 8M215 504l8 8m0-8l-8 8M215 504l8 8m0-8l-8 8M216 507l8 8m0-8l-8 8M216 504l8 8m0-8l-8 8M216 508l8 8m0-8l-8 8M216 507l8 8m0-8l-8 8M217 502l8 8m0-8l-8 8M217 507l8 8m0-8l-8 8M217 504l8 8m0-8l-8 8M218 506l8 8m0-8l-8 8M218 507l8 8m0-8l-8 8M218 506l8 8m0-8l-8 8M218 503l8 8m0-8l-8 8M219 506l8 8m0-8l-8 8M219 504l8 8m0-8l-8 8M221 506l8 8m0-8l-8 8M221 507l8 8m0-8l-8 8M222 506l8 8m0-8l-8 8M222 504l8 8m0-8l-8 8M222 504l8 8m0-8l-8 8M222 506l8 8m0-8l-8 8M223 506l8 8m0-8l-8 8M223 504l8 8m0-8l-8 8M224 502l8 8m0-8l-8 8M224 506l8 8m0-8l-8 8M226 507l8 8m0-8l-8 8M226 503l8 8m0-8l-8 8M227 504l8 8m0-8l-8 8M227 507l8 8m0-8l-8 8M228 508l8 8m0-8l-8 8M228 506l8 8m0-8l-8 8M228 506l8 8m0-8l-8 8M229 509l8 8m0-8l-8 8M229 503l8 8m0-8l-8 8M230 508l8 8m0-8l-8 8M230 503l8 8m0-8l-8 8M230 507l8 8m0-8l-8 8M231 507l8 8m0-8l-8 8M231 503l8 8m0-8l-8 8M231 502l8 8m0-8l-8 8M232 503l8 8m0-8l-8 8M232 507l8 8m0-8l-8 8M233 504l8 8m0-8l-8 8M233 502l8 8m0-8l-8 8M233 503l8 8m0-8l-8 8M233 507l8 8m0-8l-8 8M233 507l8 8m0-8l-8 8M233 504l8 8m0-8l-8 8M233 506l8 8m0-8l-8 8M234 503l8 8m0-8l-8 8M235 504l8 8m0-8l-8 8M235 504l8 8m0-8l-8 8M236 508l8 8m0-8l-8 8M237 507l8 8m0-8l-8 8M237 506l8 8m0-8l-8 8M238 504l8 8m0-8l-8 8M238 506l8 8m0-8l-8 8M239 504l8 8m0-8l-8 8M239 503l8 8m0-8l-8 8M240 507l8 8m0-8l-8 8M241 504l8 8m0-8l-8 8M242 507l8 8m0-8l-8 8M242 507l8 8m0-8l-8 8M242 504l8 8m0-8l-8 8M243 503l8 8m0-8l-8 8M243 507l8 8m0-8l-8 8M243 508l8 8m0-8l-8 8M243 504l8 8m0-8l-8 8M244 504l8 8m0-8l-8 8M244 507l8 8m0-8l-8 8M244 503l8 8m0-8l-8 8M244 508l8 8m0-8l-8 8M244 507l8 8m0-8l-8 8M245 503l8 8m0-8l-8 8M246 504l8 8m0-8l-8 8M247 506l8 8m0-8l-8 8M247 504l8 8m0-8l-8 8M247 504l8 8m0-8l-8 8M248 507l8 8m0-8l-8 8M249 507l8 8m0-8l-8 8M249 503l8 8m0-8l-8 8M250 507l8 8m0-8l-8 8M250 508l8 8m0-8l-8 8M251 504l8 8m0-8l-8 8M251 505l8 8m0-8l-8 8M252 507l8 8m0-8l-8 8M252 504l8 8m0-8l-8 8M253 507l8 8m0-8l-8 8M254 502l8 8m0-8l-8 8M254 504l8 8m0-8l-8 8M255 507l8 8m0-8l-8 8M255 507l8 8m0-8l-8 8M255 502l8 8m0-8l-8 8M255 505l8 8m0-8l-8 8M255 507l8 8m0-8l-8 8M255 507l8 8m0-8l-8 8M256 507l8 8m0-8l-8 8M256 507l8 8m0-8l-8 8M256 507l8 8m0-8l-8 8M257 504l8 8m0-8l-8 8M257 507l8 8m0-8l-8 8M258 505l8 8m0-8l-8 8M258 503l8 8m0-8l-8 8M259 504l8 8m0-8l-8 8M259 505l8 8m0-8l-8 8M260 504l8 8m0-8l-8 8M260 503l8 8m0-8l-8 8M261 504l8 8m0-8l-8 8M261 504l8 8m0-8l-8 8M261 508l8 8m0-8l-8 8M261 504l8 8m0-8l-8 8M262 505l8 8m0-8l-8 8M262 508l8 8m0-8l-8 8M262 505l8 8m0-8l-8 8M262 504l8 8m0-8l-8 8M262 504l8 8m0-8l-8 8M263 507l8 8m0-8l-8 8M264 510l8 8m0-8l-8 8M265 504l8 8m0-8l-8 8M265 507l8 8m0-8l-8 8M265 504l8 8m0-8l-8 8M265 504l8 8m0-8l-8 8M265 507l8 8m0-8l-8 8M265 505l8 8m0-8l-8 8M266 507l8 8m0-8l-8 8M266 505l8 8m0-8l-8 8M266 504l8 8m0-8l-8 8M266 505l8 8m0-8l-8 8M266 507l8 8m0-8l-8 8M267 509l8 8m0-8l-8 8M268 507l8 8m0-8l-8 8M268 509l8 8m0-8l-8 8M268 505l8 8m0-8l-8 8M269 507l8 8m0-8l-8 8M270 504l8 8m0-8l-8 8M270 508l8 8m0-8l-8 8M270 508l8 8m0-8l-8 8M271 509l8 8m0-8l-8 8M271 507l8 8m0-8l-8 8M272 505l8 8m0-8l-8 8M273 505l8 8m0-8l-8 8M274 504l8 8m0-8l-8 8M274 507l8 8m0-8l-8 8M274 507l8 8m0-8l-8 8M275 505l8 8m0-8l-8 8M275 504l8 8m0-8l-8 8M275 505l8 8m0-8l-8 8M275 504l8 8m0-8l-8 8M276 508l8 8m0-8l-8 8M276 509l8 8m0-8l-8 8M277 508l8 8m0-8l-8 8M277 505l8 8m0-8l-8 8M279 504l8 8m0-8l-8 8M279 504l8 8m0-8l-8 8M279 508l8 8m0-8l-8 8M279 507l8 8m0-8l-8 8M279 505l8 8m0-8l-8 8M280 508l8 8m0-8l-8 8M281 503l8 8m0-8l-8 8M281 505l8 8m0-8l-8 8M281 505l8 8m0-8l-8 8M282 504l8 8m0-8l-8 8M282 504l8 8m0-8l-8 8M283 507l8 8m0-8l-8 8M283 504l8 8m0-8l-8 8M283 508l8 8m0-8l-8 8M283 508l8 8m0-8l-8 8M285 507l8 8m0-8l-8 8M285 507l8 8m0-8l-8 8M285 507l8 8m0-8l-8 8M285 507l8 8m0-8l-8 8M286 507l8 8m0-8l-8 8M286 507l8 8m0-8l-8 8M286 507l8 8m0-8l-8 8M287 509l8 8m0-8l-8 8M287 504l8 8m0-8l-8 8M287 508l8 8m0-8l-8 8M287 508l8 8m0-8l-8 8M288 505l8 8m0-8l-8 8M288 507l8 8m0-8l-8 8M288 507l8 8m0-8l-8 8M288 504l8 8m0-8l-8 8M288 503l8 8m0-8l-8 8M289 504l8 8m0-8l-8 8M289 507l8 8m0-8l-8 8M289 507l8 8m0-8l-8 8M291 508l8 8m0-8l-8 8M291 508l8 8m0-8l-8 8M291 503l8 8m0-8l-8 8M291 507l8 8m0-8l-8 8M291 507l8 8m0-8l-8 8M292 510l8 8m0-8l-8 8M293 503l8 8m0-8l-8 8M295 504l8 8m0-8l-8 8M296 507l8 8m0-8l-8 8M296 503l8 8m0-8l-8 8M296 508l8 8m0-8l-8 8M297 507l8 8m0-8l-8 8M298 504l8 8m0-8l-8 8M298 507l8 8m0-8l-8 8M298 504l8 8m0-8l-8 8M299 507l8 8m0-8l-8 8M299 505l8 8m0-8l-8 8M299 505l8 8m0-8l-8 8M299 503l8 8m0-8l-8 8M299 505l8 8m0-8l-8 8M299 507l8 8m0-8l-8 8M301 505l8 8m0-8l-8 8M301 508l8 8m0-8l-8 8M302 507l8 8m0-8l-8 8M302 508l8 8m0-8l-8 8M303 507l8 8m0-8l-8 8M303 504l8 8m0-8l-8 8M303 504l8 8m0-8l-8 8M304 508l8 8m0-8l-8 8M304 505l8 8m0-8l-8 8M304 507l8 8m0-8l-8 8M304 505l8 8m0-8l-8 8M305 505l8 8m0-8l-8 8M305 509l8 8m0-8l-8 8M305 505l8 8m0-8l-8 8M306 507l8 8m0-8l-8 8M306 508l8 8m0-8l-8 8M307 507l8 8m0-8l-8 8M307 508l8 8m0-8l-8 8M308 507l8 8m0-8l-8 8M308 504l8 8m0-8l-8 8M308 509l8 8m0-8l-8 8M309 503l8 8m0-8l-8 8M310 507l8 8m0-8l-8 8M310 504l8 8m0-8l-8 8M310 507l8 8m0-8l-8 8M311 504l8 8m0-8l-8 8M312 504l8 8m0-8l-8 8M312 510l8 8m0-8l-8 8M312 505l8 8m0-8l-8 8M313 504l8 8m0-8l-8 8M314 507l8 8m0-8l-8 8M314 504l8 8m0-8l-8 8M315 504l8 8m0-8l-8 8M315 508l8 8m0-8l-8 8M316 507l8 8m0-8l-8 8M316 504l8 8m0-8l-8 8M317 505l8 8m0-8l-8 8M317 504l8 8m0-8l-8 8M317 507l8 8m0-8l-8 8M317 505l8 8m0-8l-8 8M317 504l8 8m0-8l-8 8M318 508l8 8m0-8l-8 8M319 505l8 8m0-8l-8 8M319 505l8 8m0-8l-8 8M321 503l8 8m0-8l-8 8M321 504l8 8m0-8l-8 8M322 503l8 8m0-8l-8 8M323 504l8 8m0-8l-8 8M323 503l8 8m0-8l-8 8M324 507l8 8m0-8l-8 8M325 507l8 8m0-8l-8 8M325 508l8 8m0-8l-8 8M325 508l8 8m0-8l-8 8M325 509l8 8m0-8l-8 8M326 507l8 8m0-8l-8 8M326 507l8 8m0-8l-8 8M326 508l8 8m0-8l-8 8M327 505l8 8m0-8l-8 8M327 504l8 8m0-8l-8 8M327 504l8 8m0-8l-8 8M329 505l8 8m0-8l-8 8M330 507l8 8m0-8l-8 8M330 508l8 8m0-8l-8 8M332 509l8 8m0-8l-8 8M332 504l8 8m0-8l-8 8M333 508l8 8m0-8l-8 8M333 505l8 8m0-8l-8 8M333 507l8 8m0-8l-8 8M334 502l8 8m0-8l-8 8M335 508l8 8m0-8l-8 8M335 504l8 8m0-8l-8 8M336 507l8 8m0-8l-8 8M336 509l8 8m0-8l-8 8M336 507l8 8m0-8l-8 8M337 505l8 8m0-8l-8 8M337 509l8 8m0-8l-8 8M337 505l8 8m0-8l-8 8M338 505l8 8m0-8l-8 8M338 505l8 8m0-8l-8 8M338 507l8 8m0-8l-8 8M338 504l8 8m0-8l-8 8M339 504l8 8m0-8l-8 8M339 507l8 8m0-8l-8 8M339 508l8 8m0-8l-8 8M339 508l8 8m0-8l-8 8M340 505l8 8m0-8l-8 8M340 511l8 8m0-8l-8 8M341 509l8 8m0-8l-8 8M341 507l8 8m0-8l-8 8M342 504l8 8m0-8l-8 8M343 507l8 8m0-8l-8 8M343 508l8 8m0-8l-8 8M343 508l8 8m0-8l-8 8M344 508l8 8m0-8l-8 8M344 505l8 8m0-8l-8 8M345 508l8 8m0-8l-8 8M345 504l8 8m0-8l-8 8M347 509l8 8m0-8l-8 8M347 505l8 8m0-8l-8 8M347 504l8 8m0-8l-8 8M348 504l8 8m0-8l-8 8M348 505l8 8m0-8l-8 8M349 508l8 8m0-8l-8 8M349 509l8 8m0-8l-8 8M350 508l8 8m0-8l-8 8M350 504l8 8m0-8l-8 8M350 509l8 8m0-8l-8 8M350 508l8 8m0-8l-8 8M350 508l8 8m0-8l-8 8M352 503l8 8m0-8l-8 8M353 505l8 8m0-8l-8 8M354 505l8 8m0-8l-8 8M355 505l8 8m0-8l-8 8M356 508l8 8m0-8l-8 8M356 511l8 8m0-8l-8 8M356 508l8 8m0-8l-8 8M356 505l8 8m0-8l-8 8M357 509l8 8m0-8l-8 8M357 505l8 8m0-8l-8 8M358 504l8 8m0-8l-8 8M358 508l8 8m0-8l-8 8M359 509l8 8m0-8l-8 8M359 506l8 8m0-8l-8 8M360 504l8 8m0-8l-8 8M360 508l8 8m0-8l-8 8M360 506l8 8m0-8l-8 8M361 508l8 8m0-8l-8 8M361 509l8 8m0-8l-8 8M361 510l8 8m0-8l-8 8M361 505l8 8m0-8l-8 8M361 505l8 8m0-8l-8 8M362 505l8 8m0-8l-8 8M362 504l8 8m0-8l-8 8M363 509l8 8m0-8l-8 8M363 508l8 8m0-8l-8 8M364 508l8 8m0-8l-8 8M364 505l8 8m0-8l-8 8M364 508l8 8m0-8l-8 8M364 508l8 8m0-8l-8 8M365 505l8 8m0-8l-8 8M365 508l8 8m0-8l-8 8M365 508l8 8m0-8l-8 8M365 509l8 8m0-8l-8 8M366 505l8 8m0-8l-8 8M367 505l8 8m0-8l-8 8M367 505l8 8m0-8l-8 8M368 508l8 8m0-8l-8 8M369 509l8 8m0-8l-8 8M370 510l8 8m0-8l-8 8M370 504l8 8m0-8l-8 8M370 505l8 8m0-8l-8 8M371 508l8 8m0-8l-8 8M371 504l8 8m0-8l-8 8M371 508l8 8m0-8l-8 8M372 504l8 8m0-8l-8 8M372 506l8 8m0-8l-8 8M372 509l8 8m0-8l-8 8M372 505l8 8m0-8l-8 8M373 505l8 8m0-8l-8 8M374 504l8 8m0-8l-8 8M375 505l8 8m0-8l-8 8M375 508l8 8m0-8l-8 8M375 506l8 8m0-8l-8 8M376 508l8 8m0-8l-8 8M376 504l8 8m0-8l-8 8M377 504l8 8m0-8l-8 8M377 505l8 8m0-8l-8 8M377 508l8 8m0-8l-8 8M377 505l8 8m0-8l-8 8M377 509l8 8m0-8l-8 8M377 509l8 8m0-8l-8 8M378 505l8 8m0-8l-8 8M378 509l8 8m0-8l-8 8M378 509l8 8m0-8l-8 8M378 504l8 8m0-8l-8 8M378 508l8 8m0-8l-8 8M378 508l8 8m0-8l-8 8M379 509l8 8m0-8l-8 8M379 508l8 8m0-8l-8 8M380 506l8 8m0-8l-8 8M380 508l8 8m0-8l-8 8M380 505l8 8m0-8l-8 8M380 506l8 8m0-8l-8 8M380 505l8 8m0-8l-8 8M381 505l8 8m0-8l-8 8M381 504l8 8m0-8l-8 8M381 509l8 8m0-8l-8 8M381 505l8 8m0-8l-8 8M381 505l8 8m0-8l-8 8M382 506l8 8m0-8l-8 8M382 509l8 8m0-8l-8 8M384 505l8 8m0-8l-8 8M384 508l8 8m0-8l-8 8M385 509l8 8m0-8l-8 8M385 505l8 8m0-8l-8 8M385 506l8 8m0-8l-8 8M385 506l8 8m0-8l-8 8M386 504l8 8m0-8l-8 8M386 509l8 8m0-8l-8 8M387 506l8 8m0-8l-8 8M388 506l8 8m0-8l-8 8M388 506l8 8m0-8l-8 8M389 504l8 8m0-8l-8 8M389 505l8 8m0-8l-8 8M390 505l8 8m0-8l-8 8M390 509l8 8m0-8l-8 8M391 508l8 8m0-8l-8 8M391 510l8 8m0-8l-8 8M392 506l8 8m0-8l-8 8M393 509l8 8m0-8l-8 8M393 506l8 8m0-8l-8 8M393 505l8 8m0-8l-8 8M394 508l8 8m0-8l-8 8M394 508l8 8m0-8l-8 8M394 506l8 8m0-8l-8 8M395 508l8 8m0-8l-8 8M395 506l8 8m0-8l-8 8M395 509l8 8m0-8l-8 8M395 504l8 8m0-8l-8 8M396 508l8 8m0-8l-8 8M396 508l8 8m0-8l-8 8M396 505l8 8m0-8l-8 8M397 509l8 8m0-8l-8 8M397 505l8 8m0-8l-8 8M398 509l8 8m0-8l-8 8M400 508l8 8m0-8l-8 8M400 508l8 8m0-8l-8 8M401 509l8 8m0-8l-8 8M402 508l8 8m0-8l-8 8M402 506l8 8m0-8l-8 8M402 506l8 8m0-8l-8 8M403 510l8 8m0-8l-8 8M403 506l8 8m0-8l-8 8M403 508l8 8m0-8l-8 8M403 504l8 8m0-8l-8 8M404 506l8 8m0-8l-8 8M404 508l8 8m0-8l-8 8M404 506l8 8m0-8l-8 8M404 509l8 8m0-8l-8 8M405 505l8 8m0-8l-8 8M406 508l8 8m0-8l-8 8M406 506l8 8m0-8l-8 8M406 505l8 8m0-8l-8 8M406 508l8 8m0-8l-8 8M407 506l8 8m0-8l-8 8M407 506l8 8m0-8l-8 8M408 509l8 8m0-8l-8 8M408 509l8 8m0-8l-8 8M409 506l8 8m0-8l-8 8M411 506l8 8m0-8l-8 8M413 509l8 8m0-8l-8 8M413 509l8 8m0-8l-8 8M413 509l8 8m0-8l-8 8M413 505l8 8m0-8l-8 8M413 510l8 8m0-8l-8 8M415 510l8 8m0-8l-8 8M415 510l8 8m0-8l-8 8M416 509l8 8m0-8l-8 8M416 509l8 8m0-8l-8 8M416 507l8 8m0-8l-8 8M417 506l8 8m0-8l-8 8M417 504l8 8m0-8l-8 8M417 507l8 8m0-8l-8 8M417 506l8 8m0-8l-8 8M417 506l8 8m0-8l-8 8M418 510l8 8m0-8l-8 8M418 506l8 8m0-8l-8 8M418 506l8 8m0-8l-8 8M419 506l8 8m0-8l-8 8M419 509l8 8m0-8l-8 8M419 507l8 8m0-8l-8 8M419 509l8 8m0-8l-8 8M421 509l8 8m0-8l-8 8M421 507l8 8m0-8l-8 8M422 510l8 8m0-8l-8 8M423 507l8 8m0-8l-8 8M424 509l8 8m0-8l-8 8M424 512l8 8m0-8l-8 8M424 509l8 8m0-8l-8 8M425 505l8 8m0-8l-8 8M425 507l8 8m0-8l-8 8M426 510l8 8m0-8l-8 8M426 511l8 8m0-8l-8 8M426 507l8 8m0-8l-8 8M427 510l8 8m0-8l-8 8M428 510l8 8m0-8l-8 8M428 507l8 8m0-8l-8 8M429 510l8 8m0-8l-8 8M429 507l8 8m0-8l-8 8M430 510l8 8m0-8l-8 8M431 510l8 8m0-8l-8 8M431 507l8 8m0-8l-8 8M431 510l8 8m0-8l-8 8M432 508l8 8m0-8l-8 8M432 510l8 8m0-8l-8 8M432 510l8 8m0-8l-8 8M433 507l8 8m0-8l-8 8M434 511l8 8m0-8l-8 8M434 510l8 8m0-8l-8 8M434 510l8 8m0-8l-8 8M434 510l8 8m0-8l-8 8M435 508l8 8m0-8l-8 8M435 508l8 8m0-8l-8 8M435 512l8 8m0-8l-8 8M436 506l8 8m0-8l-8 8M436 510l8 8m0-8l-8 8M436 512l8 8m0-8l-8 8M437 510l8 8m0-8l-8 8M437 510l8 8m0-8l-8 8M437 507l8 8m0-8l-8 8M437 508l8 8m0-8l-8 8M438 506l8 8m0-8l-8 8M438 506l8 8m0-8l-8 8M438 510l8 8m0-8l-8 8M439 510l8 8m0-8l-8 8M439 507l8 8m0-8l-8 8M439 510l8 8m0-8l-8 8M440 507l8 8m0-8l-8 8M440 510l8 8m0-8l-8 8M440 511l8 8m0-8l-8 8M441 512l8 8m0-8l-8 8M441 510l8 8m0-8l-8 8M442 506l8 8m0-8l-8 8M442 511l8 8m0-8l-8 8M443 511l8 8m0-8l-8 8M444 506l8 8m0-8l-8 8M444 511l8 8m0-8l-8 8M445 510l8 8m0-8l-8 8M445 510l8 8m0-8l-8 8M445 510l8 8m0-8l-8 8M446 510l8 8m0-8l-8 8M446 510l8 8m0-8l-8 8M446 510l8 8m0-8l-8 8M446 510l8 8m0-8l-8 8M447 511l8 8m0-8l-8 8M448 508l8 8m0-8l-8 8M449 506l8 8m0-8l-8 8M449 510l8 8m0-8l-8 8M449 507l8 8m0-8l-8 8M449 510l8 8m0-8l-8 8M450 508l8 8m0-8l-8 8M450 510l8 8m0-8l-8 8M450 510l8 8m0-8l-8 8M451 510l8 8m0-8l-8 8M451 510l8 8m0-8l-8 8M451 511l8 8m0-8l-8 8M451 507l8 8m0-8l-8 8M452 507l8 8m0-8l-8 8M453 506l8 8m0-8l-8 8M454 505l8 8m0-8l-8 8M454 507l8 8m0-8l-8 8M454 507l8 8m0-8l-8 8M457 507l8 8m0-8l-8 8M457 507l8 8m0-8l-8 8M457 511l8 8m0-8l-8 8M458 506l8 8m0-8l-8 8M458 510l8 8m0-8l-8 8M458 510l8 8m0-8l-8 8M458 510l8 8m0-8l-8 8M458 511l8 8m0-8l-8 8M459 507l8 8m0-8l-8 8M459 511l8 8m0-8l-8 8M460 509l8 8m0-8l-8 8M460 507l8 8m0-8l-8 8M460 506l8 8m0-8l-8 8M460 507l8 8m0-8l-8 8M461 509l8 8m0-8l-8 8M461 507l8 8m0-8l-8 8M462 507l8 8m0-8l-8 8M462 506l8 8m0-8l-8 8M462 506l8 8m0-8l-8 8M463 506l8 8m0-8l-8 8M463 510l8 8m0-8l-8 8M463 510l8 8m0-8l-8 8M463 506l8 8m0-8l-8 8M464 510l8 8m0-8l-8 8M464 507l8 8m0-8l-8 8M464 511l8 8m0-8l-8 8M464 506l8 8m0-8l-8 8M465 509l8 8m0-8l-8 8M466 509l8 8m0-8l-8 8M466 507l8 8m0-8l-8 8M466 507l8 8m0-8l-8 8M466 506l8 8m0-8l-8 8M467 507l8 8m0-8l-8 8M467 507l8 8m0-8l-8 8M468 510l8 8m0-8l-8 8M468 511l8 8m0-8l-8 8M468 507l8 8m0-8l-8 8M468 509l8 8m0-8l-8 8M469 507l8 8m0-8l-8 8M469 510l8 8m0-8l-8 8M469 510l8 8m0-8l-8 8M469 507l8 8m0-8l-8 8M470 507l8 8m0-8l-8 8M471 507l8 8m0-8l-8 8M472 510l8 8m0-8l-8 8M472 506l8 8m0-8l-8 8M472 511l8 8m0-8l-8 8M472 510l8 8m0-8l-8 8M472 506l8 8m0-8l-8 8M473 507l8 8m0-8l-8 8M474 509l8 8m0-8l-8 8M474 510l8 8m0-8l-8 8M474 507l8 8m0-8l-8 8M475 507l8 8m0-8l-8 8M476 510l8 8m0-8l-8 8M477 510l8 8m0-8l-8 8M477 507l8 8m0-8l-8 8M477 506l8 8m0-8l-8 8M477 510l8 8m0-8l-8 8M478 506l8 8m0-8l-8 8M479 506l8 8m0-8l-8 8M479 507l8 8m0-8l-8 8M479 510l8 8m0-8l-8 8M480 507l8 8m0-8l-8 8M481 506l8 8m0-8l-8 8M481 511l8 8m0-8l-8 8M482 510l8 8m0-8l-8 8M483 510l8 8m0-8l-8 8M483 511l8 8m0-8l-8 8M483 510l8 8m0-8l-8 8M484 510l8 8m0-8l-8 8M484 510l8 8m0-8l-8 8M485 506l8 8m0-8l-8 8M485 506l8 8m0-8l-8 8M485 507l8 8m0-8l-8 8M485 507l8 8m0-8l-8 8M485 507l8 8m0-8l-8 8M485 510l8 8m0-8l-8 8M486 507l8 8m0-8l-8 8M487 506l8 8m0-8l-8 8M487 507l8 8m0-8l-8 8M488 510l8 8m0-8l-8 8M488 507l8 8m0-8l-8 8M488 507l8 8m0-8l-8 8M489 511l8 8m0-8l-8 8M489 507l8 8m0-8l-8 8M489 510l8 8m0-8l-8 8M490 512l8 8m0-8l-8 8M490 510l8 8m0-8l-8 8M492 507l8 8m0-8l-8 8M493 506l8 8m0-8l-8 8M494 507l8 8m0-8l-8 8M494 511l8 8m0-8l-8 8M495 507l8 8m0-8l-8 8M496 512l8 8m0-8l-8 8M496 507l8 8m0-8l-8 8M498 510l8 8m0-8l-8 8M498 507l8 8m0-8l-8 8M498 511l8 8m0-8l-8 8M499 510l8 8m0-8l-8 8M499 507l8 8m0-8l-8 8M499 507l8 8m0-8l-8 8M500 510l8 8m0-8l-8 8M501 507l8 8m0-8l-8 8M501 507l8 8m0-8l-8 8M501 506l8 8m0-8l-8 8M502 506l8 8m0-8l-8 8M502 510l8 8m0-8l-8 8M502 510l8 8m0-8l-8 8M503 510l8 8m0-8l-8 8M504 510l8 8m0-8l-8 8M504 510l8 8m0-8l-8 8M504 510l8 8m0-8l-8 8M505 507l8 8m0-8l-8 8M505 510l8 8m0-8l-8 8M505 510l8 8m0-8l-8 8M506 505l8 8m0-8l-8 8M506 510l8 8m0-8l-8 8M506 506l8 8m0-8l-8 8M507 506l8 8m0-8l-8 8M507 507l8 8m0-8l-8 8M507 510l8 8m0-8l-8 8M507 507l8 8m0-8l-8 8M508 510l8 8m0-8l-8 8M508 510l8 8m0-8l-8 8M508 507l8 8m0-8l-8 8M508 508l8 8m0-8l-8 8M509 507l8 8m0-8l-8 8M510 507l8 8m0-8l-8 8M510 507l8 8m0-8l-8 8M510 510l8 8m0-8l-8 8M510 510l8 8m0-8l-8 8M510 507l8 8m0-8l-8 8M511 510l8 8m0-8l-8 8M511 510l8 8m0-8l-8 8M512 511l8 8m0-8l-8 8M512 507l8 8m0-8l-8 8M512 508l8 8m0-8l-8 8M513 507l8 8m0-8l-8 8M513 507l8 8m0-8l-8 8M513 507l8 8m0-8l-8 8M514 506l8 8m0-8l-8 8M514 507l8 8m0-8l-8 8M515 506l8 8m0-8l-8 8M515 506l8 8m0-8l-8 8M515 510l8 8m0-8l-8 8M516 511l8 8m0-8l-8 8M516 505l8 8m0-8l-8 8M517 507l8 8m0-8l-8 8M518 510l8 8m0-8l-8 8M518 507l8 8m0-8l-8 8M518 510l8 8m0-8l-8 8M518 510l8 8m0-8l-8 8M518 510l8 8m0-8l-8 8M519 510l8 8m0-8l-8 8M519 510l8 8m0-8l-8 8M520 507l8 8m0-8l-8 8M520 511l8 8m0-8l-8 8M521 510l8 8m0-8l-8 8M521 511l8 8m0-8l-8 8M521 510l8 8m0-8l-8 8M521 510l8 8m0-8l-8 8M521 507l8 8m0-8l-8 8M521 510l8 8m0-8l-8 8M522 511l8 8m0-8l-8 8M522 510l8 8m0-8l-8 8M522 506l8 8m0-8l-8 8M522 512l8 8m0-8l-8 8M523 510l8 8m0-8l-8 8M526 510l8 8m0-8l-8 8M526 506l8 8m0-8l-8 8M527 510l8 8m0-8l-8 8M527 511l8 8m0-8l-8 8M527 507l8 8m0-8l-8 8M527 511l8 8m0-8l-8 8M528 507l8 8m0-8l-8 8M528 507l8 8m0-8l-8 8M529 507l8 8m0-8l-8 8M529 507l8 8m0-8l-8 8M529 510l8 8m0-8l-8 8M530 510l8 8m0-8l-8 8M530 511l8 8m0-8l-8 8M530 507l8 8m0-8l-8 8M531 510l8 8m0-8l-8 8M531 506l8 8m0-8l-8 8M532 510l8 8m0-8l-8 8M532 507l8 8m0-8l-8 8M533 506l8 8m0-8l-8 8M533 510l8 8m0-8l-8 8M533 510l8 8m0-8l-8 8M534 507l8 8m0-8l-8 8M534 507l8 8m0-8l-8 8M534 510l8 8m0-8l-8 8M535 507l8 8m0-8l-8 8M535 507l8 8m0-8l-8 8M535 507l8 8m0-8l-8 8M536 507l8 8m0-8l-8 8M536 507l8 8m0-8l-8 8M537 510l8 8m0-8l-8 8M538 506l8 8m0-8l-8 8M538 507l8 8m0-8l-8 8M539 507l8 8m0-8l-8 8M539 506l8 8m0-8l-8 8M539 510l8 8m0-8l-8 8M540 510l8 8m0-8l-8 8M540 507l8 8m0-8l-8 8M540 511l8 8m0-8l-8 8M541 510l8 8m0-8l-8 8M541 510l8 8m0-8l-8 8M541 506l8 8m0-8l-8 8M541 511l8 8m0-8l-8 8M541 512l8 8m0-8l-8 8M542 505l8 8m0-8l-8 8M542 507l8 8m0-8l-8 8M542 506l8 8m0-8l-8 8M543 506l8 8m0-8l-8 8M544 511l8 8m0-8l-8 8M544 511l8 8m0-8l-8 8M544 510l8 8m0-8l-8 8M545 505l8 8m0-8l-8 8M545 511l8 8m0-8l-8 8M545 507l8 8m0-8l-8 8M545 510l8 8m0-8l-8 8M546 507l8 8m0-8l-8 8M546 507l8 8m0-8l-8 8M546 510l8 8m0-8l-8 8M547 507l8 8m0-8l-8 8M547 510l8 8m0-8l-8 8M548 506l8 8m0-8l-8 8M548 510l8 8m0-8l-8 8M548 507l8 8m0-8l-8 8M549 506l8 8m0-8l-8 8M550 507l8 8m0-8l-8 8M550 511l8 8m0-8l-8 8M550 510l8 8m0-8l-8 8M551 510l8 8m0-8l-8 8M551 510l8 8m0-8l-8 8M552 511l8 8m0-8l-8 8M552 508l8 8m0-8l-8 8M553 511l8 8m0-8l-8 8M553 507l8 8m0-8l-8 8M553 510l8 8m0-8l-8 8M553 507l8 8m0-8l-8 8M553 507l8 8m0-8l-8 8M554 507l8 8m0-8l-8 8M555 506l8 8m0-8l-8 8M555 506l8 8m0-8l-8 8M555 511l8 8m0-8l-8 8M556 506l8 8m0-8l-8 8M556 510l8 8m0-8l-8 8M556 510l8 8m0-8l-8 8M556 511l8 8m0-8l-8 8M557 507l8 8m0-8l-8 8M557 510l8 8m0-8l-8 8M557 510l8 8m0-8l-8 8M557 507l8 8m0-8l-8 8M558 511l8 8m0-8l-8 8M558 510l8 8m0-8l-8 8M559 508l8 8m0-8l-8 8M559 507l8 8m0-8l-8 8M559 510l8 8m0-8l-8 8M559 507l8 8m0-8l-8 8M559 507l8 8m0-8l-8 8M560 510l8 8m0-8l-8 8M560 507l8 8m0-8l-8 8M560 510l8 8m0-8l-8 8M561 508l8 8m0-8l-8 8M561 510l8 8m0-8l-8 8M561 510l8 8m0-8l-8 8M562 510l8 8m0-8l-8 8M562 510l8 8m0-8l-8 8M562 511l8 8m0-8l-8 8M562 511l8 8m0-8l-8 8M563 510l8 8m0-8l-8 8M563 508l8 8m0-8l-8 8M564 510l8 8m0-8l-8 8M564 510l8 8m0-8l-8 8M565 511l8 8m0-8l-8 8M566 507l8 8m0-8l-8 8M566 508l8 8m0-8l-8 8M566 511l8 8m0-8l-8 8M566 507l8 8m0-8l-8 8M567 511l8 8m0-8l-8 8M567 508l8 8m0-8l-8 8M567 511l8 8m0-8l-8 8M567 507l8 8m0-8l-8 8M568 511l8 8m0-8l-8 8M568 507l8 8m0-8l-8 8M569 510l8 8m0-8l-8 8M569 507l8 8m0-8l-8 8M570 510l8 8m0-8l-8 8M570 510l8 8m0-8l-8 8M570 508l8 8m0-8l-8 8M570 508l8 8m0-8l-8 8M571 510l8 8m0-8l-8 8M571 507l8 8m0-8l-8 8M571 511l8 8m0-8l-8 8M572 507l8 8m0-8l-8 8M572 507l8 8m0-8l-8 8M572 511l8 8m0-8l-8 8M573 506l8 8m0-8l-8 8M573 512l8 8m0-8l-8 8M573 508l8 8m0-8l-8 8M573 507l8 8m0-8l-8 8M574 510l8 8m0-8l-8 8M575 508l8 8m0-8l-8 8M575 507l8 8m0-8l-8 8M575 511l8 8m0-8l-8 8M577 510l8 8m0-8l-8 8M577 511l8 8m0-8l-8 8M578 507l8 8m0-8l-8 8M579 511l8 8m0-8l-8 8M579 506l8 8m0-8l-8 8M580 507l8 8m0-8l-8 8M581 508l8 8m0-8l-8 8M581 507l8 8m0-8l-8 8M581 510l8 8m0-8l-8 8M582 508l8 8m0-8l-8 8M582 510l8 8m0-8l-8 8M582 508l8 8m0-8l-8 8M583 507l8 8m0-8l-8 8M583 507l8 8m0-8l-8 8M583 510l8 8m0-8l-8 8M584 510l8 8m0-8l-8 8M584 507l8 8m0-8l-8 8M585 512l8 8m0-8l-8 8M585 510l8 8m0-8l-8 8M585 511l8 8m0-8l-8 8M586 510l8 8m0-8l-8 8M586 510l8 8m0-8l-8 8M586 510l8 8m0-8l-8 8M587 511l8 8m0-8l-8 8M587 510l8 8m0-8l-8 8M587 510l8 8m0-8l-8 8M588 511l8 8m0-8l-8 8M588 510l8 8m0-8l-8 8M588 510l8 8m0-8l-8 8M588 507l8 8m0-8l-8 8M588 511l8 8m0-8l-8 8M589 510l8 8m0-8l-8 8M589 510l8 8m0-8l-8 8M589 511l8 8m0-8l-8 8M589 509l8 8m0-8l-8 8M589 507l8 8m0-8l-8 8M590 510l8 8m0-8l-8 8M590 506l8 8m0-8l-8 8M590 510l8 8m0-8l-8 8M590 510l8 8m0-8l-8 8M591 506l8 8m0-8l-8 8M592 505l8 8m0-8l-8 8M592 510l8 8m0-8l-8 8M592 506l8 8m0-8l-8 8M594 506l8 8m0-8l-8 8M594 510l8 8m0-8l-8 8M594 509l8 8m0-8l-8 8M594 508l8 8m0-8l-8 8M594 506l8 8m0-8l-8 8M595 509l8 8m0-8l-8 8M595 508l8 8m0-8l-8 8M595 508l8 8m0-8l-8 8M595 505l8 8m0-8l-8 8M595 509l8 8m0-8l-8 8M596 505l8 8m0-8l-8 8M597 505l8 8m0-8l-8 8M597 508l8 8m0-8l-8 8M597 508l8 8m0-8l-8 8M597 507l8 8m0-8l-8 8M597 505l8 8m0-8l-8 8M598 509l8 8m0-8l-8 8M599 505l8 8m0-8l-8 8M599 507l8 8m0-8l-8 8M599 507l8 8m0-8l-8 8M599 504l8 8m0-8l-8 8M600 507l8 8m0-8l-8 8M600 508l8 8m0-8l-8 8M602 503l8 8m0-8l-8 8M602 504l8 8m0-8l-8 8M602 506l8 8m0-8l-8 8M603 503l8 8m0-8l-8 8M603 504l8 8m0-8l-8 8M603 507l8 8m0-8l-8 8M603 503l8 8m0-8l-8 8M603 508l8 8m0-8l-8 8M604 507l8 8m0-8l-8 8M604 503l8 8m0-8l-8 8M604 507l8 8m0-8l-8 8M605 504l8 8m0-8l-8 8M606 508l8 8m0-8l-8 8M606 504l8 8m0-8l-8 8M606 504l8 8m0-8l-8 8M606 504l8 8m0-8l-8 8M607 508l8 8m0-8l-8 8M607 504l8 8m0-8l-8 8M607 504l8 8m0-8l-8 8M607 502l8 8m0-8l-8 8M608 504l8 8m0-8l-8 8M608 507l8 8m0-8l-8 8M609 506l8 8m0-8l-8 8M609 508l8 8m0-8l-8 8M609 504l8 8m0-8l-8 8M610 507l8 8m0-8l-8 8M610 507l8 8m0-8l-8 8M610 504l8 8m0-8l-8 8M611 504l8 8m0-8l-8 8M611 504l8 8m0-8l-8 8M612 507l8 8m0-8l-8 8M612 507l8 8m0-8l-8 8M612 504l8 8m0-8l-8 8M612 504l8 8m0-8l-8 8M613 507l8 8m0-8l-8 8M613 509l8 8m0-8l-8 8M614 507l8 8m0-8l-8 8M614 507l8 8m0-8l-8 8M614 507l8 8m0-8l-8 8M615 503l8 8m0-8l-8 8M616 504l8 8m0-8l-8 8M616 503l8 8m0-8l-8 8M617 507l8 8m0-8l-8 8M617 504l8 8m0-8l-8 8M617 507l8 8m0-8l-8 8M617 504l8 8m0-8l-8 8M617 504l8 8m0-8l-8 8M618 504l8 8m0-8l-8 8M618 507l8 8m0-8l-8 8M619 504l8 8m0-8l-8 8M619 504l8 8m0-8l-8 8M620 505l8 8m0-8l-8 8M620 507l8 8m0-8l-8 8M621 504l8 8m0-8l-8 8M621 507l8 8m0-8l-8 8M621 503l8 8m0-8l-8 8M621 507l8 8m0-8l-8 8M621 507l8 8m0-8l-8 8M622 508l8 8m0-8l-8 8M622 507l8 8m0-8l-8 8M622 509l8 8m0-8l-8 8M625 508l8 8m0-8l-8 8M625 505l8 8m0-8l-8 8M626 503l8 8m0-8l-8 8M626 503l8 8m0-8l-8 8M626 504l8 8m0-8l-8 8M627 508l8 8m0-8l-8 8M628 504l8 8m0-8l-8 8M628 507l8 8m0-8l-8 8M629 508l8 8m0-8l-8 8M629 507l8 8m0-8l-8 8M630 505l8 8m0-8l-8 8M630 504l8 8m0-8l-8 8M631 504l8 8m0-8l-8 8M631 507l8 8m0-8l-8 8M631 508l8 8m0-8l-8 8M631 508l8 8m0-8l-8 8M632 505l8 8m0-8l-8 8M632 504l8 8m0-8l-8 8M633 508l8 8m0-8l-8 8M633 505l8 8m0-8l-8 8M634 504l8 8m0-8l-8 8M634 505l8 8m0-8l-8 8M634 503l8 8m0-8l-8 8M635 507l8 8m0-8l-8 8M635 508l8 8m0-8l-8 8M635 504l8 8m0-8l-8 8M636 504l8 8m0-8l-8 8M636 508l8 8m0-8l-8 8M637 504l8 8m0-8l-8 8M637 508l8 8m0-8l-8 8M638 505l8 8m0-8l-8 8M638 505l8 8m0-8l-8 8M638 507l8 8m0-8l-8 8M638 507l8 8m0-8l-8 8M639 505l8 8m0-8l-8 8M639 504l8 8m0-8l-8 8M640 504l8 8m0-8l-8 8M640 507l8 8m0-8l-8 8M640 505l8 8m0-8l-8 8M640 505l8 8m0-8l-8 8M641 507l8 8m0-8l-8 8M642 504l8 8m0-8l-8 8M642 505l8 8m0-8l-8 8M643 505l8 8m0-8l-8 8M644 508l8 8m0-8l-8 8M644 505l8 8m0-8l-8 8M644 508l8 8m0-8l-8 8M646 504l8 8m0-8l-8 8M646 508l8 8m0-8l-8 8M646 508l8 8m0-8l-8 8M647 505l8 8m0-8l-8 8M647 505l8 8m0-8l-8 8M648 508l8 8m0-8l-8 8M648 507l8 8m0-8l-8 8M648 503l8 8m0-8l-8 8M649 504l8 8m0-8l-8 8M650 508l8 8m0-8l-8 8M650 508l8 8m0-8l-8 8M650 504l8 8m0-8l-8 8M651 504l8 8m0-8l-8 8M651 503l8 8m0-8l-8 8M651 504l8 8m0-8l-8 8M651 507l8 8m0-8l-8 8M652 505l8 8m0-8l-8 8M653 504l8 8m0-8l-8 8M654 504l8 8m0-8l-8 8M654 503l8 8m0-8l-8 8M655 507l8 8m0-8l-8 8M655 504l8 8m0-8l-8 8M655 508l8 8m0-8l-8 8M655 507l8 8m0-8l-8 8M655 507l8 8m0-8l-8 8M656 504l8 8m0-8l-8 8M656 504l8 8m0-8l-8 8M656 504l8 8m0-8l-8 8M657 504l8 8m0-8l-8 8M657 504l8 8m0-8l-8 8M658 507l8 8m0-8l-8 8M658 507l8 8m0-8l-8 8M658 504l8 8m0-8l-8 8M659 507l8 8m0-8l-8 8M659 507l8 8m0-8l-8 8M660 508l8 8m0-8l-8 8M660 508l8 8m0-8l-8 8M660 507l8 8m0-8l-8 8M660 508l8 8m0-8l-8 8M662 504l8 8m0-8l-8 8M662 505l8 8m0-8l-8 8M663 508l8 8m0-8l-8 8M663 504l8 8m0-8l-8 8M663 501l8 8m0-8l-8 8M663 503l8 8m0-8l-8 8M664 508l8 8m0-8l-8 8M664 505l8 8m0-8l-8 8M665 507l8 8m0-8l-8 8M665 505l8 8m0-8l-8 8M666 507l8 8m0-8l-8 8M666 504l8 8m0-8l-8 8M666 503l8 8m0-8l-8 8M666 505l8 8m0-8l-8 8M667 508l8 8m0-8l-8 8M667 503l8 8m0-8l-8 8M667 507l8 8m0-8l-8 8M668 507l8 8m0-8l-8 8M668 507l8 8m0-8l-8 8M668 505l8 8m0-8l-8 8M669 503l8 8m0-8l-8 8M669 504l8 8m0-8l-8 8M670 508l8 8m0-8l-8 8M670 504l8 8m0-8l-8 8M670 509l8 8m0-8l-8 8M670 503l8 8m0-8l-8 8M670 505l8 8m0-8l-8 8M671 503l8 8m0-8l-8 8M671 508l8 8m0-8l-8 8M672 504l8 8m0-8l-8 8M672 508l8 8m0-8l-8 8M672 508l8 8m0-8l-8 8M672 507l8 8m0-8l-8 8M672 507l8 8m0-8l-8 8M672 507l8 8m0-8l-8 8M673 508l8 8m0-8l-8 8M674 508l8 8m0-8l-8 8M674 503l8 8m0-8l-8 8M675 504l8 8m0-8l-8 8M676 507l8 8m0-8l-8 8M676 504l8 8m0-8l-8 8M676 504l8 8m0-8l-8 8M677 507l8 8m0-8l-8 8M677 507l8 8m0-8l-8 8M678 507l8 8m0-8l-8 8M678 507l8 8m0-8l-8 8M679 507l8 8m0-8l-8 8M679 507l8 8m0-8l-8 8M679 505l8 8m0-8l-8 8M679 507l8 8m0-8l-8 8M679 508l8 8m0-8l-8 8M680 504l8 8m0-8l-8 8M680 504l8 8m0-8l-8 8M681 509l8 8m0-8l-8 8M681 504l8 8m0-8l-8 8M682 504l8 8m0-8l-8 8M682 507l8 8m0-8l-8 8M683 504l8 8m0-8l-8 8M683 508l8 8m0-8l-8 8M683 504l8 8m0-8l-8 8M684 504l8 8m0-8l-8 8M684 507l8 8m0-8l-8 8M685 508l8 8m0-8l-8 8M685 504l8 8m0-8l-8 8M686 503l8 8m0-8l-8 8M686 504l8 8m0-8l-8 8M687 504l8 8m0-8l-8 8M687 505l8 8m0-8l-8 8M687 503l8 8m0-8l-8 8M688 504l8 8m0-8l-8 8M688 504l8 8m0-8l-8 8M688 507l8 8m0-8l-8 8M688 503l8 8m0-8l-8 8M689 507l8 8m0-8l-8 8M689 507l8 8m0-8l-8 8M689 503l8 8m0-8l-8 8M690 507l8 8m0-8l-8 8M690 504l8 8m0-8l-8 8M690 507l8 8m0-8l-8 8M691 504l8 8m0-8l-8 8M691 504l8 8m0-8l-8 8M691 508l8 8m0-8l-8 8M692 507l8 8m0-8l-8 8M693 503l8 8m0-8l-8 8M693 504l8 8m0-8l-8 8M694 507l8 8m0-8l-8 8M694 507l8 8m0-8l-8 8M695 508l8 8m0-8l-8 8M696 504l8 8m0-8l-8 8M696 509l8 8m0-8l-8 8M696 507l8 8m0-8l-8 8M696 507l8 8m0-8l-8 8M696 507l8 8m0-8l-8 8M697 504l8 8m0-8l-8 8M697 505l8 8m0-8l-8 8M697 507l8 8m0-8l-8 8M697 504l8 8m0-8l-8 8M699 504l8 8m0-8l-8 8M699 507l8 8m0-8l-8 8M699 505l8 8m0-8l-8 8M699 507l8 8m0-8l-8 8M699 507l8 8m0-8l-8 8M700 508l8 8m0-8l-8 8M700 507l8 8m0-8l-8 8M700 507l8 8m0-8l-8 8M700 504l8 8m0-8l-8 8M700 505l8 8m0-8l-8 8M701 504l8 8m0-8l-8 8M702 505l8 8m0-8l-8 8M702 504l8 8m0-8l-8 8M703 508l8 8m0-8l-8 8M703 509l8 8m0-8l-8 8M704 504l8 8m0-8l-8 8M705 507l8 8m0-8l-8 8M705 504l8 8m0-8l-8 8M705 507l8 8m0-8l-8 8M706 507l8 8m0-8l-8 8M706 504l8 8m0-8l-8 8M707 508l8 8m0-8l-8 8M707 507l8 8m0-8l-8 8M708 505l8 8m0-8l-8 8M708 505l8 8m0-8l-8 8M709 507l8 8m0-8l-8 8M710 503l8 8m0-8l-8 8M710 508l8 8m0-8l-8 8M710 505l8 8m0-8l-8 8M711 508l8 8m0-8l-8 8M712 507l8 8m0-8l-8 8M712 508l8 8m0-8l-8 8M713 507l8 8m0-8l-8 8M713 508l8 8m0-8l-8 8M714 507l8 8m0-8l-8 8M714 504l8 8m0-8l-8 8M715 508l8 8m0-8l-8 8M715 508l8 8m0-8l-8 8M715 505l8 8m0-8l-8 8M715 504l8 8m0-8l-8 8M715 508l8 8m0-8l-8 8M716 507l8 8m0-8l-8 8M716 505l8 8m0-8l-8 8M716 507l8 8m0-8l-8 8M716 505l8 8m0-8l-8 8M717 508l8 8m0-8l-8 8M717 507l8 8m0-8l-8 8M717 507l8 8m0-8l-8 8M718 507l8 8m0-8l-8 8M718 504l8 8m0-8l-8 8M718 508l8 8m0-8l-8 8M719 508l8 8m0-8l-8 8M719 508l8 8m0-8l-8 8M719 505l8 8m0-8l-8 8M719 507l8 8m0-8l-8 8M719 508l8 8m0-8l-8 8M719 507l8 8m0-8l-8 8M719 507l8 8m0-8l-8 8M720 504l8 8m0-8l-8 8M720 508l8 8m0-8l-8 8M720 507l8 8m0-8l-8 8M720 505l8 8m0-8l-8 8M720 505l8 8m0-8l-8 8M721 510l8 8m0-8l-8 8M721 507l8 8m0-8l-8 8M722 504l8 8m0-8l-8 8M722 503l8 8m0-8l-8 8M723 505l8 8m0-8l-8 8M724 505l8 8m0-8l-8 8M724 508l8 8m0-8l-8 8M724 508l8 8m0-8l-8 8M725 507l8 8m0-8l-8 8M725 507l8 8m0-8l-8 8M725 508l8 8m0-8l-8 8M726 508l8 8m0-8l-8 8M726 508l8 8m0-8l-8 8M726 504l8 8m0-8l-8 8M726 507l8 8m0-8l-8 8M726 508l8 8m0-8l-8 8M726 505l8 8m0-8l-8 8M727 505l8 8m0-8l-8 8M727 505l8 8m0-8l-8 8M727 510l8 8m0-8l-8 8M729 504l8 8m0-8l-8 8M729 509l8 8m0-8l-8 8M729 505l8 8m0-8l-8 8M729 508l8 8m0-8l-8 8M729 508l8 8m0-8l-8 8M729 508l8 8m0-8l-8 8M730 507l8 8m0-8l-8 8M730 508l8 8m0-8l-8 8M730 505l8 8m0-8l-8 8M732 508l8 8m0-8l-8 8M732 505l8 8m0-8l-8 8M732 505l8 8m0-8l-8 8M733 504l8 8m0-8l-8 8M733 508l8 8m0-8l-8 8M733 507l8 8m0-8l-8 8M733 505l8 8m0-8l-8 8M733 508l8 8m0-8l-8 8M734 503l8 8m0-8l-8 8M734 508l8 8m0-8l-8 8M734 508l8 8m0-8l-8 8M735 505l8 8m0-8l-8 8M736 504l8 8m0-8l-8 8M737 503l8 8m0-8l-8 8M737 505l8 8m0-8l-8 8M737 509l8 8m0-8l-8 8M738 507l8 8m0-8l-8 8M739 505l8 8m0-8l-8 8M739 505l8 8m0-8l-8 8M741 507l8 8m0-8l-8 8M741 504l8 8m0-8l-8 8M741 508l8 8m0-8l-8 8M741 507l8 8m0-8l-8 8M742 505l8 8m0-8l-8 8M742 507l8 8m0-8l-8 8M742 505l8 8m0-8l-8 8M742 507l8 8m0-8l-8 8M743 508l8 8m0-8l-8 8M743 504l8 8m0-8l-8 8M744 504l8 8m0-8l-8 8M744 504l8 8m0-8l-8 8M744 504l8 8m0-8l-8 8M744 507l8 8m0-8l-8 8M745 507l8 8m0-8l-8 8M746 504l8 8m0-8l-8 8M747 507l8 8m0-8l-8 8M747 508l8 8m0-8l-8 8M748 504l8 8m0-8l-8 8M748 508l8 8m0-8l-8 8M748 504l8 8m0-8l-8 8M748 507l8 8m0-8l-8 8M749 505l8 8m0-8l-8 8M749 504l8 8m0-8l-8 8M750 507l8 8m0-8l-8 8M750 505l8 8m0-8l-8 8M750 507l8 8m0-8l-8 8M750 503l8 8m0-8l-8 8M750 505l8 8m0-8l-8 8M751 507l8 8m0-8l-8 8M752 508l8 8m0-8l-8 8M752 507l8 8m0-8l-8 8M753 504l8 8m0-8l-8 8M753 504l8 8m0-8l-8 8M753 504l8 8m0-8l-8 8M754 507l8 8m0-8l-8 8M755 508l8 8m0-8l-8 8M755 504l8 8m0-8l-8 8M755 503l8 8m0-8l-8 8M757 505l8 8m0-8l-8 8M757 509l8 8m0-8l-8 8M757 505l8 8m0-8l-8 8M758 505l8 8m0-8l-8 8M758 508l8 8m0-8l-8 8M759 504l8 8m0-8l-8 8M759 508l8 8m0-8l-8 8M759 504l8 8m0-8l-8 8M760 505l8 8m0-8l-8 8M760 508l8 8m0-8l-8 8M760 509l8 8m0-8l-8 8M761 505l8 8m0-8l-8 8M761 505l8 8m0-8l-8 8M761 508l8 8m0-8l-8 8M761 503l8 8m0-8l-8 8M762 509l8 8m0-8l-8 8M762 508l8 8m0-8l-8 8M763 508l8 8m0-8l-8 8M764 508l8 8m0-8l-8 8M764 508l8 8m0-8l-8 8M764 506l8 8m0-8l-8 8M765 506l8 8m0-8l-8 8M765 508l8 8m0-8l-8 8M765 508l8 8m0-8l-8 8M766 509l8 8m0-8l-8 8M766 506l8 8m0-8l-8 8M767 506l8 8m0-8l-8 8M767 504l8 8m0-8l-8 8M768 509l8 8m0-8l-8 8M768 510l8 8m0-8l-8 8M769 506l8 8m0-8l-8 8M769 510l8 8m0-8l-8 8M770 509l8 8m0-8l-8 8M770 510l8 8m0-8l-8 8M771 509l8 8m0-8l-8 8M773 509l8 8m0-8l-8 8M773 509l8 8m0-8l-8 8M774 505l8 8m0-8l-8 8M775 509l8 8m0-8l-8 8M775 511l8 8m0-8l-8 8M775 511l8 8m0-8l-8 8M775 505l8 8m0-8l-8 8M775 509l8 8m0-8l-8 8M776 506l8 8m0-8l-8 8M776 507l8 8m0-8l-8 8M776 510l8 8m0-8l-8 8M776 506l8 8m0-8l-8 8M776 509l8 8m0-8l-8 8M776 505l8 8m0-8l-8 8M777 510l8 8m0-8l-8 8M777 506l8 8m0-8l-8 8M777 509l8 8m0-8l-8 8M777 505l8 8m0-8l-8 8M777 506l8 8m0-8l-8 8M778 506l8 8m0-8l-8 8M778 505l8 8m0-8l-8 8M779 510l8 8m0-8l-8 8M779 506l8 8m0-8l-8 8M781 505l8 8m0-8l-8 8M781 506l8 8m0-8l-8 8M781 506l8 8m0-8l-8 8M781 509l8 8m0-8l-8 8M781 505l8 8m0-8l-8 8M781 506l8 8m0-8l-8 8M782 506l8 8m0-8l-8 8M782 506l8 8m0-8l-8 8M782 506l8 8m0-8l-8 8M783 510l8 8m0-8l-8 8M784 510l8 8m0-8l-8 8M784 504l8 8m0-8l-8 8M785 510l8 8m0-8l-8 8M785 509l8 8m0-8l-8 8M785 509l8 8m0-8l-8 8M785 507l8 8m0-8l-8 8M785 506l8 8m0-8l-8 8M786 509l8 8m0-8l-8 8M786 509l8 8m0-8l-8 8M787 505l8 8m0-8l-8 8M788 510l8 8m0-8l-8 8M789 509l8 8m0-8l-8 8M789 506l8 8m0-8l-8 8M790 506l8 8m0-8l-8 8M791 507l8 8m0-8l-8 8M791 506l8 8m0-8l-8 8M791 506l8 8m0-8l-8 8M792 505l8 8m0-8l-8 8M792 509l8 8m0-8l-8 8M793 505l8 8m0-8l-8 8M793 506l8 8m0-8l-8 8M794 506l8 8m0-8l-8 8M795 509l8 8m0-8l-8 8M795 505l8 8m0-8l-8 8M795 506l8 8m0-8l-8 8M796 506l8 8m0-8l-8 8M796 506l8 8m0-8l-8 8M796 509l8 8m0-8l-8 8M796 509l8 8m0-8l-8 8M797 509l8 8m0-8l-8 8M798 509l8 8m0-8l-8 8M798 510l8 8m0-8l-8 8M798 509l8 8m0-8l-8 8M798 506l8 8m0-8l-8 8M799 509l8 8m0-8l-8 8M799 509l8 8m0-8l-8 8M799 506l8 8m0-8l-8 8M800 510l8 8m0-8l-8 8M800 506l8 8m0-8l-8 8M801 512l8 8m0-8l-8 8M801 505l8 8m0-8l-8 8M802 505l8 8m0-8l-8 8M802 507l8 8m0-8l-8 8M802 510l8 8m0-8l-8 8M802 510l8 8m0-8l-8 8M803 511l8 8m0-8l-8 8M804 509l8 8m0-8l-8 8M804 506l8 8m0-8l-8 8M804 509l8 8m0-8l-8 8M805 509l8 8m0-8l-8 8M805 506l8 8m0-8l-8 8M805 506l8 8m0-8l-8 8M806 506l8 8m0-8l-8 8M806 506l8 8m0-8l-8 8M807 505l8 8m0-8l-8 8M807 506l8 8m0-8l-8 8M808 506l8 8m0-8l-8 8M808 510l8 8m0-8l-8 8M808 510l8 8m0-8l-8 8M808 510l8 8m0-8l-8 8M808 509l8 8m0-8l-8 8M809 509l8 8m0-8l-8 8M809 504l8 8m0-8l-8 8M809 509l8 8m0-8l-8 8M810 509l8 8m0-8l-8 8M810 509l8 8m0-8l-8 8M810 506l8 8m0-8l-8 8M812 505l8 8m0-8l-8 8M812 506l8 8m0-8l-8 8M812 509l8 8m0-8l-8 8M813 509l8 8m0-8l-8 8M813 509l8 8m0-8l-8 8M814 505l8 8m0-8l-8 8M814 508l8 8m0-8l-8 8M814 509l8 8m0-8l-8 8M815 509l8 8m0-8l-8 8M815 506l8 8m0-8l-8 8M815 509l8 8m0-8l-8 8M816 509l8 8m0-8l-8 8M816 508l8 8m0-8l-8 8M817 504l8 8m0-8l-8 8M818 505l8 8m0-8l-8 8M818 504l8 8m0-8l-8 8M818 505l8 8m0-8l-8 8M818 505l8 8m0-8l-8 8M818 506l8 8m0-8l-8 8M819 508l8 8m0-8l-8 8M819 504l8 8m0-8l-8 8M819 506l8 8m0-8l-8 8M819 511l8 8m0-8l-8 8M820 505l8 8m0-8l-8 8M820 505l8 8m0-8l-8 8M820 506l8 8m0-8l-8 8M821 510l8 8m0-8l-8 8M821 505l8 8m0-8l-8 8M822 505l8 8m0-8l-8 8M823 506l8 8m0-8l-8 8M823 505l8 8m0-8l-8 8M824 509l8 8m0-8l-8 8M824 510l8 8m0-8l-8 8M825 509l8 8m0-8l-8 8M825 504l8 8m0-8l-8 8M825 509l8 8m0-8l-8 8M826 509l8 8m0-8l-8 8M827 508l8 8m0-8l-8 8M828 508l8 8m0-8l-8 8M828 505l8 8m0-8l-8 8M828 505l8 8m0-8l-8 8M829 508l8 8m0-8l-8 8M829 506l8 8m0-8l-8 8M830 509l8 8m0-8l-8 8M830 508l8 8m0-8l-8 8M830 506l8 8m0-8l-8 8M830 509l8 8m0-8l-8 8M831 505l8 8m0-8l-8 8M831 505l8 8m0-8l-8 8M832 505l8 8m0-8l-8 8M832 508l8 8m0-8l-8 8M832 505l8 8m0-8l-8 8M833 505l8 8m0-8l-8 8M834 505l8 8m0-8l-8 8M835 505l8 8m0-8l-8 8M835 509l8 8m0-8l-8 8M837 509l8 8m0-8l-8 8M837 505l8 8m0-8l-8 8M837 506l8 8m0-8l-8 8M838 508l8 8m0-8l-8 8M838 506l8 8m0-8l-8 8M839 505l8 8m0-8l-8 8M839 508l8 8m0-8l-8 8M840 504l8 8m0-8l-8 8M840 505l8 8m0-8l-8 8M840 505l8 8m0-8l-8 8M840 508l8 8m0-8l-8 8M841 508l8 8m0-8l-8 8M841 508l8 8m0-8l-8 8M842 509l8 8m0-8l-8 8M842 508l8 8m0-8l-8 8M842 506l8 8m0-8l-8 8M842 508l8 8m0-8l-8 8M844 506l8 8m0-8l-8 8M845 508l8 8m0-8l-8 8M846 509l8 8m0-8l-8 8M846 506l8 8m0-8l-8 8M846 510l8 8m0-8l-8 8M847 506l8 8m0-8l-8 8M847 505l8 8m0-8l-8 8M848 505l8 8m0-8l-8 8M848 509l8 8m0-8l-8 8M848 509l8 8m0-8l-8 8M849 509l8 8m0-8l-8 8M849 509l8 8m0-8l-8 8M850 509l8 8m0-8l-8 8M850 510l8 8m0-8l-8 8M850 505l8 8m0-8l-8 8M851 509l8 8m0-8l-8 8M851 506l8 8m0-8l-8 8M851 506l8 8m0-8l-8 8M851 509l8 8m0-8l-8 8M852 506l8 8m0-8l-8 8M852 509l8 8m0-8l-8 8M853 506l8 8m0-8l-8 8M853 510l8 8m0-8l-8 8M853 510l8 8m0-8l-8 8M854 506l8 8m0-8l-8 8M854 510l8 8m0-8l-8 8M854 506l8 8m0-8l-8 8M856 506l8 8m0-8l-8 8M856 509l8 8m0-8l-8 8M857 507l8 8m0-8l-8 8M857 509l8 8m0-8l-8 8M859 511l8 8m0-8l-8 8M859 509l8 8m0-8l-8 8M859 506l8 8m0-8l-8 8M859 507l8 8m0-8l-8 8M859 507l8 8m0-8l-8 8M860 510l8 8m0-8l-8 8M860 507l8 8m0-8l-8 8M861 506l8 8m0-8l-8 8M861 507l8 8m0-8l-8 8M861 509l8 8m0-8l-8 8M862 507l8 8m0-8l-8 8M862 510l8 8m0-8l-8 8M863 509l8 8m0-8l-8 8M864 507l8 8m0-8l-8 8M864 510l8 8m0-8l-8 8M865 510l8 8m0-8l-8 8M866 510l8 8m0-8l-8 8M866 509l8 8m0-8l-8 8M866 509l8 8m0-8l-8 8M866 507l8 8m0-8l-8 8M866 507l8 8m0-8l-8 8M867 507l8 8m0-8l-8 8M868 510l8 8m0-8l-8 8M868 507l8 8m0-8l-8 8M869 509l8 8m0-8l-8 8M869 510l8 8m0-8l-8 8M869 506l8 8m0-8l-8 8M869 506l8 8m0-8l-8 8M870 511l8 8m0-8l-8 8M870 510l8 8m0-8l-8 8M870 507l8 8m0-8l-8 8M870 509l8 8m0-8l-8 8M871 507l8 8m0-8l-8 8M871 510l8 8m0-8l-8 8M872 509l8 8m0-8l-8 8M872 506l8 8m0-8l-8 8M873 506l8 8m0-8l-8 8M873 510l8 8m0-8l-8 8M873 510l8 8m0-8l-8 8M873 511l8 8m0-8l-8 8M874 507l8 8m0-8l-8 8M874 507l8 8m0-8l-8 8M875 510l8 8m0-8l-8 8M875 510l8 8m0-8l-8 8M875 510l8 8m0-8l-8 8M875 506l8 8m0-8l-8 8M876 510l8 8m0-8l-8 8M876 506l8 8m0-8l-8 8M877 509l8 8m0-8l-8 8M877 509l8 8m0-8l-8 8M878 509l8 8m0-8l-8 8M879 510l8 8m0-8l-8 8M880 509l8 8m0-8l-8 8M880 510l8 8m0-8l-8 8M880 510l8 8m0-8l-8 8M881 509l8 8m0-8l-8 8M881 506l8 8m0-8l-8 8M881 507l8 8m0-8l-8 8M881 510l8 8m0-8l-8 8M881 509l8 8m0-8l-8 8M882 505l8 8m0-8l-8 8M882 505l8 8m0-8l-8 8M882 506l8 8m0-8l-8 8M882 510l8 8m0-8l-8 8M882 507l8 8m0-8l-8 8M883 509l8 8m0-8l-8 8M883 511l8 8m0-8l-8 8M884 509l8 8m0-8l-8 8M884 509l8 8m0-8l-8 8M885 506l8 8m0-8l-8 8M885 509l8 8m0-8l-8 8M885 510l8 8m0-8l-8 8M885 509l8 8m0-8l-8 8M885 509l8 8m0-8l-8 8M886 509l8 8m0-8l-8 8M886 510l8 8m0-8l-8 8M886 505l8 8m0-8l-8 8M886 506l8 8m0-8l-8 8M886 507l8 8m0-8l-8 8M886 504l8 8m0-8l-8 8M887 507l8 8m0-8l-8 8M888 510l8 8m0-8l-8 8M888 506l8 8m0-8l-8 8M889 506l8 8m0-8l-8 8M889 510l8 8m0-8l-8 8M889 505l8 8m0-8l-8 8M890 507l8 8m0-8l-8 8M891 510l8 8m0-8l-8 8M891 505l8 8m0-8l-8 8M892 505l8 8m0-8l-8 8M892 506l8 8m0-8l-8 8M892 509l8 8m0-8l-8 8M893 509l8 8m0-8l-8 8M893 507l8 8m0-8l-8 8M893 508l8 8m0-8l-8 8M893 506l8 8m0-8l-8 8M893 506l8 8m0-8l-8 8M893 507l8 8m0-8l-8 8M893 507l8 8m0-8l-8 8M893 510l8 8m0-8l-8 8M893 507l8 8m0-8l-8 8M893 509l8 8m0-8l-8 8M893 509l8 8m0-8l-8 8M894 507l8 8m0-8l-8 8M894 508l8 8m0-8l-8 8M894 510l8 8m0-8l-8 8M894 506l8 8m0-8l-8 8M894 508l8 8m0-8l-8 8M894 507l8 8m0-8l-8 8M894 507l8 8m0-8l-8 8M894 506l8 8m0-8l-8 8M894 506l8 8m0-8l-8 8M894 509l8 8m0-8l-8 8M894 509l8 8m0-8l-8 8M895 508l8 8m0-8l-8 8M895 507l8 8m0-8l-8 8M895 510l8 8m0-8l-8 8M895 506l8 8m0-8l-8 8M895 510l8 8m0-8l-8 8M895 507l8 8m0-8l-8 8M895 507l8 8m0-8l-8 8M895 508l8 8m0-8l-8 8M895 511l8 8m0-8l-8 8M895 508l8 8m0-8l-8 8M896 507l8 8m0-8l-8 8M896 508l8 8m0-8l-8 8M896 507l8 8m0-8l-8 8M896 507l8 8m0-8l-8 8M896 505l8 8m0-8l-8 8M896 509l8 8m0-8l-8 8M896 506l8 8m0-8l-8 8M896 508l8 8m0-8l-8 8M896 507l8 8m0-8l-8 8M896 509l8 8m0-8l-8 8M896 506l8 8m0-8l-8 8M897 508l8 8m0-8l-8 8M897 508l8 8m0-8l-8 8M897 507l8 8m0-8l-8 8M897 508l8 8m0-8l-8 8M897 509l8 8m0-8l-8 8M897 509l8 8m0-8l-8 8M897 507l8 8m0-8l-8 8M897 508l8 8m0-8l-8 8M897 509l8 8m0-8l-8 8M897 507l8 8m0-8l-8 8M898 509l8 8m0-8l-8 8M898 508l8 8m0-8l-8 8M898 510l8 8m0-8l-8 8M898 507l8 8m0-8l-8 8M898 507l8 8m0-8l-8 8M898 508l8 8m0-8l-8 8M898 505l8 8m0-8l-8 8M898 509l8 8m0-8l-8 8M898 508l8 8m0-8l-8 8M898 507l8 8m0-8l-8 8M898 509l8 8m0-8l-8 8M899 507l8 8m0-8l-8 8M899 505l8 8m0-8l-8 8M899 510l8 8m0-8l-8 8M899 508l8 8m0-8l-8 8M899 506l8 8m0-8l-8 8M899 509l8 8m0-8l-8 8M899 505l8 8m0-8l-8 8M899 507l8 8m0-8l-8 8M899 505l8 8m0-8l-8 8M899 505l8 8m0-8l-8 8M900 507l8 8m0-8l-8 8M138 496l8 8m0-8l-8 8M723 502l8 8m0-8l-8 8M604 502l8 8m0-8l-8 8" stroke="#0f0" stroke-width="1" fill="none"/><path d="M129.5 530.9 134.4 531.5 139.2 531.4 144.1 530.1 149 530.5 153.8 531.3 158.7 530.9 163.6 532.1 168.4 531.6 173.3 530.7 178.2 531.6 183 531 187.9 531.8 192.8 531.2 197.7 531.6 202.5 531 207.4 531.6 212.3 532.4 217.1 531.3 222 532.8 226.9 531.8 231.7 533.3 236.6 531.5 241.5 533.3 246.3 532.3 251.2 531.7 256.1 533.2 260.9 533 265.8 532.3 270.7 533.8 275.5 533.6 280.4 532.6 285.3 533.3 290.1 533.6 295 533.3 299.9 533 304.7 534.2 309.6 534 314.5 534.7 319.3 533.6 324.2 533.8 329.1 534.8 334 535 338.8 534.9 343.7 535.1 348.6 535.4 353.4 534.7 358.3 534.9 363.2 535.6 368 534.5 372.9 535.9 377.8 535.9 382.6 535.5 387.5 535 392.4 536.2 397.2 535.4 402.1 534.9 407 535.6 411.8 535 416.7 536.5 421.6 536.9 426.4 537.1 431.3 536.3 436.2 535.6 441 536.6 445.9 536 450.8 537 455.7 537.4 460.5 537.8 465.4 537.1 470.3 536.5 475.1 538.1 480 538.1 484.9 536.7 489.7 537.2 494.6 536.7 499.5 537.8 504.3 538.2 509.2 538 514.1 537.9 518.9 538.1 523.8 538.1 528.7 537.8 533.5 537.4 538.4 537.1 543.3 537.4 548.1 537.8 553 537.2 557.9 536 562.7 536.4 567.6 536.3 572.5 537.1 577.3 536 582.2 537.4 587.1 536.9 592 536 596.8 536.2 601.7 535.9 606.6 535 611.4 534.9 616.3 535.1 621.2 534.6 626 534.5 630.9 535.1 635.8 535.4 640.6 535.9 645.5 535.5 650.4 535.6 655.2 536 660.1 535.9 665 536.5 669.8 535.9 674.7 535.1 679.6 536.4 684.4 536.3 689.3 535.8 694.2 535.6 699 536 703.9 535.8 708.8 534.6 713.7 536.4 718.5 535.4 723.4 536.5 728.3 536.1 733.1 536.3 738 535.2 742.9 534.6 747.7 535.1 752.6 535.7 757.5 534.6 762.3 535.7 767.2 536.1 772.1 535.2 776.9 535.2 781.8 535.2 786.7 535.5 791.5 535.2 796.4 534.7 801.3 534.8 806.1 535.3 811 536.3 815.9 535.8 820.7 536.3 825.6 534.7 830.5 534.5 835.3 535.6 840.2 536.2 845.1 536 850 536.3 854.8 535.4 859.7 535.4 864.6 535.4 869.4 535.2 874.3 535 879.2 535.5 884 536.4 888.9 535.2 893.8 536.2 898.6 534.7 903.5 534.9 903.5 559 898.6 560.1 893.8 560.2 888.9 560.2 884 559.2 879.2 559.8 874.3 559.8 869.4 560.5 864.6 558.7 859.7 560.2 854.8 559.8 850 559 845.1 560.4 840.2 560.1 835.3 559.7 830.5 558.7 825.6 558.7 820.7 558.7 815.9 560.1 811 559 806.1 559.6 801.3 558.7 796.4 560.3 791.5 558.9 786.7 558.5 781.8 559.6 776.9 560 772.1 559.9 767.2 559.9 762.3 559.3 757.5 558.7 752.6 558.5 747.7 558.9 742.9 559.1 738 559.6 733.1 560.4 728.3 558.7 723.4 558.6 718.5 560.3 713.7 558.9 708.8 558.9 703.9 559.8 699 560.2 694.2 559.7 689.3 560.1 684.4 559.4 679.6 558.7 674.7 559.5 669.8 560.3 665 559.1 660.1 560.2 655.2 559.4 650.4 559.9 645.5 559.5 640.6 558.9 635.8 559 630.9 558.9 626 559.9 621.2 560.4 616.3 559.4 611.4 559.4 606.6 560 601.7 560.2 596.8 560.9 592 560.9 587.1 559.8 582.2 560.5 577.3 561.1 572.5 559.8 567.6 559.9 562.7 559.8 557.9 560.4 553 561.5 548.1 561.4 543.3 560.1 538.4 561.5 533.5 561.6 528.7 562 523.8 561.8 518.9 560.3 514.1 560.4 509.2 560.8 504.3 561.5 499.5 562.2 494.6 561.5 489.7 560.9 484.9 560.7 480 561.9 475.1 560.9 470.3 561.4 465.4 561.5 460.5 561.8 455.7 561.8 450.8 561.5 445.9 560.1 441 560.3 436.2 559.9 431.3 560.1 426.4 559.7 421.6 559.8 416.7 559.4 411.8 559.8 407 558.9 402.1 560.7 397.2 558.7 392.4 559.3 387.5 559.6 382.6 559.5 377.8 560 372.9 558.7 368 558.6 363.2 558.5 358.3 558.5 353.4 559.5 348.6 557.8 343.7 558.2 338.8 558.2 334 557.9 329.1 557.2 324.2 557.9 319.3 557 314.5 557.2 309.6 557.1 304.7 556.9 299.9 556.7 295 557.3 290.1 557.9 285.3 556.6 280.4 557.7 275.5 557 270.7 556.5 265.8 557.5 260.9 557.3 256.1 556.6 251.2 556.6 246.3 555.7 241.5 555.7 236.6 556.7 231.7 556.6 226.9 555.9 222 556.2 217.1 556 212.3 555 207.4 555.5 202.5 556.1 197.7 555.9 192.8 554.7 187.9 554.7 183 555.5 178.2 555.6 173.3 556 168.4 555.3 163.6 554.9 158.7 554.6 153.8 555.5 149 554 144.1 554.2 139.2 555.1 134.4 555.5 129.5 555.5 Z" fill="#00f"/><path d="M130 538a6 6 0 1 0 .1 0M130 538a6 6 0 1 0 .1 0M130 538a6 6 0 1 0 .1 0M130 541a6 6 0 1 0 .1 0M130 534a6 6 0 1 0 .1 0M130 535a6 6 0 1 0 .1 0M130 528a6 6 0 1 0 .1 0M130 535a6 6 0 1 0 .1 0M130 543a6 6 0 1 0 .1 0M130 530a6 6 0 1 0 .1 0M130 539a6 6 0 1 0 .1 0M131 532a6 6 0 1 0 .1 0M131 534a6 6 0 1 0 .1 0M131 536a6 6 0 1 0 .1 0M131 541a6 6 0 1 0 .1 0M131 535a6 6 0 1 0 .1 0M131 546a6 6 0 1 0 .1 0M131 537a6 6 0 1 0 .1 0M131 536a6 6 0 1 0 .1 0M131 530a6 6 0 1 0 .1 0M131 536a6 6 0 1 0 .1 0M131 538a6 6 0 1 0 .1 0M132 533a6 6 0 1 0 .1 0M132 534a6 6 0 1 0 .1 0M132 530a6 6 0 1 0 .1 0M132 534a6 6 0 1 0 .1 0M132 531a6 6 0 1 0 .1 0M132 543a6 6 0 1 0 .1 0M132 546a6 6 0 1 0 .1 0M132 528a6 6 0 1 0 .1 0M132 542a6 6 0 1 0 .1 0M132 537a6 6 0 1 0 .1 0M133 536a6 6 0 1 0 .1 0M133 532a6 6 0 1 0 .1 0M133 536a6 6 0 1 0 .1 0M133 534a6 6 0 1 0 .1 0M133 522a6 6 0 1 0 .1 0M133 536a6 6 0 1 0 .1 0M133 535a6 6 0 1 0 .1 0M133 537a6 6 0 1 0 .1 0M133 534a6 6 0 1 0 .1 0M133 535a6 6 0 1 0 .1 0M133 528a6 6 0 1 0 .1 0M134 535a6 6 0 1 0 .1 0M134 544a6 6 0 1 0 .1 0M134 535a6 6 0 1 0 .1 0M134 535a6 6 0 1 0 .1 0M134 532a6 6 0 1 0 .1 0M134 533a6 6 0 1 0 .1 0M134 532a6 6 0 1 0 .1 0M134 533a6 6 0 1 0 .1 0M134 539a6 6 0 1 0 .1 0M134 535a6 6 0 1 0 .1 0M135 536a6 6 0 1 0 .1 0M135 536a6 6 0 1 0 .1 0M135 531a6 6 0 1 0 .1 0M135 533a6 6 0 1 0 .1 0M135 543a6 6 0 1 0 .1 0M135 536a6 6 0 1 0 .1 0M135 532a6 6 0 1 0 .1 0M135 534a6 6 0 1 0 .1 0M135 536a6 6 0 1 0 .1 0M135 545a6 6 0 1 0 .1 0M135 539a6 6 0 1 0 .1 0M136 535a6 6 0 1 0 .1 0M136 544a6 6 0 1 0 .1 0M136 531a6 6 0 1 0 .1 0M136 541a6 6 0 1 0 .1 0M136 537a6 6 0 1 0 .1 0M136 535a6 6 0 1 0 .1 0M136 539a6 6 0 1 0 .1 0M136 541a6 6 0 1 0 .1 0M136 537a6 6 0 1 0 .1 0M136 537a6 6 0 1 0 .1 0M136 535a6 6 0 1 0 .1 0M137 545a6 6 0 1 0 .1 0M137 543a6 6 0 1 0 .1 0M138 543a6 6 0 1 0 .1 0M138 532a6 6 0 1 0 .1 0M138 530a6 6 0 1 0 .1 0M138 541a6 6 0 1 0 .1 0M139 530a6 6 0 1 0 .1 0M139 532a6 6 0 1 0 .1 0M139 532a6 6 0 1 0 .1 0M140 545a6 6 0 1 0 .1 0M141 532a6 6 0 1 0 .1 0M141 532a6 6 0 1 0 .1 0M141 530a6 6 0 1 0 .1 0M141 529a6 6 0 1 0 .1 0M142 529a6 6 0 1 0 .1 0M142 527a6 6 0 1 0 .1 0M142 547a6 6 0 1 0 .1 0M142 543a6 6 0 1 0 .1 0M143 529a6 6 0 1 0 .1 0M143 543a6 6 0 1 0 .1 0M143 529a6 6 0 1 0 .1 0M145 533a6 6 0 1 0 .1 0M145 543a6 6 0 1 0 .1 0M145 530a6 6 0 1 0 .1 0M145 546a6 6 0 1 0 .1 0M146 547a6 6 0 1 0 .1 0M146 550a6 6 0 1 0 .1 0M146 544a6 6 0 1 0 .1 0M146 533a6 6 0 1 0 .1 0M146 548a6 6 0 1 0 .1 0M147 543a6 6 0 1 0 .1 0M148 529a6 6 0 1 0 .1 0M148 527a6 6 0 1 0 .1 0M148 547a6 6 0 1 0 .1 0M148 533a6 6 0 1 0 .1 0M148 549a6 6 0 1 0 .1 0M149 532a6 6 0 1 0 .1 0M149 532a6 6 0 1 0 .1 0M149 531a6 6 0 1 0 .1 0M150 547a6 6 0 1 0 .1 0M150 545a6 6 0 1 0 .1 0M150 534a6 6 0 1 0 .1 0M151 547a6 6 0 1 0 .1 0M151 544a6 6 0 1 0 .1 0M151 547a6 6 0 1 0 .1 0M151 534a6 6 0 1 0 .1 0M152 532a6 6 0 1 0 .1 0M152 551a6 6 0 1 0 .1 0M152 533a6 6 0 1 0 .1 0M152 532a6 6 0 1 0 .1 0M152 546a6 6 0 1 0 .1 0M153 543a6 6 0 1 0 .1 0M153 545a6 6 0 1 0 .1 0M153 532a6 6 0 1 0 .1 0M153 552a6 6 0 1 0 .1 0M154 534a6 6 0 1 0 .1 0M154 555a6 6 0 1 0 .1 0M154 543a6 6 0 1 0 .1 0M154 546a6 6 0 1 0 .1 0M154 529a6 6 0 1 0 .1 0M155 543a6 6 0 1 0 .1 0M155 534a6 6 0 1 0 .1 0M155 548a6 6 0 1 0 .1 0M156 532a6 6 0 1 0 .1 0M156 549a6 6 0 1 0 .1 0M156 529a6 6 0 1 0 .1 0M157 532a6 6 0 1 0 .1 0M157 533a6 6 0 1 0 .1 0M157 533a6 6 0 1 0 .1 0M158 533a6 6 0 1 0 .1 0M158 533a6 6 0 1 0 .1 0M158 543a6 6 0 1 0 .1 0M158 532a6 6 0 1 0 .1 0M158 545a6 6 0 1 0 .1 0M159 544a6 6 0 1 0 .1 0M159 533a6 6 0 1 0 .1 0M159 533a6 6 0 1 0 .1 0M160 531a6 6 0 1 0 .1 0M160 544a6 6 0 1 0 .1 0M160 545a6 6 0 1 0 .1 0M161 545a6 6 0 1 0 .1 0M161 545a6 6 0 1 0 .1 0M161 545a6 6 0 1 0 .1 0M161 532a6 6 0 1 0 .1 0M162 527a6 6 0 1 0 .1 0M162 547a6 6 0 1 0 .1 0M162 529a6 6 0 1 0 .1 0M162 532a6 6 0 1 0 .1 0M162 531a6 6 0 1 0 .1 0M162 530a6 6 0 1 0 .1 0M163 549a6 6 0 1 0 .1 0M163 532a6 6 0 1 0 .1 0M163 544a6 6 0 1 0 .1 0M164 532a6 6 0 1 0 .1 0M164 543a6 6 0 1 0 .1 0M164 532a6 6 0 1 0 .1 0M164 528a6 6 0 1 0 .1 0M164 543a6 6 0 1 0 .1 0M165 533a6 6 0 1 0 .1 0M165 532a6 6 0 1 0 .1 0M165 542a6 6 0 1 0 .1 0M165 554a6 6 0 1 0 .1 0M165 544a6 6 0 1 0 .1 0M166 543a6 6 0 1 0 .1 0M166 527a6 6 0 1 0 .1 0M166 546a6 6 0 1 0 .1 0M167 544a6 6 0 1 0 .1 0M167 527a6 6 0 1 0 .1 0M167 529a6 6 0 1 0 .1 0M167 532a6 6 0 1 0 .1 0M167 532a6 6 0 1 0 .1 0M168 543a6 6 0 1 0 .1 0M168 541a6 6 0 1 0 .1 0M168 544a6 6 0 1 0 .1 0M168 530a6 6 0 1 0 .1 0M168 550a6 6 0 1 0 .1 0M169 543a6 6 0 1 0 .1 0M169 547a6 6 0 1 0 .1 0M169 543a6 6 0 1 0 .1 0M169 530a6 6 0 1 0 .1 0M169 542a6 6 0 1 0 .1 0M170 530a6 6 0 1 0 .1 0M170 543a6 6 0 1 0 .1 0M170 546a6 6 0 1 0 .1 0M170 542a6 6 0 1 0 .1 0M170 531a6 6 0 1 0 .1 0M171 531a6 6 0 1 0 .1 0M171 531a6 6 0 1 0 .1 0M171 541a6 6 0 1 0 .1 0M171 546a6 6 0 1 0 .1 0M172 544a6 6 0 1 0 .1 0M172 541a6 6 0 1 0 .1 0M172 529a6 6 0 1 0 .1 0M173 540a6 6 0 1 0 .1 0M173 544a6 6 0 1 0 .1 0M174 531a6 6 0 1 0 .1 0M174 529a6 6 0 1 0 .1 0M174 529a6 6 0 1 0 .1 0M174 527a6 6 0 1 0 .1 0M174 525a6 6 0 1 0 .1 0M175 527a6 6 0 1 0 .1 0M175 549a6 6 0 1 0 .1 0M175 531a6 6 0 1 0 .1 0M176 541a6 6 0 1 0 .1 0M176 543a6 6 0 1 0 .1 0M176 541a6 6 0 1 0 .1 0M176 541a6 6 0 1 0 .1 0M177 541a6 6 0 1 0 .1 0M177 544a6 6 0 1 0 .1 0M177 531a6 6 0 1 0 .1 0M178 540a6 6 0 1 0 .1 0M178 531a6 6 0 1 0 .1 0M178 543a6 6 0 1 0 .1 0M178 544a6 6 0 1 0 .1 0M179 531a6 6 0 1 0 .1 0M179 541a6 6 0 1 0 .1 0M179 544a6 6 0 1 0 .1 0M180 530a6 6 0 1 0 .1 0M180 529a6 6 0 1 0 .1 0M180 531a6 6 0 1 0 .1 0M180 541a6 6 0 1 0 .1 0M181 545a6 6 0 1 0 .1 0M181 544a6 6 0 1 0 .1 0M181 530a6 6 0 1 0 .1 0M181 543a6 6 0 1 0 .1 0M181 527a6 6 0 1 0 .1 0M182 531a6 6 0 1 0 .1 0M182 529a6 6 0 1 0 .1 0M182 530a6 6 0 1 0 .1 0M182 540a6 6 0 1 0 .1 0M182 542a6 6 0 1 0 .1 0M182 545a6 6 0 1 0 .1 0M183 529a6 6 0 1 0 .1 0M184 542a6 6 0 1 0 .1 0M184 530a6 6 0 1 0 .1 0M184 544a6 6 0 1 0 .1 0M184 541a6 6 0 1 0 .1 0M185 551a6 6 0 1 0 .1 0M185 545a6 6 0 1 0 .1 0M186 545a6 6 0 1 0 .1 0M186 530a6 6 0 1 0 .1 0M187 529a6 6 0 1 0 .1 0M187 531a6 6 0 1 0 .1 0M187 532a6 6 0 1 0 .1 0M188 541a6 6 0 1 0 .1 0M188 531a6 6 0 1 0 .1 0M188 544a6 6 0 1 0 .1 0M189 531a6 6 0 1 0 .1 0M189 544a6 6 0 1 0 .1 0M189 531a6 6 0 1 0 .1 0M189 545a6 6 0 1 0 .1 0M190 528a6 6 0 1 0 .1 0M190 548a6 6 0 1 0 .1 0M190 530a6 6 0 1 0 .1 0M190 532a6 6 0 1 0 .1 0M190 547a6 6 0 1 0 .1 0M191 533a6 6 0 1 0 .1 0M191 554a6 6 0 1 0 .1 0M192 544a6 6 0 1 0 .1 0M192 532a6 6 0 1 0 .1 0M192 543a6 6 0 1 0 .1 0M192 531a6 6 0 1 0 .1 0M192 545a6 6 0 1 0 .1 0M193 545a6 6 0 1 0 .1 0M193 533a6 6 0 1 0 .1 0M193 532a6 6 0 1 0 .1 0M193 532a6 6 0 1 0 .1 0M193 543a6 6 0 1 0 .1 0M193 532a6 6 0 1 0 .1 0M194 546a6 6 0 1 0 .1 0M194 545a6 6 0 1 0 .1 0M194 533a6 6 0 1 0 .1 0M195 530a6 6 0 1 0 .1 0M195 546a6 6 0 1 0 .1 0M195 531a6 6 0 1 0 .1 0M195 544a6 6 0 1 0 .1 0M195 549a6 6 0 1 0 .1 0M195 531a6 6 0 1 0 .1 0M196 547a6 6 0 1 0 .1 0M196 532a6 6 0 1 0 .1 0M196 544a6 6 0 1 0 .1 0M196 551a6 6 0 1 0 .1 0M197 531a6 6 0 1 0 .1 0M197 544a6 6 0 1 0 .1 0M197 529a6 6 0 1 0 .1 0M197 534a6 6 0 1 0 .1 0M198 543a6 6 0 1 0 .1 0M198 553a6 6 0 1 0 .1 0M198 543a6 6 0 1 0 .1 0M198 544a6 6 0 1 0 .1 0M198 551a6 6 0 1 0 .1 0M199 543a6 6 0 1 0 .1 0M199 545a6 6 0 1 0 .1 0M199 531a6 6 0 1 0 .1 0M199 544a6 6 0 1 0 .1 0M200 545a6 6 0 1 0 .1 0M200 530a6 6 0 1 0 .1 0M200 532a6 6 0 1 0 .1 0M201 534a6 6 0 1 0 .1 0M201 548a6 6 0 1 0 .1 0M201 533a6 6 0 1 0 .1 0M201 543a6 6 0 1 0 .1 0M202 532a6 6 0 1 0 .1 0M202 532a6 6 0 1 0 .1 0M202 533a6 6 0 1 0 .1 0M202 550a6 6 0 1 0 .1 0M202 548a6 6 0 1 0 .1 0M203 545a6 6 0 1 0 .1 0M203 533a6 6 0 1 0 .1 0M203 544a6 6 0 1 0 .1 0M203 552a6 6 0 1 0 .1 0M203 545a6 6 0 1 0 .1 0M204 529a6 6 0 1 0 .1 0M204 526a6 6 0 1 0 .1 0M204 532a6 6 0 1 0 .1 0M205 545a6 6 0 1 0 .1 0M205 543a6 6 0 1 0 .1 0M205 534a6 6 0 1 0 .1 0M205 534a6 6 0 1 0 .1 0M205 543a6 6 0 1 0 .1 0M205 545a6 6 0 1 0 .1 0M206 546a6 6 0 1 0 .1 0M206 534a6 6 0 1 0 .1 0M206 533a6 6 0 1 0 .1 0M206 545a6 6 0 1 0 .1 0M206 548a6 6 0 1 0 .1 0M207 534a6 6 0 1 0 .1 0M207 544a6 6 0 1 0 .1 0M207 531a6 6 0 1 0 .1 0M207 545a6 6 0 1 0 .1 0M207 548a6 6 0 1 0 .1 0M208 548a6 6 0 1 0 .1 0M208 533a6 6 0 1 0 .1 0M208 544a6 6 0 1 0 .1 0M208 543a6 6 0 1 0 .1 0M208 530a6 6 0 1 0 .1 0M208 534a6 6 0 1 0 .1 0M209 555a6 6 0 1 0 .1 0M210 532a6 6 0 1 0 .1 0M210 544a6 6 0 1 0 .1 0M210 531a6 6 0 1 0 .1 0M212 546a6 6 0 1 0 .1 0M213 528a6 6 0 1 0 .1 0M213 546a6 6 0 1 0 .1 0M213 533a6 6 0 1 0 .1 0M214 533a6 6 0 1 0 .1 0M214 544a6 6 0 1 0 .1 0M214 544a6 6 0 1 0 .1 0M214 531a6 6 0 1 0 .1 0M215 531a6 6 0 1 0 .1 0M216 532a6 6 0 1 0 .1 0M216 550a6 6 0 1 0 .1 0M216 533a6 6 0 1 0 .1 0M216 545a6 6 0 1 0 .1 0M217 547a6 6 0 1 0 .1 0M217 543a6 6 0 1 0 .1 0M217 546a6 6 0 1 0 .1 0M218 548a6 6 0 1 0 .1 0M218 546a6 6 0 1 0 .1 0M218 550a6 6 0 1 0 .1 0M219 547a6 6 0 1 0 .1 0M219 543a6 6 0 1 0 .1 0M220 533a6 6 0 1 0 .1 0M220 549a6 6 0 1 0 .1 0M220 532a6 6 0 1 0 .1 0M220 542a6 6 0 1 0 .1 0M221 542a6 6 0 1 0 .1 0M221 543a6 6 0 1 0 .1 0M221 534a6 6 0 1 0 .1 0M221 533a6 6 0 1 0 .1 0M221 533a6 6 0 1 0 .1 0M222 543a6 6 0 1 0 .1 0M222 545a6 6 0 1 0 .1 0M223 547a6 6 0 1 0 .1 0M223 551a6 6 0 1 0 .1 0M223 531a6 6 0 1 0 .1 0M223 529a6 6 0 1 0 .1 0M224 542a6 6 0 1 0 .1 0M224 532a6 6 0 1 0 .1 0M224 546a6 6 0 1 0 .1 0M224 532a6 6 0 1 0 .1 0M225 532a6 6 0 1 0 .1 0M225 533a6 6 0 1 0 .1 0M226 533a6 6 0 1 0 .1 0M226 548a6 6 0 1 0 .1 0M226 542a6 6 0 1 0 .1 0M226 544a6 6 0 1 0 .1 0M227 543a6 6 0 1 0 .1 0M227 544a6 6 0 1 0 .1 0M227 533a6 6 0 1 0 .1 0M227 534a6 6 0 1 0 .1 0M227 544a6 6 0 1 0 .1 0M227 545a6 6 0 1 0 .1 0M228 530a6 6 0 1 0 .1 0M228 532a6 6 0 1 0 .1 0M228 533a6 6 0 1 0 .1 0M228 547a6 6 0 1 0 .1 0M228 532a6 6 0 1 0 .1 0M229 544a6 6 0 1 0 .1 0M229 545a6 6 0 1 0 .1 0M229 543a6 6 0 1 0 .1 0M229 532a6 6 0 1 0 .1 0M229 532a6 6 0 1 0 .1 0M230 543a6 6 0 1 0 .1 0M230 533a6 6 0 1 0 .1 0M230 543a6 6 0 1 0 .1 0M230 533a6 6 0 1 0 .1 0M231 545a6 6 0 1 0 .1 0M231 544a6 6 0 1 0 .1 0M231 531a6 6 0 1 0 .1 0M231 534a6 6 0 1 0 .1 0M232 543a6 6 0 1 0 .1 0M232 551a6 6 0 1 0 .1 0M232 544a6 6 0 1 0 .1 0M233 532a6 6 0 1 0 .1 0M233 534a6 6 0 1 0 .1 0M233 547a6 6 0 1 0 .1 0M233 543a6 6 0 1 0 .1 0M234 531a6 6 0 1 0 .1 0M234 545a6 6 0 1 0 .1 0M234 533a6 6 0 1 0 .1 0M235 533a6 6 0 1 0 .1 0M235 532a6 6 0 1 0 .1 0M236 544a6 6 0 1 0 .1 0M236 533a6 6 0 1 0 .1 0M236 533a6 6 0 1 0 .1 0M236 551a6 6 0 1 0 .1 0M237 543a6 6 0 1 0 .1 0M237 532a6 6 0 1 0 .1 0M237 533a6 6 0 1 0 .1 0M237 532a6 6 0 1 0 .1 0M237 533a6 6 0 1 0 .1 0M237 544a6 6 0 1 0 .1 0M237 546a6 6 0 1 0 .1 0M237 546a6 6 0 1 0 .1 0M238 544a6 6 0 1 0 .1 0M239 532a6 6 0 1 0 .1 0M239 545a6 6 0 1 0 .1 0M239 543a6 6 0 1 0 .1 0M239 531a6 6 0 1 0 .1 0M240 531a6 6 0 1 0 .1 0M240 544a6 6 0 1 0 .1 0M240 544a6 6 0 1 0 .1 0M241 543a6 6 0 1 0 .1 0M241 533a6 6 0 1 0 .1 0M241 544a6 6 0 1 0 .1 0M241 543a6 6 0 1 0 .1 0M242 544a6 6 0 1 0 .1 0M242 534a6 6 0 1 0 .1 0M242 545a6 6 0 1 0 .1 0M243 531a6 6 0 1 0 .1 0M243 533a6 6 0 1 0 .1 0M243 549a6 6 0 1 0 .1 0M243 532a6 6 0 1 0 .1 0M243 530a6 6 0 1 0 .1 0M244 530a6 6 0 1 0 .1 0M244 550a6 6 0 1 0 .1 0M245 548a6 6 0 1 0 .1 0M245 546a6 6 0 1 0 .1 0M245 544a6 6 0 1 0 .1 0M245 533a6 6 0 1 0 .1 0M245 543a6 6 0 1 0 .1 0M246 550a6 6 0 1 0 .1 0M247 531a6 6 0 1 0 .1 0M247 545a6 6 0 1 0 .1 0M247 533a6 6 0 1 0 .1 0M248 544a6 6 0 1 0 .1 0M248 543a6 6 0 1 0 .1 0M248 534a6 6 0 1 0 .1 0M249 534a6 6 0 1 0 .1 0M249 532a6 6 0 1 0 .1 0M249 531a6 6 0 1 0 .1 0M250 533a6 6 0 1 0 .1 0M250 547a6 6 0 1 0 .1 0M250 544a6 6 0 1 0 .1 0M250 549a6 6 0 1 0 .1 0M251 544a6 6 0 1 0 .1 0M251 545a6 6 0 1 0 .1 0M251 544a6 6 0 1 0 .1 0M251 532a6 6 0 1 0 .1 0M251 544a6 6 0 1 0 .1 0M252 533a6 6 0 1 0 .1 0M252 543a6 6 0 1 0 .1 0M252 530a6 6 0 1 0 .1 0M253 529a6 6 0 1 0 .1 0M253 532a6 6 0 1 0 .1 0M253 546a6 6 0 1 0 .1 0M253 549a6 6 0 1 0 .1 0M254 546a6 6 0 1 0 .1 0M254 534a6 6 0 1 0 .1 0M254 544a6 6 0 1 0 .1 0M255 553a6 6 0 1 0 .1 0M255 544a6 6 0 1 0 .1 0M255 546a6 6 0 1 0 .1 0M256 533a6 6 0 1 0 .1 0M256 533a6 6 0 1 0 .1 0M256 544a6 6 0 1 0 .1 0M256 548a6 6 0 1 0 .1 0M256 534a6 6 0 1 0 .1 0M256 534a6 6 0 1 0 .1 0M256 532a6 6 0 1 0 .1 0M257 533a6 6 0 1 0 .1 0M257 544a6 6 0 1 0 .1 0M257 544a6 6 0 1 0 .1 0M258 532a6 6 0 1 0 .1 0M258 534a6 6 0 1 0 .1 0M258 546a6 6 0 1 0 .1 0M259 530a6 6 0 1 0 .1 0M259 534a6 6 0 1 0 .1 0M260 544a6 6 0 1 0 .1 0M260 549a6 6 0 1 0 .1 0M260 527a6 6 0 1 0 .1 0M260 532a6 6 0 1 0 .1 0M261 545a6 6 0 1 0 .1 0M261 534a6 6 0 1 0 .1 0M261 547a6 6 0 1 0 .1 0M261 545a6 6 0 1 0 .1 0M261 534a6 6 0 1 0 .1 0M262 533a6 6 0 1 0 .1 0M262 547a6 6 0 1 0 .1 0M262 532a6 6 0 1 0 .1 0M262 532a6 6 0 1 0 .1 0M262 548a6 6 0 1 0 .1 0M263 545a6 6 0 1 0 .1 0M263 550a6 6 0 1 0 .1 0M264 531a6 6 0 1 0 .1 0M264 535a6 6 0 1 0 .1 0M264 544a6 6 0 1 0 .1 0M265 549a6 6 0 1 0 .1 0M265 529a6 6 0 1 0 .1 0M265 534a6 6 0 1 0 .1 0M265 534a6 6 0 1 0 .1 0M266 544a6 6 0 1 0 .1 0M266 535a6 6 0 1 0 .1 0M267 534a6 6 0 1 0 .1 0M267 544a6 6 0 1 0 .1 0M268 547a6 6 0 1 0 .1 0M268 535a6 6 0 1 0 .1 0M268 545a6 6 0 1 0 .1 0M269 533a6 6 0 1 0 .1 0M269 545a6 6 0 1 0 .1 0M269 544a6 6 0 1 0 .1 0M269 530a6 6 0 1 0 .1 0M269 534a6 6 0 1 0 .1 0M270 551a6 6 0 1 0 .1 0M270 534a6 6 0 1 0 .1 0M270 544a6 6 0 1 0 .1 0M270 532a6 6 0 1 0 .1 0M270 547a6 6 0 1 0 .1 0M270 548a6 6 0 1 0 .1 0M271 549a6 6 0 1 0 .1 0M271 534a6 6 0 1 0 .1 0M271 532a6 6 0 1 0 .1 0M271 545a6 6 0 1 0 .1 0M272 533a6 6 0 1 0 .1 0M272 546a6 6 0 1 0 .1 0M272 530a6 6 0 1 0 .1 0M273 533a6 6 0 1 0 .1 0M273 535a6 6 0 1 0 .1 0M273 531a6 6 0 1 0 .1 0M274 528a6 6 0 1 0 .1 0M274 544a6 6 0 1 0 .1 0M274 535a6 6 0 1 0 .1 0M275 547a6 6 0 1 0 .1 0M275 535a6 6 0 1 0 .1 0M276 532a6 6 0 1 0 .1 0M276 545a6 6 0 1 0 .1 0M276 546a6 6 0 1 0 .1 0M277 535a6 6 0 1 0 .1 0M278 535a6 6 0 1 0 .1 0M278 549a6 6 0 1 0 .1 0M278 550a6 6 0 1 0 .1 0M279 544a6 6 0 1 0 .1 0M279 532a6 6 0 1 0 .1 0M279 533a6 6 0 1 0 .1 0M279 533a6 6 0 1 0 .1 0M279 533a6 6 0 1 0 .1 0M279 533a6 6 0 1 0 .1 0M280 530a6 6 0 1 0 .1 0M280 546a6 6 0 1 0 .1 0M280 534a6 6 0 1 0 .1 0M280 546a6 6 0 1 0 .1 0M281 534a6 6 0 1 0 .1 0M281 527a6 6 0 1 0 .1 0M282 550a6 6 0 1 0 .1 0M282 534a6 6 0 1 0 .1 0M283 546a6 6 0 1 0 .1 0M283 535a6 6 0 1 0 .1 0M283 552a6 6 0 1 0 .1 0M283 535a6 6 0 1 0 .1 0M283 534a6 6 0 1 0 .1 0M284 533a6 6 0 1 0 .1 0M284 550a6 6 0 1 0 .1 0M284 549a6 6 0 1 0 .1 0M284 552a6 6 0 1 0 .1 0M284 548a6 6 0 1 0 .1 0M285 548a6 6 0 1 0 .1 0M286 546a6 6 0 1 0 .1 0M286 535a6 6 0 1 0 .1 0M287 545a6 6 0 1 0 .1 0M287 535a6 6 0 1 0 .1 0M287 546a6 6 0 1 0 .1 0M288 547a6 6 0 1 0 .1 0M288 546a6 6 0 1 0 .1 0M288 547a6 6 0 1 0 .1 0M288 545a6 6 0 1 0 .1 0M288 550a6 6 0 1 0 .1 0M289 546a6 6 0 1 0 .1 0M289 532a6 6 0 1 0 .1 0M289 551a6 6 0 1 0 .1 0M289 547a6 6 0 1 0 .1 0M289 545a6 6 0 1 0 .1 0M289 547a6 6 0 1 0 .1 0M290 546a6 6 0 1 0 .1 0M290 533a6 6 0 1 0 .1 0M290 548a6 6 0 1 0 .1 0M291 548a6 6 0 1 0 .1 0M291 545a6 6 0 1 0 .1 0M292 548a6 6 0 1 0 .1 0M293 533a6 6 0 1 0 .1 0M293 530a6 6 0 1 0 .1 0M293 535a6 6 0 1 0 .1 0M293 532a6 6 0 1 0 .1 0M293 544a6 6 0 1 0 .1 0M293 545a6 6 0 1 0 .1 0M294 533a6 6 0 1 0 .1 0M294 535a6 6 0 1 0 .1 0M294 547a6 6 0 1 0 .1 0M294 533a6 6 0 1 0 .1 0M295 535a6 6 0 1 0 .1 0M295 534a6 6 0 1 0 .1 0M296 534a6 6 0 1 0 .1 0M296 545a6 6 0 1 0 .1 0M296 547a6 6 0 1 0 .1 0M296 545a6 6 0 1 0 .1 0M296 533a6 6 0 1 0 .1 0M297 533a6 6 0 1 0 .1 0M297 546a6 6 0 1 0 .1 0M297 535a6 6 0 1 0 .1 0M298 547a6 6 0 1 0 .1 0M298 546a6 6 0 1 0 .1 0M298 545a6 6 0 1 0 .1 0M298 549a6 6 0 1 0 .1 0M298 530a6 6 0 1 0 .1 0M299 535a6 6 0 1 0 .1 0M300 533a6 6 0 1 0 .1 0M300 549a6 6 0 1 0 .1 0M300 535a6 6 0 1 0 .1 0M300 533a6 6 0 1 0 .1 0M301 534a6 6 0 1 0 .1 0M302 534a6 6 0 1 0 .1 0M302 548a6 6 0 1 0 .1 0M302 534a6 6 0 1 0 .1 0M302 544a6 6 0 1 0 .1 0M302 535a6 6 0 1 0 .1 0M302 533a6 6 0 1 0 .1 0M302 533a6 6 0 1 0 .1 0M303 546a6 6 0 1 0 .1 0M303 546a6 6 0 1 0 .1 0M303 546a6 6 0 1 0 .1 0M304 545a6 6 0 1 0 .1 0M304 544a6 6 0 1 0 .1 0M304 535a6 6 0 1 0 .1 0M304 545a6 6 0 1 0 .1 0M304 545a6 6 0 1 0 .1 0M305 530a6 6 0 1 0 .1 0M305 535a6 6 0 1 0 .1 0M305 546a6 6 0 1 0 .1 0M305 545a6 6 0 1 0 .1 0M306 532a6 6 0 1 0 .1 0M306 535a6 6 0 1 0 .1 0M306 545a6 6 0 1 0 .1 0M306 534a6 6 0 1 0 .1 0M307 533a6 6 0 1 0 .1 0M307 550a6 6 0 1 0 .1 0M307 534a6 6 0 1 0 .1 0M307 547a6 6 0 1 0 .1 0M307 545a6 6 0 1 0 .1 0M307 534a6 6 0 1 0 .1 0M308 547a6 6 0 1 0 .1 0M308 529a6 6 0 1 0 .1 0M308 533a6 6 0 1 0 .1 0M308 528a6 6 0 1 0 .1 0M309 533a6 6 0 1 0 .1 0M310 543a6 6 0 1 0 .1 0M310 547a6 6 0 1 0 .1 0M310 534a6 6 0 1 0 .1 0M311 545a6 6 0 1 0 .1 0M311 548a6 6 0 1 0 .1 0M311 534a6 6 0 1 0 .1 0M311 545a6 6 0 1 0 .1 0M312 534a6 6 0 1 0 .1 0M312 550a6 6 0 1 0 .1 0M313 545a6 6 0 1 0 .1 0M313 530a6 6 0 1 0 .1 0M313 534a6 6 0 1 0 .1 0M313 530a6 6 0 1 0 .1 0M314 532a6 6 0 1 0 .1 0M315 546a6 6 0 1 0 .1 0M316 534a6 6 0 1 0 .1 0M316 532a6 6 0 1 0 .1 0M316 531a6 6 0 1 0 .1 0M316 534a6 6 0 1 0 .1 0M316 533a6 6 0 1 0 .1 0M316 549a6 6 0 1 0 .1 0M317 547a6 6 0 1 0 .1 0M317 532a6 6 0 1 0 .1 0M317 530a6 6 0 1 0 .1 0M317 544a6 6 0 1 0 .1 0M317 544a6 6 0 1 0 .1 0M319 533a6 6 0 1 0 .1 0M319 545a6 6 0 1 0 .1 0M319 544a6 6 0 1 0 .1 0M319 545a6 6 0 1 0 .1 0M320 530a6 6 0 1 0 .1 0M320 544a6 6 0 1 0 .1 0M320 543a6 6 0 1 0 .1 0M320 530a6 6 0 1 0 .1 0M321 546a6 6 0 1 0 .1 0M321 548a6 6 0 1 0 .1 0M321 533a6 6 0 1 0 .1 0M321 543a6 6 0 1 0 .1 0M322 532a6 6 0 1 0 .1 0M322 531a6 6 0 1 0 .1 0M323 551a6 6 0 1 0 .1 0M323 533a6 6 0 1 0 .1 0M323 544a6 6 0 1 0 .1 0M323 548a6 6 0 1 0 .1 0M323 534a6 6 0 1 0 .1 0M323 543a6 6 0 1 0 .1 0M323 533a6 6 0 1 0 .1 0M324 546a6 6 0 1 0 .1 0M324 549a6 6 0 1 0 .1 0M324 530a6 6 0 1 0 .1 0M324 544a6 6 0 1 0 .1 0M325 544a6 6 0 1 0 .1 0M325 532a6 6 0 1 0 .1 0M325 532a6 6 0 1 0 .1 0M325 529a6 6 0 1 0 .1 0M326 550a6 6 0 1 0 .1 0M326 543a6 6 0 1 0 .1 0M326 533a6 6 0 1 0 .1 0M326 548a6 6 0 1 0 .1 0M327 535a6 6 0 1 0 .1 0M327 533a6 6 0 1 0 .1 0M328 546a6 6 0 1 0 .1 0M329 535a6 6 0 1 0 .1 0M329 533a6 6 0 1 0 .1 0M329 545a6 6 0 1 0 .1 0M330 532a6 6 0 1 0 .1 0M330 534a6 6 0 1 0 .1 0M330 545a6 6 0 1 0 .1 0M330 545a6 6 0 1 0 .1 0M330 535a6 6 0 1 0 .1 0M331 534a6 6 0 1 0 .1 0M331 534a6 6 0 1 0 .1 0M331 545a6 6 0 1 0 .1 0M331 545a6 6 0 1 0 .1 0M331 550a6 6 0 1 0 .1 0M332 534a6 6 0 1 0 .1 0M332 534a6 6 0 1 0 .1 0M333 545a6 6 0 1 0 .1 0M333 535a6 6 0 1 0 .1 0M333 549a6 6 0 1 0 .1 0M333 535a6 6 0 1 0 .1 0M333 535a6 6 0 1 0 .1 0M334 550a6 6 0 1 0 .1 0M335 535a6 6 0 1 0 .1 0M335 555a6 6 0 1 0 .1 0M335 545a6 6 0 1 0 .1 0M335 534a6 6 0 1 0 .1 0M336 534a6 6 0 1 0 .1 0M336 550a6 6 0 1 0 .1 0M336 535a6 6 0 1 0 .1 0M336 546a6 6 0 1 0 .1 0M337 535a6 6 0 1 0 .1 0M337 545a6 6 0 1 0 .1 0M337 534a6 6 0 1 0 .1 0M337 530a6 6 0 1 0 .1 0M337 534a6 6 0 1 0 .1 0M338 548a6 6 0 1 0 .1 0M338 545a6 6 0 1 0 .1 0M338 535a6 6 0 1 0 .1 0M338 551a6 6 0 1 0 .1 0M338 536a6 6 0 1 0 .1 0M339 535a6 6 0 1 0 .1 0M339 548a6 6 0 1 0 .1 0M339 535a6 6 0 1 0 .1 0M339 550a6 6 0 1 0 .1 0M339 545a6 6 0 1 0 .1 0M339 534a6 6 0 1 0 .1 0M340 552a6 6 0 1 0 .1 0M340 552a6 6 0 1 0 .1 0M340 548a6 6 0 1 0 .1 0M341 535a6 6 0 1 0 .1 0M341 547a6 6 0 1 0 .1 0M342 551a6 6 0 1 0 .1 0M342 533a6 6 0 1 0 .1 0M342 551a6 6 0 1 0 .1 0M342 548a6 6 0 1 0 .1 0M342 533a6 6 0 1 0 .1 0M343 534a6 6 0 1 0 .1 0M343 548a6 6 0 1 0 .1 0M343 548a6 6 0 1 0 .1 0M343 536a6 6 0 1 0 .1 0M344 536a6 6 0 1 0 .1 0M344 546a6 6 0 1 0 .1 0M345 545a6 6 0 1 0 .1 0M345 535a6 6 0 1 0 .1 0M345 534a6 6 0 1 0 .1 0M346 536a6 6 0 1 0 .1 0M346 533a6 6 0 1 0 .1 0M346 551a6 6 0 1 0 .1 0M346 531a6 6 0 1 0 .1 0M346 545a6 6 0 1 0 .1 0M347 535a6 6 0 1 0 .1 0M347 546a6 6 0 1 0 .1 0M347 535a6 6 0 1 0 .1 0M347 536a6 6 0 1 0 .1 0M347 546a6 6 0 1 0 .1 0M348 547a6 6 0 1 0 .1 0M348 536a6 6 0 1 0 .1 0M348 550a6 6 0 1 0 .1 0M348 535a6 6 0 1 0 .1 0M348 530a6 6 0 1 0 .1 0M349 548a6 6 0 1 0 .1 0M349 550a6 6 0 1 0 .1 0M349 537a6 6 0 1 0 .1 0M350 536a6 6 0 1 0 .1 0M350 550a6 6 0 1 0 .1 0M351 535a6 6 0 1 0 .1 0M351 547a6 6 0 1 0 .1 0M351 547a6 6 0 1 0 .1 0M352 550a6 6 0 1 0 .1 0M352 535a6 6 0 1 0 .1 0M352 536a6 6 0 1 0 .1 0M352 547a6 6 0 1 0 .1 0M352 547a6 6 0 1 0 .1 0M352 553a6 6 0 1 0 .1 0M353 552a6 6 0 1 0 .1 0M353 537a6 6 0 1 0 .1 0M354 537a6 6 0 1 0 .1 0M354 537a6 6 0 1 0 .1 0M354 546a6 6 0 1 0 .1 0M354 537a6 6 0 1 0 .1 0M355 546a6 6 0 1 0 .1 0M355 549a6 6 0 1 0 .1 0M355 548a6 6 0 1 0 .1 0M356 536a6 6 0 1 0 .1 0M356 551a6 6 0 1 0 .1 0M356 535a6 6 0 1 0 .1 0M357 535a6 6 0 1 0 .1 0M357 551a6 6 0 1 0 .1 0M357 549a6 6 0 1 0 .1 0M357 537a6 6 0 1 0 .1 0M358 537a6 6 0 1 0 .1 0M358 547a6 6 0 1 0 .1 0M358 537a6 6 0 1 0 .1 0M359 532a6 6 0 1 0 .1 0M359 534a6 6 0 1 0 .1 0M359 549a6 6 0 1 0 .1 0M359 552a6 6 0 1 0 .1 0M360 533a6 6 0 1 0 .1 0M360 536a6 6 0 1 0 .1 0M361 537a6 6 0 1 0 .1 0M361 549a6 6 0 1 0 .1 0M361 549a6 6 0 1 0 .1 0M361 532a6 6 0 1 0 .1 0M362 551a6 6 0 1 0 .1 0M362 547a6 6 0 1 0 .1 0M362 550a6 6 0 1 0 .1 0M362 536a6 6 0 1 0 .1 0M363 553a6 6 0 1 0 .1 0M363 536a6 6 0 1 0 .1 0M363 537a6 6 0 1 0 .1 0M364 550a6 6 0 1 0 .1 0M364 549a6 6 0 1 0 .1 0M364 553a6 6 0 1 0 .1 0M364 535a6 6 0 1 0 .1 0M364 548a6 6 0 1 0 .1 0M365 537a6 6 0 1 0 .1 0M366 547a6 6 0 1 0 .1 0M366 537a6 6 0 1 0 .1 0M366 549a6 6 0 1 0 .1 0M366 547a6 6 0 1 0 .1 0M366 535a6 6 0 1 0 .1 0M366 550a6 6 0 1 0 .1 0M366 550a6 6 0 1 0 .1 0M367 538a6 6 0 1 0 .1 0M367 538a6 6 0 1 0 .1 0M368 550a6 6 0 1 0 .1 0M368 548a6 6 0 1 0 .1 0M368 534a6 6 0 1 0 .1 0M368 554a6 6 0 1 0 .1 0M369 533a6 6 0 1 0 .1 0M369 552a6 6 0 1 0 .1 0M369 537a6 6 0 1 0 .1 0M369 548a6 6 0 1 0 .1 0M370 538a6 6 0 1 0 .1 0M370 538a6 6 0 1 0 .1 0M370 547a6 6 0 1 0 .1 0M370 549a6 6 0 1 0 .1 0M370 537a6 6 0 1 0 .1 0M371 537a6 6 0 1 0 .1 0M371 537a6 6 0 1 0 .1 0M371 538a6 6 0 1 0 .1 0M372 537a6 6 0 1 0 .1 0M372 536a6 6 0 1 0 .1 0M373 547a6 6 0 1 0 .1 0M373 549a6 6 0 1 0 .1 0M373 537a6 6 0 1 0 .1 0M373 547a6 6 0 1 0 .1 0M374 536a6 6 0 1 0 .1 0M375 537a6 6 0 1 0 .1 0M375 537a6 6 0 1 0 .1 0M375 548a6 6 0 1 0 .1 0M376 547a6 6 0 1 0 .1 0M376 537a6 6 0 1 0 .1 0M376 537a6 6 0 1 0 .1 0M376 549a6 6 0 1 0 .1 0M376 538a6 6 0 1 0 .1 0M377 547a6 6 0 1 0 .1 0M378 554a6 6 0 1 0 .1 0M378 536a6 6 0 1 0 .1 0M378 533a6 6 0 1 0 .1 0M378 535a6 6 0 1 0 .1 0M378 535a6 6 0 1 0 .1 0M378 551a6 6 0 1 0 .1 0M379 546a6 6 0 1 0 .1 0M379 536a6 6 0 1 0 .1 0M379 534a6 6 0 1 0 .1 0M379 536a6 6 0 1 0 .1 0M379 547a6 6 0 1 0 .1 0M380 532a6 6 0 1 0 .1 0M380 548a6 6 0 1 0 .1 0M380 553a6 6 0 1 0 .1 0M380 546a6 6 0 1 0 .1 0M381 537a6 6 0 1 0 .1 0M381 549a6 6 0 1 0 .1 0M381 550a6 6 0 1 0 .1 0M381 537a6 6 0 1 0 .1 0M381 532a6 6 0 1 0 .1 0M382 534a6 6 0 1 0 .1 0M382 536a6 6 0 1 0 .1 0M382 549a6 6 0 1 0 .1 0M382 550a6 6 0 1 0 .1 0M383 547a6 6 0 1 0 .1 0M383 533a6 6 0 1 0 .1 0M383 533a6 6 0 1 0 .1 0M383 536a6 6 0 1 0 .1 0M383 549a6 6 0 1 0 .1 0M384 537a6 6 0 1 0 .1 0M384 547a6 6 0 1 0 .1 0M384 535a6 6 0 1 0 .1 0M384 537a6 6 0 1 0 .1 0M385 537a6 6 0 1 0 .1 0M385 549a6 6 0 1 0 .1 0M385 546a6 6 0 1 0 .1 0M385 547a6 6 0 1 0 .1 0M386 529a6 6 0 1 0 .1 0M386 532a6 6 0 1 0 .1 0M387 546a6 6 0 1 0 .1 0M387 535a6 6 0 1 0 .1 0M387 536a6 6 0 1 0 .1 0M387 536a6 6 0 1 0 .1 0M387 537a6 6 0 1 0 .1 0M388 537a6 6 0 1 0 .1 0M388 546a6 6 0 1 0 .1 0M388 547a6 6 0 1 0 .1 0M388 549a6 6 0 1 0 .1 0M388 546a6 6 0 1 0 .1 0M388 533a6 6 0 1 0 .1 0M389 548a6 6 0 1 0 .1 0M390 548a6 6 0 1 0 .1 0M390 550a6 6 0 1 0 .1 0M390 547a6 6 0 1 0 .1 0M391 547a6 6 0 1 0 .1 0M391 535a6 6 0 1 0 .1 0M391 537a6 6 0 1 0 .1 0M391 549a6 6 0 1 0 .1 0M392 549a6 6 0 1 0 .1 0M392 536a6 6 0 1 0 .1 0M393 537a6 6 0 1 0 .1 0M393 551a6 6 0 1 0 .1 0M394 536a6 6 0 1 0 .1 0M394 547a6 6 0 1 0 .1 0M394 548a6 6 0 1 0 .1 0M394 546a6 6 0 1 0 .1 0M394 549a6 6 0 1 0 .1 0M394 547a6 6 0 1 0 .1 0M395 549a6 6 0 1 0 .1 0M395 550a6 6 0 1 0 .1 0M395 546a6 6 0 1 0 .1 0M395 537a6 6 0 1 0 .1 0M396 546a6 6 0 1 0 .1 0M396 548a6 6 0 1 0 .1 0M396 548a6 6 0 1 0 .1 0M396 547a6 6 0 1 0 .1 0M396 546a6 6 0 1 0 .1 0M396 538a6 6 0 1 0 .1 0M397 535a6 6 0 1 0 .1 0M397 536a6 6 0 1 0 .1 0M398 536a6 6 0 1 0 .1 0M398 551a6 6 0 1 0 .1 0M398 537a6 6 0 1 0 .1 0M398 547a6 6 0 1 0 .1 0M398 537a6 6 0 1 0 .1 0M399 538a6 6 0 1 0 .1 0M399 537a6 6 0 1 0 .1 0M399 548a6 6 0 1 0 .1 0M400 548a6 6 0 1 0 .1 0M400 537a6 6 0 1 0 .1 0M400 537a6 6 0 1 0 .1 0M400 536a6 6 0 1 0 .1 0M401 549a6 6 0 1 0 .1 0M401 537a6 6 0 1 0 .1 0M402 537a6 6 0 1 0 .1 0M402 551a6 6 0 1 0 .1 0M402 535a6 6 0 1 0 .1 0M402 550a6 6 0 1 0 .1 0M402 538a6 6 0 1 0 .1 0M402 535a6 6 0 1 0 .1 0M403 538a6 6 0 1 0 .1 0M403 538a6 6 0 1 0 .1 0M403 552a6 6 0 1 0 .1 0M404 549a6 6 0 1 0 .1 0M404 535a6 6 0 1 0 .1 0M405 550a6 6 0 1 0 .1 0M405 549a6 6 0 1 0 .1 0M406 538a6 6 0 1 0 .1 0M406 555a6 6 0 1 0 .1 0M407 538a6 6 0 1 0 .1 0M407 551a6 6 0 1 0 .1 0M408 551a6 6 0 1 0 .1 0M408 548a6 6 0 1 0 .1 0M408 537a6 6 0 1 0 .1 0M408 551a6 6 0 1 0 .1 0M408 549a6 6 0 1 0 .1 0M408 549a6 6 0 1 0 .1 0M409 536a6 6 0 1 0 .1 0M409 538a6 6 0 1 0 .1 0M409 551a6 6 0 1 0 .1 0M409 535a6 6 0 1 0 .1 0M409 549a6 6 0 1 0 .1 0M410 554a6 6 0 1 0 .1 0M410 538a6 6 0 1 0 .1 0M410 536a6 6 0 1 0 .1 0M410 555a6 6 0 1 0 .1 0M410 549a6 6 0 1 0 .1 0M411 551a6 6 0 1 0 .1 0M412 539a6 6 0 1 0 .1 0M412 538a6 6 0 1 0 .1 0M412 549a6 6 0 1 0 .1 0M412 538a6 6 0 1 0 .1 0M413 551a6 6 0 1 0 .1 0M413 549a6 6 0 1 0 .1 0M413 551a6 6 0 1 0 .1 0M413 552a6 6 0 1 0 .1 0M414 551a6 6 0 1 0 .1 0M415 539a6 6 0 1 0 .1 0M415 550a6 6 0 1 0 .1 0M415 538a6 6 0 1 0 .1 0M415 549a6 6 0 1 0 .1 0M415 539a6 6 0 1 0 .1 0M415 552a6 6 0 1 0 .1 0M416 537a6 6 0 1 0 .1 0M416 537a6 6 0 1 0 .1 0M417 551a6 6 0 1 0 .1 0M417 539a6 6 0 1 0 .1 0M417 552a6 6 0 1 0 .1 0M418 554a6 6 0 1 0 .1 0M418 539a6 6 0 1 0 .1 0M418 548a6 6 0 1 0 .1 0M418 538a6 6 0 1 0 .1 0M418 553a6 6 0 1 0 .1 0M418 538a6 6 0 1 0 .1 0M419 550a6 6 0 1 0 .1 0M420 550a6 6 0 1 0 .1 0M420 550a6 6 0 1 0 .1 0M421 537a6 6 0 1 0 .1 0M421 539a6 6 0 1 0 .1 0M421 539a6 6 0 1 0 .1 0M422 550a6 6 0 1 0 .1 0M422 551a6 6 0 1 0 .1 0M422 554a6 6 0 1 0 .1 0M422 548a6 6 0 1 0 .1 0M423 549a6 6 0 1 0 .1 0M423 551a6 6 0 1 0 .1 0M423 539a6 6 0 1 0 .1 0M423 549a6 6 0 1 0 .1 0M423 552a6 6 0 1 0 .1 0M424 553a6 6 0 1 0 .1 0M424 554a6 6 0 1 0 .1 0M424 550a6 6 0 1 0 .1 0M425 539a6 6 0 1 0 .1 0M425 552a6 6 0 1 0 .1 0M425 539a6 6 0 1 0 .1 0M425 551a6 6 0 1 0 .1 0M425 555a6 6 0 1 0 .1 0M426 552a6 6 0 1 0 .1 0M426 539a6 6 0 1 0 .1 0M426 554a6 6 0 1 0 .1 0M426 552a6 6 0 1 0 .1 0M427 539a6 6 0 1 0 .1 0M427 537a6 6 0 1 0 .1 0M428 550a6 6 0 1 0 .1 0M428 538a6 6 0 1 0 .1 0M428 550a6 6 0 1 0 .1 0M428 536a6 6 0 1 0 .1 0M428 537a6 6 0 1 0 .1 0M428 535a6 6 0 1 0 .1 0M429 535a6 6 0 1 0 .1 0M429 539a6 6 0 1 0 .1 0M430 540a6 6 0 1 0 .1 0M430 538a6 6 0 1 0 .1 0M431 551a6 6 0 1 0 .1 0M431 550a6 6 0 1 0 .1 0M431 540a6 6 0 1 0 .1 0M431 537a6 6 0 1 0 .1 0M432 539a6 6 0 1 0 .1 0M432 551a6 6 0 1 0 .1 0M432 550a6 6 0 1 0 .1 0M433 552a6 6 0 1 0 .1 0M433 555a6 6 0 1 0 .1 0M433 537a6 6 0 1 0 .1 0M433 549a6 6 0 1 0 .1 0M433 536a6 6 0 1 0 .1 0M434 549a6 6 0 1 0 .1 0M434 538a6 6 0 1 0 .1 0M434 539a6 6 0 1 0 .1 0M434 538a6 6 0 1 0 .1 0M434 552a6 6 0 1 0 .1 0M435 557a6 6 0 1 0 .1 0M435 550a6 6 0 1 0 .1 0M435 551a6 6 0 1 0 .1 0M436 538a6 6 0 1 0 .1 0M436 539a6 6 0 1 0 .1 0M436 536a6 6 0 1 0 .1 0M436 556a6 6 0 1 0 .1 0M437 556a6 6 0 1 0 .1 0M437 539a6 6 0 1 0 .1 0M437 537a6 6 0 1 0 .1 0M438 551a6 6 0 1 0 .1 0M438 535a6 6 0 1 0 .1 0M439 537a6 6 0 1 0 .1 0M439 538a6 6 0 1 0 .1 0M439 552a6 6 0 1 0 .1 0M439 535a6 6 0 1 0 .1 0M439 540a6 6 0 1 0 .1 0M440 554a6 6 0 1 0 .1 0M440 551a6 6 0 1 0 .1 0M440 534a6 6 0 1 0 .1 0M440 555a6 6 0 1 0 .1 0M441 553a6 6 0 1 0 .1 0M441 556a6 6 0 1 0 .1 0M441 535a6 6 0 1 0 .1 0M441 539a6 6 0 1 0 .1 0M442 551a6 6 0 1 0 .1 0M443 553a6 6 0 1 0 .1 0M443 551a6 6 0 1 0 .1 0M444 555a6 6 0 1 0 .1 0M444 537a6 6 0 1 0 .1 0M444 539a6 6 0 1 0 .1 0M444 538a6 6 0 1 0 .1 0M445 539a6 6 0 1 0 .1 0M445 550a6 6 0 1 0 .1 0M445 537a6 6 0 1 0 .1 0M445 537a6 6 0 1 0 .1 0M445 539a6 6 0 1 0 .1 0M446 539a6 6 0 1 0 .1 0M446 537a6 6 0 1 0 .1 0M446 552a6 6 0 1 0 .1 0M446 540a6 6 0 1 0 .1 0M446 550a6 6 0 1 0 .1 0M446 549a6 6 0 1 0 .1 0M446 551a6 6 0 1 0 .1 0M446 549a6 6 0 1 0 .1 0M447 536a6 6 0 1 0 .1 0M447 539a6 6 0 1 0 .1 0M447 549a6 6 0 1 0 .1 0M447 539a6 6 0 1 0 .1 0M447 549a6 6 0 1 0 .1 0M447 540a6 6 0 1 0 .1 0M447 536a6 6 0 1 0 .1 0M448 555a6 6 0 1 0 .1 0M448 538a6 6 0 1 0 .1 0M448 548a6 6 0 1 0 .1 0M448 534a6 6 0 1 0 .1 0M449 552a6 6 0 1 0 .1 0M449 538a6 6 0 1 0 .1 0M449 536a6 6 0 1 0 .1 0M450 538a6 6 0 1 0 .1 0M450 552a6 6 0 1 0 .1 0M450 533a6 6 0 1 0 .1 0M450 534a6 6 0 1 0 .1 0M450 538a6 6 0 1 0 .1 0M450 552a6 6 0 1 0 .1 0M451 539a6 6 0 1 0 .1 0M451 539a6 6 0 1 0 .1 0M452 536a6 6 0 1 0 .1 0M452 550a6 6 0 1 0 .1 0M452 549a6 6 0 1 0 .1 0M452 552a6 6 0 1 0 .1 0M452 551a6 6 0 1 0 .1 0M453 556a6 6 0 1 0 .1 0M453 548a6 6 0 1 0 .1 0M454 539a6 6 0 1 0 .1 0M454 538a6 6 0 1 0 .1 0M454 549a6 6 0 1 0 .1 0M454 549a6 6 0 1 0 .1 0M455 550a6 6 0 1 0 .1 0M455 550a6 6 0 1 0 .1 0M456 549a6 6 0 1 0 .1 0M456 548a6 6 0 1 0 .1 0M457 539a6 6 0 1 0 .1 0M457 550a6 6 0 1 0 .1 0M457 539a6 6 0 1 0 .1 0M457 548a6 6 0 1 0 .1 0M458 549a6 6 0 1 0 .1 0M458 550a6 6 0 1 0 .1 0M458 549a6 6 0 1 0 .1 0M459 549a6 6 0 1 0 .1 0M459 534a6 6 0 1 0 .1 0M460 549a6 6 0 1 0 .1 0M460 548a6 6 0 1 0 .1 0M460 533a6 6 0 1 0 .1 0M461 550a6 6 0 1 0 .1 0M461 551a6 6 0 1 0 .1 0M461 538a6 6 0 1 0 .1 0M462 539a6 6 0 1 0 .1 0M462 537a6 6 0 1 0 .1 0M462 536a6 6 0 1 0 .1 0M463 536a6 6 0 1 0 .1 0M463 550a6 6 0 1 0 .1 0M463 537a6 6 0 1 0 .1 0M464 550a6 6 0 1 0 .1 0M464 538a6 6 0 1 0 .1 0M464 548a6 6 0 1 0 .1 0M465 539a6 6 0 1 0 .1 0M465 549a6 6 0 1 0 .1 0M465 535a6 6 0 1 0 .1 0M465 554a6 6 0 1 0 .1 0M465 549a6 6 0 1 0 .1 0M466 539a6 6 0 1 0 .1 0M466 534a6 6 0 1 0 .1 0M466 550a6 6 0 1 0 .1 0M466 537a6 6 0 1 0 .1 0M466 555a6 6 0 1 0 .1 0M467 534a6 6 0 1 0 .1 0M467 539a6 6 0 1 0 .1 0M467 556a6 6 0 1 0 .1 0M468 537a6 6 0 1 0 .1 0M468 538a6 6 0 1 0 .1 0M468 539a6 6 0 1 0 .1 0M468 551a6 6 0 1 0 .1 0M468 538a6 6 0 1 0 .1 0M468 551a6 6 0 1 0 .1 0M469 539a6 6 0 1 0 .1 0M469 548a6 6 0 1 0 .1 0M469 538a6 6 0 1 0 .1 0M469 539a6 6 0 1 0 .1 0M470 550a6 6 0 1 0 .1 0M470 538a6 6 0 1 0 .1 0M470 537a6 6 0 1 0 .1 0M471 538a6 6 0 1 0 .1 0M471 550a6 6 0 1 0 .1 0M471 550a6 6 0 1 0 .1 0M471 549a6 6 0 1 0 .1 0M472 547a6 6 0 1 0 .1 0M473 535a6 6 0 1 0 .1 0M473 549a6 6 0 1 0 .1 0M473 551a6 6 0 1 0 .1 0M473 554a6 6 0 1 0 .1 0M474 529a6 6 0 1 0 .1 0M474 548a6 6 0 1 0 .1 0M475 549a6 6 0 1 0 .1 0M475 552a6 6 0 1 0 .1 0M476 550a6 6 0 1 0 .1 0M476 537a6 6 0 1 0 .1 0M477 537a6 6 0 1 0 .1 0M477 538a6 6 0 1 0 .1 0M477 548a6 6 0 1 0 .1 0M477 536a6 6 0 1 0 .1 0M477 538a6 6 0 1 0 .1 0M478 537a6 6 0 1 0 .1 0M478 537a6 6 0 1 0 .1 0M478 548a6 6 0 1 0 .1 0M479 548a6 6 0 1 0 .1 0M479 531a6 6 0 1 0 .1 0M479 550a6 6 0 1 0 .1 0M479 537a6 6 0 1 0 .1 0M479 548a6 6 0 1 0 .1 0M480 549a6 6 0 1 0 .1 0M480 547a6 6 0 1 0 .1 0M480 547a6 6 0 1 0 .1 0M481 546a6 6 0 1 0 .1 0M481 547a6 6 0 1 0 .1 0M481 537a6 6 0 1 0 .1 0M481 547a6 6 0 1 0 .1 0M482 537a6 6 0 1 0 .1 0M482 550a6 6 0 1 0 .1 0M482 536a6 6 0 1 0 .1 0M482 537a6 6 0 1 0 .1 0M482 547a6 6 0 1 0 .1 0M483 533a6 6 0 1 0 .1 0M483 537a6 6 0 1 0 .1 0M483 536a6 6 0 1 0 .1 0M483 536a6 6 0 1 0 .1 0M483 537a6 6 0 1 0 .1 0M483 537a6 6 0 1 0 .1 0M483 531a6 6 0 1 0 .1 0M483 534a6 6 0 1 0 .1 0M483 549a6 6 0 1 0 .1 0M484 536a6 6 0 1 0 .1 0M484 537a6 6 0 1 0 .1 0M484 549a6 6 0 1 0 .1 0M484 546a6 6 0 1 0 .1 0M485 537a6 6 0 1 0 .1 0M485 536a6 6 0 1 0 .1 0M486 548a6 6 0 1 0 .1 0M486 552a6 6 0 1 0 .1 0M486 546a6 6 0 1 0 .1 0M486 553a6 6 0 1 0 .1 0M486 553a6 6 0 1 0 .1 0M487 548a6 6 0 1 0 .1 0M487 536a6 6 0 1 0 .1 0M487 536a6 6 0 1 0 .1 0M487 533a6 6 0 1 0 .1 0M488 534a6 6 0 1 0 .1 0M488 547a6 6 0 1 0 .1 0M488 547a6 6 0 1 0 .1 0M488 533a6 6 0 1 0 .1 0M489 534a6 6 0 1 0 .1 0M490 547a6 6 0 1 0 .1 0M490 554a6 6 0 1 0 .1 0M490 536a6 6 0 1 0 .1 0M490 553a6 6 0 1 0 .1 0M491 551a6 6 0 1 0 .1 0M491 547a6 6 0 1 0 .1 0M492 535a6 6 0 1 0 .1 0M492 536a6 6 0 1 0 .1 0M492 549a6 6 0 1 0 .1 0M493 537a6 6 0 1 0 .1 0M494 553a6 6 0 1 0 .1 0M494 550a6 6 0 1 0 .1 0M495 538a6 6 0 1 0 .1 0M495 548a6 6 0 1 0 .1 0M495 536a6 6 0 1 0 .1 0M496 547a6 6 0 1 0 .1 0M496 533a6 6 0 1 0 .1 0M496 549a6 6 0 1 0 .1 0M497 549a6 6 0 1 0 .1 0M497 534a6 6 0 1 0 .1 0M497 550a6 6 0 1 0 .1 0M497 538a6 6 0 1 0 .1 0M498 557a6 6 0 1 0 .1 0M498 548a6 6 0 1 0 .1 0M498 549a6 6 0 1 0 .1 0M499 539a6 6 0 1 0 .1 0M499 538a6 6 0 1 0 .1 0M499 550a6 6 0 1 0 .1 0M499 549a6 6 0 1 0 .1 0M500 550a6 6 0 1 0 .1 0M501 530a6 6 0 1 0 .1 0M501 538a6 6 0 1 0 .1 0M501 539a6 6 0 1 0 .1 0M501 537a6 6 0 1 0 .1 0M501 548a6 6 0 1 0 .1 0M502 539a6 6 0 1 0 .1 0M502 552a6 6 0 1 0 .1 0M503 553a6 6 0 1 0 .1 0M503 553a6 6 0 1 0 .1 0M503 539a6 6 0 1 0 .1 0M503 539a6 6 0 1 0 .1 0M504 540a6 6 0 1 0 .1 0M504 540a6 6 0 1 0 .1 0M504 535a6 6 0 1 0 .1 0M504 539a6 6 0 1 0 .1 0M504 539a6 6 0 1 0 .1 0M504 556a6 6 0 1 0 .1 0M505 536a6 6 0 1 0 .1 0M505 539a6 6 0 1 0 .1 0M505 537a6 6 0 1 0 .1 0M506 549a6 6 0 1 0 .1 0M506 550a6 6 0 1 0 .1 0M506 551a6 6 0 1 0 .1 0M506 539a6 6 0 1 0 .1 0M507 551a6 6 0 1 0 .1 0M507 554a6 6 0 1 0 .1 0M507 556a6 6 0 1 0 .1 0M507 537a6 6 0 1 0 .1 0M507 540a6 6 0 1 0 .1 0M508 538a6 6 0 1 0 .1 0M508 550a6 6 0 1 0 .1 0M508 539a6 6 0 1 0 .1 0M509 549a6 6 0 1 0 .1 0M509 536a6 6 0 1 0 .1 0M509 535a6 6 0 1 0 .1 0M509 551a6 6 0 1 0 .1 0M509 553a6 6 0 1 0 .1 0M510 551a6 6 0 1 0 .1 0M511 555a6 6 0 1 0 .1 0M511 552a6 6 0 1 0 .1 0M512 539a6 6 0 1 0 .1 0M512 539a6 6 0 1 0 .1 0M512 550a6 6 0 1 0 .1 0M512 535a6 6 0 1 0 .1 0M512 538a6 6 0 1 0 .1 0M513 549a6 6 0 1 0 .1 0M513 550a6 6 0 1 0 .1 0M513 532a6 6 0 1 0 .1 0M514 549a6 6 0 1 0 .1 0M514 553a6 6 0 1 0 .1 0M514 537a6 6 0 1 0 .1 0M514 554a6 6 0 1 0 .1 0M514 539a6 6 0 1 0 .1 0M515 550a6 6 0 1 0 .1 0M515 533a6 6 0 1 0 .1 0M516 537a6 6 0 1 0 .1 0M516 538a6 6 0 1 0 .1 0M516 538a6 6 0 1 0 .1 0M516 549a6 6 0 1 0 .1 0M517 549a6 6 0 1 0 .1 0M517 552a6 6 0 1 0 .1 0M517 551a6 6 0 1 0 .1 0M517 556a6 6 0 1 0 .1 0M517 555a6 6 0 1 0 .1 0M517 539a6 6 0 1 0 .1 0M518 549a6 6 0 1 0 .1 0M518 536a6 6 0 1 0 .1 0M518 548a6 6 0 1 0 .1 0M518 539a6 6 0 1 0 .1 0M518 550a6 6 0 1 0 .1 0M519 548a6 6 0 1 0 .1 0M519 552a6 6 0 1 0 .1 0M519 539a6 6 0 1 0 .1 0M520 539a6 6 0 1 0 .1 0M520 539a6 6 0 1 0 .1 0M521 549a6 6 0 1 0 .1 0M521 548a6 6 0 1 0 .1 0M521 552a6 6 0 1 0 .1 0M521 534a6 6 0 1 0 .1 0M522 551a6 6 0 1 0 .1 0M522 538a6 6 0 1 0 .1 0M522 539a6 6 0 1 0 .1 0M522 548a6 6 0 1 0 .1 0M522 548a6 6 0 1 0 .1 0M523 550a6 6 0 1 0 .1 0M523 537a6 6 0 1 0 .1 0M523 535a6 6 0 1 0 .1 0M524 538a6 6 0 1 0 .1 0M524 538a6 6 0 1 0 .1 0M524 538a6 6 0 1 0 .1 0M525 535a6 6 0 1 0 .1 0M525 548a6 6 0 1 0 .1 0M525 548a6 6 0 1 0 .1 0M525 551a6 6 0 1 0 .1 0M525 538a6 6 0 1 0 .1 0M526 534a6 6 0 1 0 .1 0M526 547a6 6 0 1 0 .1 0M526 536a6 6 0 1 0 .1 0M527 548a6 6 0 1 0 .1 0M527 548a6 6 0 1 0 .1 0M527 538a6 6 0 1 0 .1 0M527 538a6 6 0 1 0 .1 0M527 536a6 6 0 1 0 .1 0M527 536a6 6 0 1 0 .1 0M527 549a6 6 0 1 0 .1 0M528 550a6 6 0 1 0 .1 0M528 538a6 6 0 1 0 .1 0M528 532a6 6 0 1 0 .1 0M528 552a6 6 0 1 0 .1 0M528 547a6 6 0 1 0 .1 0M528 536a6 6 0 1 0 .1 0M529 532a6 6 0 1 0 .1 0M529 537a6 6 0 1 0 .1 0M530 532a6 6 0 1 0 .1 0M530 536a6 6 0 1 0 .1 0M530 536a6 6 0 1 0 .1 0M531 547a6 6 0 1 0 .1 0M531 550a6 6 0 1 0 .1 0M531 538a6 6 0 1 0 .1 0M531 538a6 6 0 1 0 .1 0M532 557a6 6 0 1 0 .1 0M532 549a6 6 0 1 0 .1 0M532 538a6 6 0 1 0 .1 0M532 552a6 6 0 1 0 .1 0M533 550a6 6 0 1 0 .1 0M533 550a6 6 0 1 0 .1 0M533 549a6 6 0 1 0 .1 0M533 549a6 6 0 1 0 .1 0M533 550a6 6 0 1 0 .1 0M533 537a6 6 0 1 0 .1 0M534 537a6 6 0 1 0 .1 0M534 548a6 6 0 1 0 .1 0M534 535a6 6 0 1 0 .1 0M534 549a6 6 0 1 0 .1 0M535 535a6 6 0 1 0 .1 0M535 550a6 6 0 1 0 .1 0M535 538a6 6 0 1 0 .1 0M536 549a6 6 0 1 0 .1 0M536 552a6 6 0 1 0 .1 0M536 537a6 6 0 1 0 .1 0M536 550a6 6 0 1 0 .1 0M536 536a6 6 0 1 0 .1 0M537 538a6 6 0 1 0 .1 0M537 536a6 6 0 1 0 .1 0M537 535a6 6 0 1 0 .1 0M537 537a6 6 0 1 0 .1 0M538 547a6 6 0 1 0 .1 0M538 535a6 6 0 1 0 .1 0M538 550a6 6 0 1 0 .1 0M538 534a6 6 0 1 0 .1 0M539 552a6 6 0 1 0 .1 0M539 536a6 6 0 1 0 .1 0M539 531a6 6 0 1 0 .1 0M539 537a6 6 0 1 0 .1 0M539 538a6 6 0 1 0 .1 0M540 536a6 6 0 1 0 .1 0M540 551a6 6 0 1 0 .1 0M540 535a6 6 0 1 0 .1 0M541 549a6 6 0 1 0 .1 0M541 551a6 6 0 1 0 .1 0M542 548a6 6 0 1 0 .1 0M542 536a6 6 0 1 0 .1 0M542 537a6 6 0 1 0 .1 0M542 547a6 6 0 1 0 .1 0M543 550a6 6 0 1 0 .1 0M543 538a6 6 0 1 0 .1 0M543 553a6 6 0 1 0 .1 0M544 547a6 6 0 1 0 .1 0M544 538a6 6 0 1 0 .1 0M544 537a6 6 0 1 0 .1 0M544 534a6 6 0 1 0 .1 0M545 537a6 6 0 1 0 .1 0M545 537a6 6 0 1 0 .1 0M545 552a6 6 0 1 0 .1 0M546 548a6 6 0 1 0 .1 0M546 537a6 6 0 1 0 .1 0M546 549a6 6 0 1 0 .1 0M546 552a6 6 0 1 0 .1 0M547 538a6 6 0 1 0 .1 0M547 552a6 6 0 1 0 .1 0M547 538a6 6 0 1 0 .1 0M547 537a6 6 0 1 0 .1 0M548 547a6 6 0 1 0 .1 0M548 532a6 6 0 1 0 .1 0M548 538a6 6 0 1 0 .1 0M549 550a6 6 0 1 0 .1 0M549 549a6 6 0 1 0 .1 0M549 536a6 6 0 1 0 .1 0M549 551a6 6 0 1 0 .1 0M550 553a6 6 0 1 0 .1 0M550 548a6 6 0 1 0 .1 0M550 530a6 6 0 1 0 .1 0M550 534a6 6 0 1 0 .1 0M551 547a6 6 0 1 0 .1 0M551 536a6 6 0 1 0 .1 0M551 548a6 6 0 1 0 .1 0M551 536a6 6 0 1 0 .1 0M551 538a6 6 0 1 0 .1 0M552 556a6 6 0 1 0 .1 0M552 536a6 6 0 1 0 .1 0M552 537a6 6 0 1 0 .1 0M552 548a6 6 0 1 0 .1 0M552 538a6 6 0 1 0 .1 0M552 548a6 6 0 1 0 .1 0M553 533a6 6 0 1 0 .1 0M553 548a6 6 0 1 0 .1 0M553 547a6 6 0 1 0 .1 0M553 532a6 6 0 1 0 .1 0M553 537a6 6 0 1 0 .1 0M553 534a6 6 0 1 0 .1 0M553 536a6 6 0 1 0 .1 0M554 536a6 6 0 1 0 .1 0M554 554a6 6 0 1 0 .1 0M554 548a6 6 0 1 0 .1 0M554 556a6 6 0 1 0 .1 0M555 536a6 6 0 1 0 .1 0M555 548a6 6 0 1 0 .1 0M555 537a6 6 0 1 0 .1 0M555 538a6 6 0 1 0 .1 0M556 536a6 6 0 1 0 .1 0M556 536a6 6 0 1 0 .1 0M556 536a6 6 0 1 0 .1 0M556 548a6 6 0 1 0 .1 0M556 550a6 6 0 1 0 .1 0M556 555a6 6 0 1 0 .1 0M557 538a6 6 0 1 0 .1 0M557 548a6 6 0 1 0 .1 0M557 533a6 6 0 1 0 .1 0M557 552a6 6 0 1 0 .1 0M558 537a6 6 0 1 0 .1 0M558 538a6 6 0 1 0 .1 0M558 536a6 6 0 1 0 .1 0M558 553a6 6 0 1 0 .1 0M559 550a6 6 0 1 0 .1 0M559 535a6 6 0 1 0 .1 0M559 535a6 6 0 1 0 .1 0M559 548a6 6 0 1 0 .1 0M560 548a6 6 0 1 0 .1 0M560 548a6 6 0 1 0 .1 0M560 536a6 6 0 1 0 .1 0M560 548a6 6 0 1 0 .1 0M561 538a6 6 0 1 0 .1 0M561 548a6 6 0 1 0 .1 0M561 548a6 6 0 1 0 .1 0M561 538a6 6 0 1 0 .1 0M562 549a6 6 0 1 0 .1 0M563 538a6 6 0 1 0 .1 0M563 536a6 6 0 1 0 .1 0M563 537a6 6 0 1 0 .1 0M563 535a6 6 0 1 0 .1 0M563 547a6 6 0 1 0 .1 0M564 550a6 6 0 1 0 .1 0M564 535a6 6 0 1 0 .1 0M564 548a6 6 0 1 0 .1 0M564 537a6 6 0 1 0 .1 0M564 547a6 6 0 1 0 .1 0M565 551a6 6 0 1 0 .1 0M565 534a6 6 0 1 0 .1 0M565 552a6 6 0 1 0 .1 0M565 548a6 6 0 1 0 .1 0M565 528a6 6 0 1 0 .1 0M565 537a6 6 0 1 0 .1 0M566 548a6 6 0 1 0 .1 0M566 553a6 6 0 1 0 .1 0M566 538a6 6 0 1 0 .1 0M566 552a6 6 0 1 0 .1 0M567 551a6 6 0 1 0 .1 0M568 538a6 6 0 1 0 .1 0M568 550a6 6 0 1 0 .1 0M569 549a6 6 0 1 0 .1 0M569 537a6 6 0 1 0 .1 0M569 550a6 6 0 1 0 .1 0M570 550a6 6 0 1 0 .1 0M571 538a6 6 0 1 0 .1 0M571 537a6 6 0 1 0 .1 0M571 535a6 6 0 1 0 .1 0M571 536a6 6 0 1 0 .1 0M572 548a6 6 0 1 0 .1 0M572 549a6 6 0 1 0 .1 0M572 537a6 6 0 1 0 .1 0M572 536a6 6 0 1 0 .1 0M572 552a6 6 0 1 0 .1 0M573 535a6 6 0 1 0 .1 0M573 547a6 6 0 1 0 .1 0M573 538a6 6 0 1 0 .1 0M573 551a6 6 0 1 0 .1 0M573 537a6 6 0 1 0 .1 0M573 538a6 6 0 1 0 .1 0M574 548a6 6 0 1 0 .1 0M574 550a6 6 0 1 0 .1 0M574 537a6 6 0 1 0 .1 0M575 549a6 6 0 1 0 .1 0M575 548a6 6 0 1 0 .1 0M575 550a6 6 0 1 0 .1 0M575 538a6 6 0 1 0 .1 0M576 548a6 6 0 1 0 .1 0M576 538a6 6 0 1 0 .1 0M576 538a6 6 0 1 0 .1 0M576 536a6 6 0 1 0 .1 0M576 538a6 6 0 1 0 .1 0M577 553a6 6 0 1 0 .1 0M577 538a6 6 0 1 0 .1 0M577 538a6 6 0 1 0 .1 0M577 533a6 6 0 1 0 .1 0M577 538a6 6 0 1 0 .1 0M578 538a6 6 0 1 0 .1 0M578 535a6 6 0 1 0 .1 0M578 538a6 6 0 1 0 .1 0M579 534a6 6 0 1 0 .1 0M579 548a6 6 0 1 0 .1 0M579 538a6 6 0 1 0 .1 0M580 550a6 6 0 1 0 .1 0M580 550a6 6 0 1 0 .1 0M580 550a6 6 0 1 0 .1 0M581 552a6 6 0 1 0 .1 0M582 536a6 6 0 1 0 .1 0M582 534a6 6 0 1 0 .1 0M582 533a6 6 0 1 0 .1 0M582 538a6 6 0 1 0 .1 0M583 538a6 6 0 1 0 .1 0M583 538a6 6 0 1 0 .1 0M583 550a6 6 0 1 0 .1 0M583 537a6 6 0 1 0 .1 0M583 548a6 6 0 1 0 .1 0M583 537a6 6 0 1 0 .1 0M584 548a6 6 0 1 0 .1 0M584 537a6 6 0 1 0 .1 0M584 536a6 6 0 1 0 .1 0M584 549a6 6 0 1 0 .1 0M584 536a6 6 0 1 0 .1 0M585 547a6 6 0 1 0 .1 0M585 548a6 6 0 1 0 .1 0M585 531a6 6 0 1 0 .1 0M585 538a6 6 0 1 0 .1 0M586 549a6 6 0 1 0 .1 0M586 537a6 6 0 1 0 .1 0M586 557a6 6 0 1 0 .1 0M586 547a6 6 0 1 0 .1 0M586 537a6 6 0 1 0 .1 0M587 538a6 6 0 1 0 .1 0M587 537a6 6 0 1 0 .1 0M587 538a6 6 0 1 0 .1 0M587 548a6 6 0 1 0 .1 0M588 537a6 6 0 1 0 .1 0M588 550a6 6 0 1 0 .1 0M588 547a6 6 0 1 0 .1 0M588 546a6 6 0 1 0 .1 0M589 549a6 6 0 1 0 .1 0M589 536a6 6 0 1 0 .1 0M589 548a6 6 0 1 0 .1 0M589 537a6 6 0 1 0 .1 0M589 549a6 6 0 1 0 .1 0M589 536a6 6 0 1 0 .1 0M590 548a6 6 0 1 0 .1 0M590 551a6 6 0 1 0 .1 0M590 547a6 6 0 1 0 .1 0M590 537a6 6 0 1 0 .1 0M590 534a6 6 0 1 0 .1 0M590 533a6 6 0 1 0 .1 0M591 537a6 6 0 1 0 .1 0M591 535a6 6 0 1 0 .1 0M591 531a6 6 0 1 0 .1 0M591 534a6 6 0 1 0 .1 0M592 534a6 6 0 1 0 .1 0M592 533a6 6 0 1 0 .1 0M593 547a6 6 0 1 0 .1 0M593 546a6 6 0 1 0 .1 0M593 537a6 6 0 1 0 .1 0M594 536a6 6 0 1 0 .1 0M594 537a6 6 0 1 0 .1 0M594 536a6 6 0 1 0 .1 0M594 547a6 6 0 1 0 .1 0M595 549a6 6 0 1 0 .1 0M595 549a6 6 0 1 0 .1 0M595 537a6 6 0 1 0 .1 0M595 546a6 6 0 1 0 .1 0M595 536a6 6 0 1 0 .1 0M595 536a6 6 0 1 0 .1 0M596 535a6 6 0 1 0 .1 0M596 535a6 6 0 1 0 .1 0M596 535a6 6 0 1 0 .1 0M597 534a6 6 0 1 0 .1 0M597 536a6 6 0 1 0 .1 0M597 532a6 6 0 1 0 .1 0M598 549a6 6 0 1 0 .1 0M598 549a6 6 0 1 0 .1 0M598 536a6 6 0 1 0 .1 0M598 549a6 6 0 1 0 .1 0M598 536a6 6 0 1 0 .1 0M599 550a6 6 0 1 0 .1 0M599 534a6 6 0 1 0 .1 0M599 535a6 6 0 1 0 .1 0M599 550a6 6 0 1 0 .1 0M599 532a6 6 0 1 0 .1 0M600 535a6 6 0 1 0 .1 0M600 535a6 6 0 1 0 .1 0M600 546a6 6 0 1 0 .1 0M600 546a6 6 0 1 0 .1 0M600 545a6 6 0 1 0 .1 0M600 549a6 6 0 1 0 .1 0M601 545a6 6 0 1 0 .1 0M601 546a6 6 0 1 0 .1 0M601 545a6 6 0 1 0 .1 0M602 534a6 6 0 1 0 .1 0M602 536a6 6 0 1 0 .1 0M603 534a6 6 0 1 0 .1 0M604 545a6 6 0 1 0 .1 0M604 533a6 6 0 1 0 .1 0M604 529a6 6 0 1 0 .1 0M605 547a6 6 0 1 0 .1 0M605 546a6 6 0 1 0 .1 0M605 548a6 6 0 1 0 .1 0M606 529a6 6 0 1 0 .1 0M607 548a6 6 0 1 0 .1 0M607 534a6 6 0 1 0 .1 0M607 535a6 6 0 1 0 .1 0M607 536a6 6 0 1 0 .1 0M607 547a6 6 0 1 0 .1 0M607 533a6 6 0 1 0 .1 0M608 533a6 6 0 1 0 .1 0M608 550a6 6 0 1 0 .1 0M608 554a6 6 0 1 0 .1 0M608 534a6 6 0 1 0 .1 0M608 550a6 6 0 1 0 .1 0M609 549a6 6 0 1 0 .1 0M609 534a6 6 0 1 0 .1 0M609 534a6 6 0 1 0 .1 0M609 531a6 6 0 1 0 .1 0M609 534a6 6 0 1 0 .1 0M610 549a6 6 0 1 0 .1 0M610 548a6 6 0 1 0 .1 0M610 545a6 6 0 1 0 .1 0M610 536a6 6 0 1 0 .1 0M610 528a6 6 0 1 0 .1 0M611 534a6 6 0 1 0 .1 0M611 534a6 6 0 1 0 .1 0M611 546a6 6 0 1 0 .1 0M612 535a6 6 0 1 0 .1 0M612 534a6 6 0 1 0 .1 0M612 536a6 6 0 1 0 .1 0M613 535a6 6 0 1 0 .1 0M613 550a6 6 0 1 0 .1 0M613 535a6 6 0 1 0 .1 0M613 532a6 6 0 1 0 .1 0M613 536a6 6 0 1 0 .1 0M614 537a6 6 0 1 0 .1 0M614 534a6 6 0 1 0 .1 0M614 535a6 6 0 1 0 .1 0M615 547a6 6 0 1 0 .1 0M615 547a6 6 0 1 0 .1 0M615 547a6 6 0 1 0 .1 0M616 535a6 6 0 1 0 .1 0M617 550a6 6 0 1 0 .1 0M617 531a6 6 0 1 0 .1 0M617 534a6 6 0 1 0 .1 0M618 550a6 6 0 1 0 .1 0M618 547a6 6 0 1 0 .1 0M619 535a6 6 0 1 0 .1 0M619 547a6 6 0 1 0 .1 0M619 537a6 6 0 1 0 .1 0M620 552a6 6 0 1 0 .1 0M620 550a6 6 0 1 0 .1 0M620 535a6 6 0 1 0 .1 0M620 547a6 6 0 1 0 .1 0M621 536a6 6 0 1 0 .1 0M621 549a6 6 0 1 0 .1 0M621 550a6 6 0 1 0 .1 0M621 537a6 6 0 1 0 .1 0M621 550a6 6 0 1 0 .1 0M622 547a6 6 0 1 0 .1 0M622 535a6 6 0 1 0 .1 0M622 548a6 6 0 1 0 .1 0M622 536a6 6 0 1 0 .1 0M622 535a6 6 0 1 0 .1 0M622 550a6 6 0 1 0 .1 0M623 535a6 6 0 1 0 .1 0M623 547a6 6 0 1 0 .1 0M624 548a6 6 0 1 0 .1 0M624 536a6 6 0 1 0 .1 0M624 536a6 6 0 1 0 .1 0M624 546a6 6 0 1 0 .1 0M625 550a6 6 0 1 0 .1 0M625 551a6 6 0 1 0 .1 0M625 535a6 6 0 1 0 .1 0M625 549a6 6 0 1 0 .1 0M626 551a6 6 0 1 0 .1 0M626 536a6 6 0 1 0 .1 0M627 550a6 6 0 1 0 .1 0M627 536a6 6 0 1 0 .1 0M627 549a6 6 0 1 0 .1 0M627 553a6 6 0 1 0 .1 0M628 549a6 6 0 1 0 .1 0M628 536a6 6 0 1 0 .1 0M628 549a6 6 0 1 0 .1 0M629 549a6 6 0 1 0 .1 0M629 550a6 6 0 1 0 .1 0M629 536a6 6 0 1 0 .1 0M629 549a6 6 0 1 0 .1 0M629 551a6 6 0 1 0 .1 0M630 537a6 6 0 1 0 .1 0M630 537a6 6 0 1 0 .1 0M630 551a6 6 0 1 0 .1 0M631 537a6 6 0 1 0 .1 0M631 547a6 6 0 1 0 .1 0M632 533a6 6 0 1 0 .1 0M632 536a6 6 0 1 0 .1 0M632 534a6 6 0 1 0 .1 0M632 549a6 6 0 1 0 .1 0M632 537a6 6 0 1 0 .1 0M633 535a6 6 0 1 0 .1 0M634 547a6 6 0 1 0 .1 0M634 537a6 6 0 1 0 .1 0M634 548a6 6 0 1 0 .1 0M635 548a6 6 0 1 0 .1 0M635 550a6 6 0 1 0 .1 0M635 546a6 6 0 1 0 .1 0M635 548a6 6 0 1 0 .1 0M635 536a6 6 0 1 0 .1 0M635 537a6 6 0 1 0 .1 0M636 551a6 6 0 1 0 .1 0M636 534a6 6 0 1 0 .1 0M636 552a6 6 0 1 0 .1 0M636 537a6 6 0 1 0 .1 0M637 537a6 6 0 1 0 .1 0M637 537a6 6 0 1 0 .1 0M637 537a6 6 0 1 0 .1 0M638 547a6 6 0 1 0 .1 0M638 533a6 6 0 1 0 .1 0M638 548a6 6 0 1 0 .1 0M638 537a6 6 0 1 0 .1 0M638 533a6 6 0 1 0 .1 0M639 536a6 6 0 1 0 .1 0M639 547a6 6 0 1 0 .1 0M639 547a6 6 0 1 0 .1 0M640 557a6 6 0 1 0 .1 0M640 550a6 6 0 1 0 .1 0M640 548a6 6 0 1 0 .1 0M641 537a6 6 0 1 0 .1 0M641 535a6 6 0 1 0 .1 0M642 548a6 6 0 1 0 .1 0M643 536a6 6 0 1 0 .1 0M643 550a6 6 0 1 0 .1 0M644 536a6 6 0 1 0 .1 0M644 551a6 6 0 1 0 .1 0M644 536a6 6 0 1 0 .1 0M645 535a6 6 0 1 0 .1 0M645 536a6 6 0 1 0 .1 0M645 537a6 6 0 1 0 .1 0M645 547a6 6 0 1 0 .1 0M645 536a6 6 0 1 0 .1 0M646 536a6 6 0 1 0 .1 0M647 533a6 6 0 1 0 .1 0M647 548a6 6 0 1 0 .1 0M647 534a6 6 0 1 0 .1 0M648 535a6 6 0 1 0 .1 0M648 536a6 6 0 1 0 .1 0M648 548a6 6 0 1 0 .1 0M648 547a6 6 0 1 0 .1 0M649 547a6 6 0 1 0 .1 0M649 537a6 6 0 1 0 .1 0M649 536a6 6 0 1 0 .1 0M650 550a6 6 0 1 0 .1 0M650 537a6 6 0 1 0 .1 0M650 552a6 6 0 1 0 .1 0M651 537a6 6 0 1 0 .1 0M651 533a6 6 0 1 0 .1 0M651 547a6 6 0 1 0 .1 0M651 536a6 6 0 1 0 .1 0M652 537a6 6 0 1 0 .1 0M652 537a6 6 0 1 0 .1 0M652 536a6 6 0 1 0 .1 0M652 531a6 6 0 1 0 .1 0M652 548a6 6 0 1 0 .1 0M652 550a6 6 0 1 0 .1 0M653 535a6 6 0 1 0 .1 0M653 548a6 6 0 1 0 .1 0M653 554a6 6 0 1 0 .1 0M653 547a6 6 0 1 0 .1 0M653 535a6 6 0 1 0 .1 0M653 536a6 6 0 1 0 .1 0M654 537a6 6 0 1 0 .1 0M654 548a6 6 0 1 0 .1 0M654 551a6 6 0 1 0 .1 0M654 535a6 6 0 1 0 .1 0M655 548a6 6 0 1 0 .1 0M655 536a6 6 0 1 0 .1 0M655 537a6 6 0 1 0 .1 0M655 536a6 6 0 1 0 .1 0M655 534a6 6 0 1 0 .1 0M656 535a6 6 0 1 0 .1 0M656 550a6 6 0 1 0 .1 0M656 534a6 6 0 1 0 .1 0M657 537a6 6 0 1 0 .1 0M657 549a6 6 0 1 0 .1 0M657 537a6 6 0 1 0 .1 0M658 537a6 6 0 1 0 .1 0M658 546a6 6 0 1 0 .1 0M659 551a6 6 0 1 0 .1 0M659 549a6 6 0 1 0 .1 0M659 547a6 6 0 1 0 .1 0M660 552a6 6 0 1 0 .1 0M660 551a6 6 0 1 0 .1 0M660 533a6 6 0 1 0 .1 0M661 550a6 6 0 1 0 .1 0M661 537a6 6 0 1 0 .1 0M661 548a6 6 0 1 0 .1 0M661 547a6 6 0 1 0 .1 0M661 553a6 6 0 1 0 .1 0M662 548a6 6 0 1 0 .1 0M662 529a6 6 0 1 0 .1 0M662 549a6 6 0 1 0 .1 0M662 546a6 6 0 1 0 .1 0M663 547a6 6 0 1 0 .1 0M663 537a6 6 0 1 0 .1 0M663 537a6 6 0 1 0 .1 0M664 535a6 6 0 1 0 .1 0M664 548a6 6 0 1 0 .1 0M664 536a6 6 0 1 0 .1 0M664 536a6 6 0 1 0 .1 0M665 547a6 6 0 1 0 .1 0M666 550a6 6 0 1 0 .1 0M666 535a6 6 0 1 0 .1 0M666 535a6 6 0 1 0 .1 0M667 537a6 6 0 1 0 .1 0M667 537a6 6 0 1 0 .1 0M667 548a6 6 0 1 0 .1 0M668 550a6 6 0 1 0 .1 0M668 534a6 6 0 1 0 .1 0M668 548a6 6 0 1 0 .1 0M669 537a6 6 0 1 0 .1 0M669 550a6 6 0 1 0 .1 0M669 537a6 6 0 1 0 .1 0M670 548a6 6 0 1 0 .1 0M670 547a6 6 0 1 0 .1 0M671 538a6 6 0 1 0 .1 0M672 538a6 6 0 1 0 .1 0M672 533a6 6 0 1 0 .1 0M672 553a6 6 0 1 0 .1 0M672 547a6 6 0 1 0 .1 0M672 535a6 6 0 1 0 .1 0M673 537a6 6 0 1 0 .1 0M673 547a6 6 0 1 0 .1 0M674 538a6 6 0 1 0 .1 0M674 537a6 6 0 1 0 .1 0M675 547a6 6 0 1 0 .1 0M675 547a6 6 0 1 0 .1 0M675 546a6 6 0 1 0 .1 0M676 550a6 6 0 1 0 .1 0M676 551a6 6 0 1 0 .1 0M676 548a6 6 0 1 0 .1 0M677 551a6 6 0 1 0 .1 0M677 548a6 6 0 1 0 .1 0M677 548a6 6 0 1 0 .1 0M678 549a6 6 0 1 0 .1 0M678 548a6 6 0 1 0 .1 0M679 548a6 6 0 1 0 .1 0M679 548a6 6 0 1 0 .1 0M679 547a6 6 0 1 0 .1 0M679 533a6 6 0 1 0 .1 0M680 533a6 6 0 1 0 .1 0M680 536a6 6 0 1 0 .1 0M680 536a6 6 0 1 0 .1 0M681 550a6 6 0 1 0 .1 0M682 550a6 6 0 1 0 .1 0M682 535a6 6 0 1 0 .1 0M683 538a6 6 0 1 0 .1 0M683 537a6 6 0 1 0 .1 0M683 549a6 6 0 1 0 .1 0M684 535a6 6 0 1 0 .1 0M684 532a6 6 0 1 0 .1 0M684 536a6 6 0 1 0 .1 0M685 547a6 6 0 1 0 .1 0M685 535a6 6 0 1 0 .1 0M685 535a6 6 0 1 0 .1 0M686 552a6 6 0 1 0 .1 0M686 535a6 6 0 1 0 .1 0M686 535a6 6 0 1 0 .1 0M686 548a6 6 0 1 0 .1 0M687 550a6 6 0 1 0 .1 0M687 548a6 6 0 1 0 .1 0M687 538a6 6 0 1 0 .1 0M688 535a6 6 0 1 0 .1 0M688 548a6 6 0 1 0 .1 0M689 534a6 6 0 1 0 .1 0M689 536a6 6 0 1 0 .1 0M689 538a6 6 0 1 0 .1 0M689 537a6 6 0 1 0 .1 0M690 547a6 6 0 1 0 .1 0M690 536a6 6 0 1 0 .1 0M690 548a6 6 0 1 0 .1 0M691 538a6 6 0 1 0 .1 0M691 548a6 6 0 1 0 .1 0M691 550a6 6 0 1 0 .1 0M691 549a6 6 0 1 0 .1 0M691 535a6 6 0 1 0 .1 0M693 531a6 6 0 1 0 .1 0M693 547a6 6 0 1 0 .1 0M693 538a6 6 0 1 0 .1 0M693 536a6 6 0 1 0 .1 0M694 550a6 6 0 1 0 .1 0M694 551a6 6 0 1 0 .1 0M695 537a6 6 0 1 0 .1 0M695 536a6 6 0 1 0 .1 0M695 547a6 6 0 1 0 .1 0M695 534a6 6 0 1 0 .1 0M695 537a6 6 0 1 0 .1 0M696 536a6 6 0 1 0 .1 0M696 534a6 6 0 1 0 .1 0M696 534a6 6 0 1 0 .1 0M697 536a6 6 0 1 0 .1 0M697 547a6 6 0 1 0 .1 0M697 548a6 6 0 1 0 .1 0M698 548a6 6 0 1 0 .1 0M698 548a6 6 0 1 0 .1 0M698 551a6 6 0 1 0 .1 0M698 536a6 6 0 1 0 .1 0M698 548a6 6 0 1 0 .1 0M699 536a6 6 0 1 0 .1 0M699 538a6 6 0 1 0 .1 0M699 537a6 6 0 1 0 .1 0M699 537a6 6 0 1 0 .1 0M700 550a6 6 0 1 0 .1 0M700 551a6 6 0 1 0 .1 0M700 553a6 6 0 1 0 .1 0M701 548a6 6 0 1 0 .1 0M701 537a6 6 0 1 0 .1 0M701 549a6 6 0 1 0 .1 0M702 536a6 6 0 1 0 .1 0M702 536a6 6 0 1 0 .1 0M702 547a6 6 0 1 0 .1 0M702 537a6 6 0 1 0 .1 0M702 549a6 6 0 1 0 .1 0M703 532a6 6 0 1 0 .1 0M703 537a6 6 0 1 0 .1 0M703 546a6 6 0 1 0 .1 0M703 547a6 6 0 1 0 .1 0M703 537a6 6 0 1 0 .1 0M704 534a6 6 0 1 0 .1 0M704 547a6 6 0 1 0 .1 0M704 546a6 6 0 1 0 .1 0M704 547a6 6 0 1 0 .1 0M705 548a6 6 0 1 0 .1 0M705 553a6 6 0 1 0 .1 0M706 549a6 6 0 1 0 .1 0M706 536a6 6 0 1 0 .1 0M706 534a6 6 0 1 0 .1 0M707 535a6 6 0 1 0 .1 0M707 547a6 6 0 1 0 .1 0M707 552a6 6 0 1 0 .1 0M707 535a6 6 0 1 0 .1 0M708 535a6 6 0 1 0 .1 0M708 534a6 6 0 1 0 .1 0M708 533a6 6 0 1 0 .1 0M709 533a6 6 0 1 0 .1 0M709 536a6 6 0 1 0 .1 0M710 547a6 6 0 1 0 .1 0M710 547a6 6 0 1 0 .1 0M710 536a6 6 0 1 0 .1 0M710 551a6 6 0 1 0 .1 0M711 536a6 6 0 1 0 .1 0M711 534a6 6 0 1 0 .1 0M711 549a6 6 0 1 0 .1 0M711 546a6 6 0 1 0 .1 0M712 536a6 6 0 1 0 .1 0M712 550a6 6 0 1 0 .1 0M713 547a6 6 0 1 0 .1 0M713 536a6 6 0 1 0 .1 0M713 536a6 6 0 1 0 .1 0M714 536a6 6 0 1 0 .1 0M714 535a6 6 0 1 0 .1 0M715 535a6 6 0 1 0 .1 0M715 535a6 6 0 1 0 .1 0M716 548a6 6 0 1 0 .1 0M716 545a6 6 0 1 0 .1 0M716 545a6 6 0 1 0 .1 0M716 545a6 6 0 1 0 .1 0M716 546a6 6 0 1 0 .1 0M717 545a6 6 0 1 0 .1 0M717 536a6 6 0 1 0 .1 0M717 547a6 6 0 1 0 .1 0M717 535a6 6 0 1 0 .1 0M717 547a6 6 0 1 0 .1 0M718 535a6 6 0 1 0 .1 0M718 546a6 6 0 1 0 .1 0M718 545a6 6 0 1 0 .1 0M719 535a6 6 0 1 0 .1 0M719 546a6 6 0 1 0 .1 0M719 533a6 6 0 1 0 .1 0M720 546a6 6 0 1 0 .1 0M720 535a6 6 0 1 0 .1 0M720 550a6 6 0 1 0 .1 0M720 547a6 6 0 1 0 .1 0M721 545a6 6 0 1 0 .1 0M721 550a6 6 0 1 0 .1 0M721 532a6 6 0 1 0 .1 0M721 546a6 6 0 1 0 .1 0M722 532a6 6 0 1 0 .1 0M722 549a6 6 0 1 0 .1 0M722 532a6 6 0 1 0 .1 0M723 546a6 6 0 1 0 .1 0M723 551a6 6 0 1 0 .1 0M723 535a6 6 0 1 0 .1 0M724 536a6 6 0 1 0 .1 0M724 536a6 6 0 1 0 .1 0M724 533a6 6 0 1 0 .1 0M725 535a6 6 0 1 0 .1 0M725 535a6 6 0 1 0 .1 0M726 545a6 6 0 1 0 .1 0M726 545a6 6 0 1 0 .1 0M726 532a6 6 0 1 0 .1 0M727 545a6 6 0 1 0 .1 0M727 548a6 6 0 1 0 .1 0M727 529a6 6 0 1 0 .1 0M728 548a6 6 0 1 0 .1 0M728 533a6 6 0 1 0 .1 0M728 547a6 6 0 1 0 .1 0M728 536a6 6 0 1 0 .1 0M729 532a6 6 0 1 0 .1 0M729 534a6 6 0 1 0 .1 0M729 547a6 6 0 1 0 .1 0M729 530a6 6 0 1 0 .1 0M730 547a6 6 0 1 0 .1 0M730 546a6 6 0 1 0 .1 0M730 547a6 6 0 1 0 .1 0M730 550a6 6 0 1 0 .1 0M731 550a6 6 0 1 0 .1 0M731 552a6 6 0 1 0 .1 0M731 535a6 6 0 1 0 .1 0M732 536a6 6 0 1 0 .1 0M732 550a6 6 0 1 0 .1 0M732 546a6 6 0 1 0 .1 0M732 534a6 6 0 1 0 .1 0M732 545a6 6 0 1 0 .1 0M733 536a6 6 0 1 0 .1 0M733 529a6 6 0 1 0 .1 0M733 534a6 6 0 1 0 .1 0M733 534a6 6 0 1 0 .1 0M733 528a6 6 0 1 0 .1 0M733 548a6 6 0 1 0 .1 0M734 531a6 6 0 1 0 .1 0M734 546a6 6 0 1 0 .1 0M734 548a6 6 0 1 0 .1 0M734 533a6 6 0 1 0 .1 0M735 546a6 6 0 1 0 .1 0M735 536a6 6 0 1 0 .1 0M735 545a6 6 0 1 0 .1 0M735 548a6 6 0 1 0 .1 0M736 533a6 6 0 1 0 .1 0M736 546a6 6 0 1 0 .1 0M736 532a6 6 0 1 0 .1 0M736 534a6 6 0 1 0 .1 0M737 534a6 6 0 1 0 .1 0M737 548a6 6 0 1 0 .1 0M737 549a6 6 0 1 0 .1 0M738 547a6 6 0 1 0 .1 0M738 534a6 6 0 1 0 .1 0M739 531a6 6 0 1 0 .1 0M739 547a6 6 0 1 0 .1 0M739 536a6 6 0 1 0 .1 0M740 536a6 6 0 1 0 .1 0M740 535a6 6 0 1 0 .1 0M740 536a6 6 0 1 0 .1 0M741 535a6 6 0 1 0 .1 0M741 536a6 6 0 1 0 .1 0M741 537a6 6 0 1 0 .1 0M742 536a6 6 0 1 0 .1 0M742 536a6 6 0 1 0 .1 0M742 536a6 6 0 1 0 .1 0M743 547a6 6 0 1 0 .1 0M743 535a6 6 0 1 0 .1 0M743 550a6 6 0 1 0 .1 0M743 546a6 6 0 1 0 .1 0M744 536a6 6 0 1 0 .1 0M744 552a6 6 0 1 0 .1 0M744 546a6 6 0 1 0 .1 0M744 534a6 6 0 1 0 .1 0M745 547a6 6 0 1 0 .1 0M745 546a6 6 0 1 0 .1 0M745 548a6 6 0 1 0 .1 0M745 533a6 6 0 1 0 .1 0M746 546a6 6 0 1 0 .1 0M747 536a6 6 0 1 0 .1 0M747 547a6 6 0 1 0 .1 0M747 535a6 6 0 1 0 .1 0M747 546a6 6 0 1 0 .1 0M747 549a6 6 0 1 0 .1 0M747 537a6 6 0 1 0 .1 0M748 549a6 6 0 1 0 .1 0M748 557a6 6 0 1 0 .1 0M748 537a6 6 0 1 0 .1 0M748 533a6 6 0 1 0 .1 0M749 536a6 6 0 1 0 .1 0M750 534a6 6 0 1 0 .1 0M750 537a6 6 0 1 0 .1 0M750 549a6 6 0 1 0 .1 0M751 550a6 6 0 1 0 .1 0M751 546a6 6 0 1 0 .1 0M751 548a6 6 0 1 0 .1 0M751 548a6 6 0 1 0 .1 0M751 549a6 6 0 1 0 .1 0M752 546a6 6 0 1 0 .1 0M752 551a6 6 0 1 0 .1 0M752 536a6 6 0 1 0 .1 0M752 555a6 6 0 1 0 .1 0M752 535a6 6 0 1 0 .1 0M753 537a6 6 0 1 0 .1 0M753 532a6 6 0 1 0 .1 0M753 550a6 6 0 1 0 .1 0M753 536a6 6 0 1 0 .1 0M753 536a6 6 0 1 0 .1 0M754 534a6 6 0 1 0 .1 0M754 528a6 6 0 1 0 .1 0M754 548a6 6 0 1 0 .1 0M755 533a6 6 0 1 0 .1 0M755 551a6 6 0 1 0 .1 0M755 549a6 6 0 1 0 .1 0M755 552a6 6 0 1 0 .1 0M756 537a6 6 0 1 0 .1 0M756 535a6 6 0 1 0 .1 0M756 548a6 6 0 1 0 .1 0M756 534a6 6 0 1 0 .1 0M757 534a6 6 0 1 0 .1 0M757 535a6 6 0 1 0 .1 0M757 549a6 6 0 1 0 .1 0M757 535a6 6 0 1 0 .1 0M757 552a6 6 0 1 0 .1 0M757 550a6 6 0 1 0 .1 0M757 546a6 6 0 1 0 .1 0M758 547a6 6 0 1 0 .1 0M758 536a6 6 0 1 0 .1 0M758 549a6 6 0 1 0 .1 0M759 537a6 6 0 1 0 .1 0M759 534a6 6 0 1 0 .1 0M759 537a6 6 0 1 0 .1 0M760 549a6 6 0 1 0 .1 0M760 552a6 6 0 1 0 .1 0M761 535a6 6 0 1 0 .1 0M761 547a6 6 0 1 0 .1 0M761 549a6 6 0 1 0 .1 0M761 548a6 6 0 1 0 .1 0M761 552a6 6 0 1 0 .1 0M762 534a6 6 0 1 0 .1 0M762 553a6 6 0 1 0 .1 0M762 550a6 6 0 1 0 .1 0M762 547a6 6 0 1 0 .1 0M762 536a6 6 0 1 0 .1 0M762 535a6 6 0 1 0 .1 0M763 536a6 6 0 1 0 .1 0M763 554a6 6 0 1 0 .1 0M763 536a6 6 0 1 0 .1 0M764 548a6 6 0 1 0 .1 0M765 551a6 6 0 1 0 .1 0M765 537a6 6 0 1 0 .1 0M765 549a6 6 0 1 0 .1 0M765 547a6 6 0 1 0 .1 0M765 537a6 6 0 1 0 .1 0M765 537a6 6 0 1 0 .1 0M766 547a6 6 0 1 0 .1 0M766 547a6 6 0 1 0 .1 0M767 551a6 6 0 1 0 .1 0M767 537a6 6 0 1 0 .1 0M768 537a6 6 0 1 0 .1 0M768 532a6 6 0 1 0 .1 0M768 537a6 6 0 1 0 .1 0M769 550a6 6 0 1 0 .1 0M770 549a6 6 0 1 0 .1 0M771 534a6 6 0 1 0 .1 0M771 534a6 6 0 1 0 .1 0M771 536a6 6 0 1 0 .1 0M772 549a6 6 0 1 0 .1 0M772 550a6 6 0 1 0 .1 0M772 548a6 6 0 1 0 .1 0M773 537a6 6 0 1 0 .1 0M773 535a6 6 0 1 0 .1 0M774 550a6 6 0 1 0 .1 0M774 535a6 6 0 1 0 .1 0M774 536a6 6 0 1 0 .1 0M774 547a6 6 0 1 0 .1 0M774 551a6 6 0 1 0 .1 0M775 535a6 6 0 1 0 .1 0M775 548a6 6 0 1 0 .1 0M775 535a6 6 0 1 0 .1 0M775 534a6 6 0 1 0 .1 0M776 549a6 6 0 1 0 .1 0M776 546a6 6 0 1 0 .1 0M776 553a6 6 0 1 0 .1 0M777 537a6 6 0 1 0 .1 0M777 551a6 6 0 1 0 .1 0M777 552a6 6 0 1 0 .1 0M777 536a6 6 0 1 0 .1 0M777 536a6 6 0 1 0 .1 0M778 548a6 6 0 1 0 .1 0M778 536a6 6 0 1 0 .1 0M779 546a6 6 0 1 0 .1 0M779 537a6 6 0 1 0 .1 0M780 537a6 6 0 1 0 .1 0M780 537a6 6 0 1 0 .1 0M780 535a6 6 0 1 0 .1 0M781 550a6 6 0 1 0 .1 0M781 548a6 6 0 1 0 .1 0M782 546a6 6 0 1 0 .1 0M782 547a6 6 0 1 0 .1 0M782 536a6 6 0 1 0 .1 0M782 533a6 6 0 1 0 .1 0M783 548a6 6 0 1 0 .1 0M783 548a6 6 0 1 0 .1 0M784 534a6 6 0 1 0 .1 0M784 546a6 6 0 1 0 .1 0M784 537a6 6 0 1 0 .1 0M784 550a6 6 0 1 0 .1 0M784 547a6 6 0 1 0 .1 0M784 537a6 6 0 1 0 .1 0M785 535a6 6 0 1 0 .1 0M785 546a6 6 0 1 0 .1 0M785 546a6 6 0 1 0 .1 0M786 535a6 6 0 1 0 .1 0M786 549a6 6 0 1 0 .1 0M786 535a6 6 0 1 0 .1 0M786 536a6 6 0 1 0 .1 0M786 532a6 6 0 1 0 .1 0M787 548a6 6 0 1 0 .1 0M787 536a6 6 0 1 0 .1 0M788 550a6 6 0 1 0 .1 0M788 533a6 6 0 1 0 .1 0M788 547a6 6 0 1 0 .1 0M790 546a6 6 0 1 0 .1 0M790 546a6 6 0 1 0 .1 0M790 547a6 6 0 1 0 .1 0M791 536a6 6 0 1 0 .1 0M792 535a6 6 0 1 0 .1 0M792 536a6 6 0 1 0 .1 0M792 546a6 6 0 1 0 .1 0M792 535a6 6 0 1 0 .1 0M792 549a6 6 0 1 0 .1 0M793 537a6 6 0 1 0 .1 0M793 549a6 6 0 1 0 .1 0M793 550a6 6 0 1 0 .1 0M793 535a6 6 0 1 0 .1 0M794 547a6 6 0 1 0 .1 0M794 551a6 6 0 1 0 .1 0M794 548a6 6 0 1 0 .1 0M795 545a6 6 0 1 0 .1 0M795 546a6 6 0 1 0 .1 0M795 545a6 6 0 1 0 .1 0M795 537a6 6 0 1 0 .1 0M795 549a6 6 0 1 0 .1 0M796 532a6 6 0 1 0 .1 0M796 536a6 6 0 1 0 .1 0M797 532a6 6 0 1 0 .1 0M797 535a6 6 0 1 0 .1 0M797 536a6 6 0 1 0 .1 0M797 547a6 6 0 1 0 .1 0M797 536a6 6 0 1 0 .1 0M798 550a6 6 0 1 0 .1 0M798 545a6 6 0 1 0 .1 0M798 534a6 6 0 1 0 .1 0M798 533a6 6 0 1 0 .1 0M799 548a6 6 0 1 0 .1 0M799 550a6 6 0 1 0 .1 0M799 547a6 6 0 1 0 .1 0M799 535a6 6 0 1 0 .1 0M799 551a6 6 0 1 0 .1 0M800 547a6 6 0 1 0 .1 0M800 547a6 6 0 1 0 .1 0M800 534a6 6 0 1 0 .1 0M801 546a6 6 0 1 0 .1 0M801 555a6 6 0 1 0 .1 0M801 536a6 6 0 1 0 .1 0M801 548a6 6 0 1 0 .1 0M802 527a6 6 0 1 0 .1 0M802 535a6 6 0 1 0 .1 0M802 536a6 6 0 1 0 .1 0M802 545a6 6 0 1 0 .1 0M802 546a6 6 0 1 0 .1 0M802 549a6 6 0 1 0 .1 0M803 533a6 6 0 1 0 .1 0M803 552a6 6 0 1 0 .1 0M804 535a6 6 0 1 0 .1 0M804 535a6 6 0 1 0 .1 0M805 534a6 6 0 1 0 .1 0M805 548a6 6 0 1 0 .1 0M805 548a6 6 0 1 0 .1 0M806 548a6 6 0 1 0 .1 0M806 546a6 6 0 1 0 .1 0M806 533a6 6 0 1 0 .1 0M806 548a6 6 0 1 0 .1 0M808 536a6 6 0 1 0 .1 0M808 545a6 6 0 1 0 .1 0M808 535a6 6 0 1 0 .1 0M808 531a6 6 0 1 0 .1 0M808 546a6 6 0 1 0 .1 0M809 534a6 6 0 1 0 .1 0M809 536a6 6 0 1 0 .1 0M809 535a6 6 0 1 0 .1 0M809 546a6 6 0 1 0 .1 0M809 548a6 6 0 1 0 .1 0M809 546a6 6 0 1 0 .1 0M810 548a6 6 0 1 0 .1 0M810 545a6 6 0 1 0 .1 0M810 535a6 6 0 1 0 .1 0M811 546a6 6 0 1 0 .1 0M811 534a6 6 0 1 0 .1 0M811 535a6 6 0 1 0 .1 0M811 532a6 6 0 1 0 .1 0M811 546a6 6 0 1 0 .1 0M811 547a6 6 0 1 0 .1 0M811 534a6 6 0 1 0 .1 0M811 533a6 6 0 1 0 .1 0M812 545a6 6 0 1 0 .1 0M812 533a6 6 0 1 0 .1 0M812 550a6 6 0 1 0 .1 0M813 547a6 6 0 1 0 .1 0M813 548a6 6 0 1 0 .1 0M813 545a6 6 0 1 0 .1 0M813 549a6 6 0 1 0 .1 0M814 545a6 6 0 1 0 .1 0M814 536a6 6 0 1 0 .1 0M814 535a6 6 0 1 0 .1 0M814 532a6 6 0 1 0 .1 0M814 548a6 6 0 1 0 .1 0M815 535a6 6 0 1 0 .1 0M815 530a6 6 0 1 0 .1 0M815 536a6 6 0 1 0 .1 0M816 535a6 6 0 1 0 .1 0M816 535a6 6 0 1 0 .1 0M816 532a6 6 0 1 0 .1 0M817 546a6 6 0 1 0 .1 0M817 545a6 6 0 1 0 .1 0M818 547a6 6 0 1 0 .1 0M818 536a6 6 0 1 0 .1 0M818 548a6 6 0 1 0 .1 0M818 547a6 6 0 1 0 .1 0M818 547a6 6 0 1 0 .1 0M818 535a6 6 0 1 0 .1 0M818 535a6 6 0 1 0 .1 0M819 547a6 6 0 1 0 .1 0M819 547a6 6 0 1 0 .1 0M819 545a6 6 0 1 0 .1 0M819 546a6 6 0 1 0 .1 0M820 545a6 6 0 1 0 .1 0M820 546a6 6 0 1 0 .1 0M820 545a6 6 0 1 0 .1 0M820 533a6 6 0 1 0 .1 0M821 533a6 6 0 1 0 .1 0M821 535a6 6 0 1 0 .1 0M822 546a6 6 0 1 0 .1 0M823 548a6 6 0 1 0 .1 0M823 545a6 6 0 1 0 .1 0M823 536a6 6 0 1 0 .1 0M823 535a6 6 0 1 0 .1 0M823 545a6 6 0 1 0 .1 0M823 535a6 6 0 1 0 .1 0M824 533a6 6 0 1 0 .1 0M824 547a6 6 0 1 0 .1 0M825 546a6 6 0 1 0 .1 0M825 552a6 6 0 1 0 .1 0M825 549a6 6 0 1 0 .1 0M825 536a6 6 0 1 0 .1 0M826 550a6 6 0 1 0 .1 0M826 533a6 6 0 1 0 .1 0M826 546a6 6 0 1 0 .1 0M827 536a6 6 0 1 0 .1 0M827 535a6 6 0 1 0 .1 0M828 534a6 6 0 1 0 .1 0M828 546a6 6 0 1 0 .1 0M828 536a6 6 0 1 0 .1 0M828 536a6 6 0 1 0 .1 0M828 533a6 6 0 1 0 .1 0M829 534a6 6 0 1 0 .1 0M829 535a6 6 0 1 0 .1 0M829 532a6 6 0 1 0 .1 0M829 559a6 6 0 1 0 .1 0M830 548a6 6 0 1 0 .1 0M830 550a6 6 0 1 0 .1 0M830 534a6 6 0 1 0 .1 0M830 546a6 6 0 1 0 .1 0M830 536a6 6 0 1 0 .1 0M830 532a6 6 0 1 0 .1 0M831 536a6 6 0 1 0 .1 0M831 554a6 6 0 1 0 .1 0M831 549a6 6 0 1 0 .1 0M831 547a6 6 0 1 0 .1 0M832 535a6 6 0 1 0 .1 0M832 536a6 6 0 1 0 .1 0M832 535a6 6 0 1 0 .1 0M832 531a6 6 0 1 0 .1 0M833 534a6 6 0 1 0 .1 0M833 546a6 6 0 1 0 .1 0M833 547a6 6 0 1 0 .1 0M834 536a6 6 0 1 0 .1 0M834 546a6 6 0 1 0 .1 0M834 535a6 6 0 1 0 .1 0M835 546a6 6 0 1 0 .1 0M835 533a6 6 0 1 0 .1 0M835 547a6 6 0 1 0 .1 0M835 547a6 6 0 1 0 .1 0M836 536a6 6 0 1 0 .1 0M836 532a6 6 0 1 0 .1 0M836 549a6 6 0 1 0 .1 0M837 535a6 6 0 1 0 .1 0M837 548a6 6 0 1 0 .1 0M837 536a6 6 0 1 0 .1 0M838 533a6 6 0 1 0 .1 0M838 536a6 6 0 1 0 .1 0M838 545a6 6 0 1 0 .1 0M839 535a6 6 0 1 0 .1 0M839 535a6 6 0 1 0 .1 0M839 548a6 6 0 1 0 .1 0M839 546a6 6 0 1 0 .1 0M839 536a6 6 0 1 0 .1 0M839 546a6 6 0 1 0 .1 0M839 546a6 6 0 1 0 .1 0M840 530a6 6 0 1 0 .1 0M840 548a6 6 0 1 0 .1 0M840 537a6 6 0 1 0 .1 0M840 550a6 6 0 1 0 .1 0M841 551a6 6 0 1 0 .1 0M841 549a6 6 0 1 0 .1 0M842 533a6 6 0 1 0 .1 0M842 546a6 6 0 1 0 .1 0M842 535a6 6 0 1 0 .1 0M843 536a6 6 0 1 0 .1 0M843 537a6 6 0 1 0 .1 0M844 537a6 6 0 1 0 .1 0M844 550a6 6 0 1 0 .1 0M845 548a6 6 0 1 0 .1 0M845 537a6 6 0 1 0 .1 0M845 537a6 6 0 1 0 .1 0M846 549a6 6 0 1 0 .1 0M846 533a6 6 0 1 0 .1 0M846 536a6 6 0 1 0 .1 0M846 547a6 6 0 1 0 .1 0M846 547a6 6 0 1 0 .1 0M847 548a6 6 0 1 0 .1 0M847 536a6 6 0 1 0 .1 0M847 551a6 6 0 1 0 .1 0M847 548a6 6 0 1 0 .1 0M847 538a6 6 0 1 0 .1 0M847 536a6 6 0 1 0 .1 0M848 550a6 6 0 1 0 .1 0M849 548a6 6 0 1 0 .1 0M849 551a6 6 0 1 0 .1 0M849 533a6 6 0 1 0 .1 0M849 548a6 6 0 1 0 .1 0M849 551a6 6 0 1 0 .1 0M849 547a6 6 0 1 0 .1 0M850 550a6 6 0 1 0 .1 0M851 551a6 6 0 1 0 .1 0M851 537a6 6 0 1 0 .1 0M852 552a6 6 0 1 0 .1 0M852 551a6 6 0 1 0 .1 0M852 536a6 6 0 1 0 .1 0M853 537a6 6 0 1 0 .1 0M853 538a6 6 0 1 0 .1 0M854 551a6 6 0 1 0 .1 0M855 538a6 6 0 1 0 .1 0M855 552a6 6 0 1 0 .1 0M855 551a6 6 0 1 0 .1 0M855 550a6 6 0 1 0 .1 0M855 538a6 6 0 1 0 .1 0M856 536a6 6 0 1 0 .1 0M856 553a6 6 0 1 0 .1 0M856 551a6 6 0 1 0 .1 0M856 555a6 6 0 1 0 .1 0M856 552a6 6 0 1 0 .1 0M856 539a6 6 0 1 0 .1 0M856 552a6 6 0 1 0 .1 0M857 549a6 6 0 1 0 .1 0M857 550a6 6 0 1 0 .1 0M858 549a6 6 0 1 0 .1 0M858 556a6 6 0 1 0 .1 0M858 537a6 6 0 1 0 .1 0M859 550a6 6 0 1 0 .1 0M860 538a6 6 0 1 0 .1 0M860 538a6 6 0 1 0 .1 0M860 539a6 6 0 1 0 .1 0M860 537a6 6 0 1 0 .1 0M860 552a6 6 0 1 0 .1 0M861 553a6 6 0 1 0 .1 0M861 539a6 6 0 1 0 .1 0M861 537a6 6 0 1 0 .1 0M862 539a6 6 0 1 0 .1 0M862 539a6 6 0 1 0 .1 0M862 555a6 6 0 1 0 .1 0M862 539a6 6 0 1 0 .1 0M863 550a6 6 0 1 0 .1 0M863 538a6 6 0 1 0 .1 0M863 550a6 6 0 1 0 .1 0M863 548a6 6 0 1 0 .1 0M863 548a6 6 0 1 0 .1 0M863 549a6 6 0 1 0 .1 0M864 536a6 6 0 1 0 .1 0M864 536a6 6 0 1 0 .1 0M864 550a6 6 0 1 0 .1 0M864 538a6 6 0 1 0 .1 0M864 552a6 6 0 1 0 .1 0M864 550a6 6 0 1 0 .1 0M864 538a6 6 0 1 0 .1 0M865 549a6 6 0 1 0 .1 0M865 549a6 6 0 1 0 .1 0M865 538a6 6 0 1 0 .1 0M865 535a6 6 0 1 0 .1 0M865 549a6 6 0 1 0 .1 0M866 553a6 6 0 1 0 .1 0M866 548a6 6 0 1 0 .1 0M866 537a6 6 0 1 0 .1 0M866 551a6 6 0 1 0 .1 0M867 551a6 6 0 1 0 .1 0M867 538a6 6 0 1 0 .1 0M867 552a6 6 0 1 0 .1 0M868 549a6 6 0 1 0 .1 0M868 536a6 6 0 1 0 .1 0M869 535a6 6 0 1 0 .1 0M869 537a6 6 0 1 0 .1 0M869 551a6 6 0 1 0 .1 0M869 549a6 6 0 1 0 .1 0M869 537a6 6 0 1 0 .1 0M870 538a6 6 0 1 0 .1 0M870 535a6 6 0 1 0 .1 0M870 549a6 6 0 1 0 .1 0M870 536a6 6 0 1 0 .1 0M870 537a6 6 0 1 0 .1 0M870 547a6 6 0 1 0 .1 0M871 537a6 6 0 1 0 .1 0M871 537a6 6 0 1 0 .1 0M871 551a6 6 0 1 0 .1 0M871 551a6 6 0 1 0 .1 0M872 551a6 6 0 1 0 .1 0M872 547a6 6 0 1 0 .1 0M873 538a6 6 0 1 0 .1 0M873 549a6 6 0 1 0 .1 0M874 548a6 6 0 1 0 .1 0M874 531a6 6 0 1 0 .1 0M874 556a6 6 0 1 0 .1 0M875 537a6 6 0 1 0 .1 0M875 547a6 6 0 1 0 .1 0M875 538a6 6 0 1 0 .1 0M875 551a6 6 0 1 0 .1 0M875 534a6 6 0 1 0 .1 0M876 536a6 6 0 1 0 .1 0M876 534a6 6 0 1 0 .1 0M876 536a6 6 0 1 0 .1 0M876 547a6 6 0 1 0 .1 0M876 536a6 6 0 1 0 .1 0M877 549a6 6 0 1 0 .1 0M877 536a6 6 0 1 0 .1 0M877 546a6 6 0 1 0 .1 0M877 537a6 6 0 1 0 .1 0M878 535a6 6 0 1 0 .1 0M878 546a6 6 0 1 0 .1 0M878 550a6 6 0 1 0 .1 0M878 547a6 6 0 1 0 .1 0M879 548a6 6 0 1 0 .1 0M879 546a6 6 0 1 0 .1 0M879 547a6 6 0 1 0 .1 0M879 533a6 6 0 1 0 .1 0M879 548a6 6 0 1 0 .1 0M880 548a6 6 0 1 0 .1 0M880 548a6 6 0 1 0 .1 0M880 533a6 6 0 1 0 .1 0M880 548a6 6 0 1 0 .1 0M881 548a6 6 0 1 0 .1 0M881 546a6 6 0 1 0 .1 0M881 534a6 6 0 1 0 .1 0M881 549a6 6 0 1 0 .1 0M881 546a6 6 0 1 0 .1 0M881 551a6 6 0 1 0 .1 0M882 546a6 6 0 1 0 .1 0M882 537a6 6 0 1 0 .1 0M882 536a6 6 0 1 0 .1 0M882 533a6 6 0 1 0 .1 0M883 552a6 6 0 1 0 .1 0M883 546a6 6 0 1 0 .1 0M883 534a6 6 0 1 0 .1 0M883 530a6 6 0 1 0 .1 0M884 535a6 6 0 1 0 .1 0M884 527a6 6 0 1 0 .1 0M884 545a6 6 0 1 0 .1 0M884 545a6 6 0 1 0 .1 0M885 534a6 6 0 1 0 .1 0M885 534a6 6 0 1 0 .1 0M885 546a6 6 0 1 0 .1 0M885 535a6 6 0 1 0 .1 0M885 553a6 6 0 1 0 .1 0M885 550a6 6 0 1 0 .1 0M885 549a6 6 0 1 0 .1 0M885 535a6 6 0 1 0 .1 0M886 536a6 6 0 1 0 .1 0M886 546a6 6 0 1 0 .1 0M886 534a6 6 0 1 0 .1 0M886 533a6 6 0 1 0 .1 0M886 533a6 6 0 1 0 .1 0M886 527a6 6 0 1 0 .1 0M887 535a6 6 0 1 0 .1 0M887 536a6 6 0 1 0 .1 0M887 546a6 6 0 1 0 .1 0M888 535a6 6 0 1 0 .1 0M888 533a6 6 0 1 0 .1 0M888 546a6 6 0 1 0 .1 0M888 536a6 6 0 1 0 .1 0M888 546a6 6 0 1 0 .1 0M888 550a6 6 0 1 0 .1 0M889 549a6 6 0 1 0 .1 0M889 535a6 6 0 1 0 .1 0M890 531a6 6 0 1 0 .1 0M890 534a6 6 0 1 0 .1 0M890 536a6 6 0 1 0 .1 0M890 535a6 6 0 1 0 .1 0M890 533a6 6 0 1 0 .1 0M890 546a6 6 0 1 0 .1 0M891 537a6 6 0 1 0 .1 0M891 549a6 6 0 1 0 .1 0M891 531a6 6 0 1 0 .1 0M891 531a6 6 0 1 0 .1 0M892 533a6 6 0 1 0 .1 0M892 533a6 6 0 1 0 .1 0M892 536a6 6 0 1 0 .1 0M893 534a6 6 0 1 0 .1 0M893 536a6 6 0 1 0 .1 0M893 548a6 6 0 1 0 .1 0M893 549a6 6 0 1 0 .1 0M894 546a6 6 0 1 0 .1 0M894 553a6 6 0 1 0 .1 0M895 551a6 6 0 1 0 .1 0M895 533a6 6 0 1 0 .1 0M895 532a6 6 0 1 0 .1 0M896 552a6 6 0 1 0 .1 0M896 550a6 6 0 1 0 .1 0M897 538a6 6 0 1 0 .1 0M897 538a6 6 0 1 0 .1 0M897 538a6 6 0 1 0 .1 0M897 543a6 6 0 1 0 .1 0M897 547a6 6 0 1 0 .1 0M897 538a6 6 0 1 0 .1 0M897 551a6 6 0 1 0 .1 0M897 540a6 6 0 1 0 .1 0M897 545a6 6 0 1 0 .1 0M897 536a6 6 0 1 0 .1 0M897 547a6 6 0 1 0 .1 0M898 539a6 6 0 1 0 .1 0M898 540a6 6 0 1 0 .1 0M898 538a6 6 0 1 0 .1 0M898 537a6 6 0 1 0 .1 0M898 544a6 6 0 1 0 .1 0M898 556a6 6 0 1 0 .1 0M898 535a6 6 0 1 0 .1 0M898 543a6 6 0 1 0 .1 0M898 552a6 6 0 1 0 .1 0M898 539a6 6 0 1 0 .1 0M898 542a6 6 0 1 0 .1 0M899 541a6 6 0 1 0 .1 0M899 547a6 6 0 1 0 .1 0M899 541a6 6 0 1 0 .1 0M899 541a6 6 0 1 0 .1 0M899 551a6 6 0 1 0 .1 0M899 543a6 6 0 1 0 .1 0M899 535a6 6 0 1 0 .1 0M899 538a6 6 0 1 0 .1 0M899 541a6 6 0 1 0 .1 0M899 543a6 6 0 1 0 .1 0M900 537a6 6 0 1 0 .1 0M900 540a6 6 0 1 0 .1 0M900 548a6 6 0 1 0 .1 0M900 542a6 6 0 1 0 .1 0M900 531a6 6 0 1 0 .1 0M900 545a6 6 0 1 0 .1 0M900 532a6 6 0 1 0 .1 0M900 546a6 6 0 1 0 .1 0M900 536a6 6 0 1 0 .1 0M900 550a6 6 0 1 0 .1 0M900 542a6 6 0 1 0 .1 0M901 535a6 6 0 1 0 .1 0M901 540a6 6 0 1 0 .1 0M901 534a6 6 0 1 0 .1 0M901 536a6 6 0 1 0 .1 0M901 546a6 6 0 1 0 .1 0M901 539a6 6 0 1 0 .1 0M901 536a6 6 0 1 0 .1 0M901 537a6 6 0 1 0 .1 0M901 539a6 6 0 1 0 .1 0M901 540a6 6 0 1 0 .1 0M902 550a6 6 0 1 0 .1 0M902 542a6 6 0 1 0 .1 0M902 533a6 6 0 1 0 .1 0M902 532a6 6 0 1 0 .1 0M902 544a6 6 0 1 0 .1 0M902 548a6 6 0 1 0 .1 0M902 537a6 6 0 1 0 .1 0M902 546a6 6 0 1 0 .1 0M902 539a6 6 0 1 0 .1 0M902 542a6 6 0 1 0 .1 0M902 546a6 6 0 1 0 .1 0M903 536a6 6 0 1 0 .1 0M903 538a6 6 0 1 0 .1 0M903 537a6 6 0 1 0 .1 0M903 542a6 6 0 1 0 .1 0M903 543a6 6 0 1 0 .1 0M903 540a6 6 0 1 0 .1 0M903 537a6 6 0 1 0 .1 0M903 536a6 6 0 1 0 .1 0M903 537a6 6 0 1 0 .1 0M903 551a6 6 0 1 0 .1 0M904 543a6 6 0 1 0 .1 0M130 556a6 6 0 1 0 .1 0M178 557a6 6 0 1 0 .1 0M215 558a6 6 0 1 0 .1 0M257 563a6 6 0 1 0 .1 0M320 561a6 6 0 1 0 .1 0M322 560a6 6 0 1 0 .1 0M375 562a6 6 0 1 0 .1 0M376 570a6 6 0 1 0 .1 0M470 566a6 6 0 1 0 .1 0M567 567a6 6 0 1 0 .1 0M600 563a6 6 0 1 0 .1 0M649 564a6 6 0 1 0 .1 0M718 565a6 6 0 1 0 .1 0M722 566a6 6 0 1 0 .1 0M753 564a6 6 0 1 0 .1 0M813 561a6 6 0 1 0 .1 0M839 562a6 6 0 1 0 .1 0" stroke="#00f" stroke-width="1" fill="none"/><path d="M129.5 64.5H904.5V779.5H129.5ZM139.5 779.5v-8M139.5 64.5v8M207.5 779.5v-8M207.5 64.5v8M276.5 779.5v-8M276.5 64.5v8M344.5 779.5v-8M344.5 64.5v8M413.5 779.5v-8M413.5 64.5v8M482.5 779.5v-8M482.5 64.5v8M550.5 779.5v-8M550.5 64.5v8M619.5 779.5v-8M619.5 64.5v8M687.5 779.5v-8M687.5 64.5v8M756.5 779.5v-8M756.5 64.5v8M824.5 779.5v-8M824.5 64.5v8M893.5 779.5v-8M893.5 64.5v8M129.5 737.5h8M904.5 737.5h-8M129.5 628.5h8M904.5 628.5h-8M129.5 519.5h8M904.5 519.5h-8M129.5 410.5h8M904.5 410.5h-8M129.5 302.5h8M904.5 302.5h-8M129.5 193.5h8M904.5 193.5h-8M129.5 84.5h8M904.5 84.5h-8" stroke="#262626" stroke-width="1" fill="none"/><text x="138.4" y="808" font-size="22.6" fill="#262626" text-anchor="middle" textLength="52.6" lengthAdjust="spacingAndGlyphs">2003</text><text x="206.4" y="808" font-size="22.6" fill="#262626" text-anchor="middle" textLength="52.6" lengthAdjust="spacingAndGlyphs">2005</text><text x="275.4" y="808" font-size="22.6" fill="#262626" text-anchor="middle" textLength="52.6" lengthAdjust="spacingAndGlyphs">2007</text><text x="343.4" y="808" font-size="22.6" fill="#262626" text-anchor="middle" textLength="52.6" lengthAdjust="spacingAndGlyphs">2009</text><text x="412.4" y="808" font-size="22.6" fill="#262626" text-anchor="middle" textLength="52.6" lengthAdjust="spacingAndGlyphs">2011</text><text x="481.4" y="808" font-size="22.6" fill="#262626" text-anchor="middle" textLength="52.6" lengthAdjust="spacingAndGlyphs">2013</text><text x="549.4" y="808" font-size="22.6" fill="#262626" text-anchor="middle" textLength="52.6" lengthAdjust="spacingAndGlyphs">2015</text><text x="618.4" y="808" font-size="22.6" fill="#262626" text-anchor="middle" textLength="52.6" lengthAdjust="spacingAndGlyphs">2017</text><text x="686.4" y="808" font-size="22.6" fill="#262626" text-anchor="middle" textLength="52.6" lengthAdjust="spacingAndGlyphs">2019</text><text x="755.4" y="808" font-size="22.6" fill="#262626" text-anchor="middle" textLength="52.6" lengthAdjust="spacingAndGlyphs">2021</text><text x="823.4" y="808" font-size="22.6" fill="#262626" text-anchor="middle" textLength="52.6" lengthAdjust="spacingAndGlyphs">2023</text><text x="892.4" y="808" font-size="22.6" fill="#262626" text-anchor="middle" textLength="52.6" lengthAdjust="spacingAndGlyphs">2025</text><text x="120.1" y="744.1" font-size="22.6" fill="#262626" text-anchor="end" textLength="31.6" lengthAdjust="spacingAndGlyphs">0.1</text><text x="118.6" y="635.1" font-size="22.6" fill="#262626" text-anchor="end" textLength="45.0" lengthAdjust="spacingAndGlyphs">0.15</text><text x="120.1" y="526.1" font-size="22.6" fill="#262626" text-anchor="end" textLength="31.6" lengthAdjust="spacingAndGlyphs">0.2</text><text x="118.6" y="417.8" font-size="22.6" fill="#262626" text-anchor="end" textLength="45.0" lengthAdjust="spacingAndGlyphs">0.25</text><text x="120.1" y="309.1" font-size="22.6" fill="#262626" text-anchor="end" textLength="31.6" lengthAdjust="spacingAndGlyphs">0.3</text><text x="118.6" y="200.1" font-size="22.6" fill="#262626" text-anchor="end" textLength="45.0" lengthAdjust="spacingAndGlyphs">0.35</text><text x="120.1" y="91.1" font-size="22.6" fill="#262626" text-anchor="end" textLength="31.6" lengthAdjust="spacingAndGlyphs">0.4</text><text transform="translate(60,650.9) rotate(-90)" x="0" y="0" font-size="23.5" fill="#262626" textLength="63.6" lengthAdjust="spacingAndGlyphs">Noise</text><text transform="translate(60,579.6) rotate(-90)" x="0" y="0" font-size="23.5" fill="#262626" textLength="121.2" lengthAdjust="spacingAndGlyphs">Equivalent</text><text transform="translate(60,450.4) rotate(-90)" x="0" y="0" font-size="23.5" fill="#262626" textLength="59.8" lengthAdjust="spacingAndGlyphs">Delta</text><text transform="translate(60,384.5) rotate(-90)" x="0" y="0" font-size="23.5" fill="#262626" textLength="150.9" lengthAdjust="spacingAndGlyphs">Temperature</text><text transform="translate(60,225.2) rotate(-90)" x="0" y="0" font-size="23.5" fill="#262626" textLength="31.5" lengthAdjust="spacingAndGlyphs">(K)</text><text x="296.8" y="22.6" font-size="23" font-weight="bold" fill="#000" textLength="61.7" lengthAdjust="spacingAndGlyphs">AIRS</text><text x="365.0" y="22.6" font-size="23" font-weight="bold" fill="#000" textLength="105.8" lengthAdjust="spacingAndGlyphs">Channel</text><text x="478.1" y="22.6" font-size="23" font-weight="bold" fill="#000" textLength="64.9" lengthAdjust="spacingAndGlyphs">2178</text><text x="550.9" y="22.6" font-size="23" font-weight="bold" fill="#000" textLength="67.0" lengthAdjust="spacingAndGlyphs">NEdT</text><text x="624.8" y="22.6" font-size="23" font-weight="bold" fill="#000" textLength="109.4" lengthAdjust="spacingAndGlyphs">(@250K)</text><text x="362.4" y="52.8" font-size="23" font-weight="bold" fill="#000" textLength="98.6" lengthAdjust="spacingAndGlyphs">[M-02a,</text><text x="466.9" y="52.8" font-size="23" font-weight="bold" fill="#000" textLength="121.5" lengthAdjust="spacingAndGlyphs">2480.451</text><text x="596.2" y="52.8" font-size="23" font-weight="bold" fill="#000" textLength="73.0" lengthAdjust="spacingAndGlyphs">cm-1]</text><rect x="937.5" y="64.5" width="138" height="86" fill="#fff" stroke="#262626" stroke-width="1"/><path d="M973.6 77.1l8 8m0-8l-8 8" stroke="#0f0" fill="none"/><path d="M971 107.5h13M977.5 101v13" stroke="#f00" fill="none"/><circle cx="977.6" cy="133.2" r="6.2" stroke="#00f" fill="none"/><text x="1015.4" y="87.6" font-size="19.6" fill="#000" textLength="50.0" lengthAdjust="spacingAndGlyphs">Mean</text><text x="1015.4" y="113.5" font-size="19.6" fill="#000" textLength="38.2" lengthAdjust="spacingAndGlyphs">Max</text><text x="1015.4" y="139.2" font-size="19.6" fill="#000" textLength="31.6" lengthAdjust="spacingAndGlyphs">Min</text><text x="966.3" y="24.4" font-size="13" font-weight="bold" fill="#000" textLength="174" lengthAdjust="spacingAndGlyphs">Jet Propulsion Laboratory</text><text x="966.8" y="37.6" font-size="10.5" fill="#000" textLength="173" lengthAdjust="spacingAndGlyphs">California Institute of Technology</text><g><circle cx="936" cy="25.6" r="20.6" fill="#1e3e9c"/><ellipse cx="934" cy="25" rx="17" ry="4.5" fill="none" stroke="#dfe6ff" stroke-width="0.9" transform="rotate(58 934 25)"/><circle cx="927" cy="13" r="0.8" fill="#fff"/><circle cx="940" cy="10" r="0.8" fill="#fff"/><circle cx="924" cy="20" r="0.8" fill="#fff"/><circle cx="948" cy="33" r="0.8" fill="#fff"/><circle cx="930" cy="42" r="0.8" fill="#fff"/><circle cx="946" cy="41" r="0.8" fill="#fff"/><circle cx="921" cy="35" r="0.8" fill="#fff"/><circle cx="951" cy="16" r="0.8" fill="#fff"/><circle cx="933" cy="15" r="0.8" fill="#fff"/><path d="M913.5 31.8 C925 30 934 27 940 23.5 C947 19.5 955 13 964 7.5 C959 15.5 953 21.5 945 26 C936 30 925 31.5 913.5 31.8 Z" fill="#d8352a"/><text x="936.3" y="29.6" font-size="10" font-weight="bold" fill="#fff" text-anchor="middle" textLength="36" lengthAdjust="spacingAndGlyphs">NASA</text></g></svg></body></html>
